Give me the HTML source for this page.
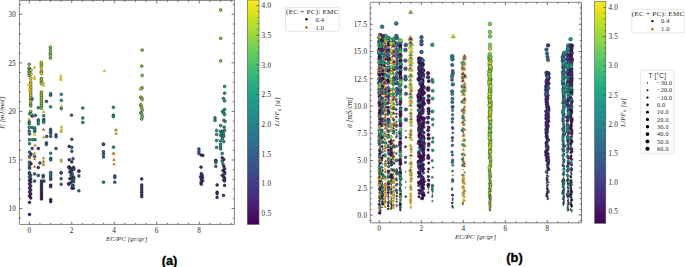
<!DOCTYPE html><html><head><meta charset="utf-8"><style>html,body{margin:0;padding:0;background:#fff;overflow:hidden}text{fill:#1e1e1e;letter-spacing:0.25px}svg{display:block}</style></head><body><svg width="685" height="267" viewBox="0 0 685 267"><defs><clipPath id="c1"><rect x="19.4" y="0.45" width="215.0" height="224.0"/></clipPath><clipPath id="c2"><rect x="370.2" y="2.3" width="211.2" height="220.5"/></clipPath></defs><g clip-path="url(#c1)"><circle cx="50.4" cy="47.2" r="1.42" fill="#75d054" stroke="#1a1a1a" stroke-width="0.5"/><circle cx="50.4" cy="49.9" r="1.42" fill="#75d054" stroke="#1a1a1a" stroke-width="0.5"/><circle cx="50.4" cy="52.8" r="1.42" fill="#75d054" stroke="#1a1a1a" stroke-width="0.5"/><circle cx="50.4" cy="55.1" r="1.42" fill="#75d054" stroke="#1a1a1a" stroke-width="0.5"/><circle cx="50.4" cy="58" r="1.42" fill="#75d054" stroke="#1a1a1a" stroke-width="0.5"/><circle cx="29.2" cy="64.3" r="1.42" fill="#75d054" stroke="#1a1a1a" stroke-width="0.5"/><circle cx="29.2" cy="68.2" r="1.42" fill="#3dbc74" stroke="#1a1a1a" stroke-width="0.5"/><circle cx="29.2" cy="69.7" r="1.42" fill="#75d054" stroke="#1a1a1a" stroke-width="0.5"/><circle cx="29.2" cy="71.3" r="1.42" fill="#75d054" stroke="#1a1a1a" stroke-width="0.5"/><circle cx="29.2" cy="73.3" r="1.42" fill="#75d054" stroke="#1a1a1a" stroke-width="0.5"/><circle cx="29.2" cy="75.4" r="1.42" fill="#75d054" stroke="#1a1a1a" stroke-width="0.5"/><circle cx="31" cy="70.1" r="1.42" fill="#efe51c" stroke="#1a1a1a" stroke-width="0.5"/><circle cx="31" cy="74.1" r="1.42" fill="#efe51c" stroke="#1a1a1a" stroke-width="0.5"/><circle cx="30.7" cy="78.4" r="1.42" fill="#efe51c" stroke="#1a1a1a" stroke-width="0.5"/><circle cx="30.7" cy="82" r="1.42" fill="#efe51c" stroke="#1a1a1a" stroke-width="0.5"/><circle cx="30.7" cy="84" r="1.42" fill="#efe51c" stroke="#1a1a1a" stroke-width="0.5"/><circle cx="30.7" cy="86" r="1.42" fill="#efe51c" stroke="#1a1a1a" stroke-width="0.5"/><circle cx="30.7" cy="88" r="1.42" fill="#efe51c" stroke="#1a1a1a" stroke-width="0.5"/><circle cx="30.7" cy="90" r="1.42" fill="#efe51c" stroke="#1a1a1a" stroke-width="0.5"/><circle cx="30.7" cy="92" r="1.42" fill="#efe51c" stroke="#1a1a1a" stroke-width="0.5"/><circle cx="30.7" cy="94" r="1.42" fill="#efe51c" stroke="#1a1a1a" stroke-width="0.5"/><circle cx="30.7" cy="96" r="1.42" fill="#efe51c" stroke="#1a1a1a" stroke-width="0.5"/><circle cx="30.7" cy="98" r="1.42" fill="#efe51c" stroke="#1a1a1a" stroke-width="0.5"/><circle cx="30.7" cy="100" r="1.42" fill="#efe51c" stroke="#1a1a1a" stroke-width="0.5"/><circle cx="30.7" cy="101.5" r="1.42" fill="#efe51c" stroke="#1a1a1a" stroke-width="0.5"/><circle cx="30.7" cy="104" r="1.42" fill="#75d054" stroke="#1a1a1a" stroke-width="0.5"/><circle cx="30.7" cy="106" r="1.42" fill="#75d054" stroke="#1a1a1a" stroke-width="0.5"/><path d="M34.5 65.91L35.92 68.29L33.08 68.29Z" fill="#75d054" stroke="#f5a623" stroke-width="0.6"/><path d="M34.5 75.41L35.92 77.79L33.08 77.79Z" fill="#75d054" stroke="#f5a623" stroke-width="0.6"/><path d="M34.5 77.41L35.92 79.79L33.08 79.79Z" fill="#75d054" stroke="#f5a623" stroke-width="0.6"/><circle cx="41.4" cy="62.3" r="1.42" fill="#efe51c" stroke="#1a1a1a" stroke-width="0.5"/><circle cx="41.4" cy="64.1" r="1.42" fill="#efe51c" stroke="#1a1a1a" stroke-width="0.5"/><circle cx="41.4" cy="65.7" r="1.42" fill="#efe51c" stroke="#1a1a1a" stroke-width="0.5"/><circle cx="41.4" cy="67.4" r="1.42" fill="#efe51c" stroke="#1a1a1a" stroke-width="0.5"/><circle cx="41.4" cy="70.8" r="1.42" fill="#efe51c" stroke="#1a1a1a" stroke-width="0.5"/><circle cx="41.4" cy="72.3" r="1.42" fill="#efe51c" stroke="#1a1a1a" stroke-width="0.5"/><circle cx="41.4" cy="73.5" r="1.42" fill="#efe51c" stroke="#1a1a1a" stroke-width="0.5"/><circle cx="41.4" cy="78.4" r="1.42" fill="#a8db34" stroke="#1a1a1a" stroke-width="0.5"/><circle cx="41.4" cy="80" r="1.42" fill="#a8db34" stroke="#1a1a1a" stroke-width="0.5"/><circle cx="41.4" cy="82" r="1.42" fill="#a8db34" stroke="#1a1a1a" stroke-width="0.5"/><circle cx="41.4" cy="83.5" r="1.42" fill="#a8db34" stroke="#1a1a1a" stroke-width="0.5"/><path d="M43.5 81.51L44.92 83.89L42.08 83.89Z" fill="#75d054" stroke="#f5a623" stroke-width="0.6"/><path d="M43.5 84.11L44.92 86.49L42.08 86.49Z" fill="#75d054" stroke="#f5a623" stroke-width="0.6"/><path d="M60.8 74.41L62.22 76.79L59.38 76.79Z" fill="#a8db34" stroke="#f5a623" stroke-width="0.6"/><path d="M60.8 76.41L62.22 78.79L59.38 78.79Z" fill="#75d054" stroke="#f5a623" stroke-width="0.6"/><path d="M60.8 78.01L62.22 80.39L59.38 80.39Z" fill="#75d054" stroke="#f5a623" stroke-width="0.6"/><path d="M28.6 83.11L30.02 85.49L27.18 85.49Z" fill="#efe51c" stroke="#f5a623" stroke-width="0.6"/><path d="M29 88.21L30.42 90.59L27.58 90.59Z" fill="#efe51c" stroke="#f5a623" stroke-width="0.6"/><circle cx="32.2" cy="98.9" r="1.42" fill="#1f9a8a" stroke="#1a1a1a" stroke-width="0.5"/><circle cx="41.4" cy="92" r="1.42" fill="#a8db34" stroke="#1a1a1a" stroke-width="0.5"/><circle cx="41.4" cy="94" r="1.42" fill="#a8db34" stroke="#1a1a1a" stroke-width="0.5"/><circle cx="41.4" cy="96" r="1.42" fill="#a8db34" stroke="#1a1a1a" stroke-width="0.5"/><circle cx="41.4" cy="98" r="1.42" fill="#a8db34" stroke="#1a1a1a" stroke-width="0.5"/><circle cx="41.4" cy="100" r="1.42" fill="#a8db34" stroke="#1a1a1a" stroke-width="0.5"/><circle cx="41.4" cy="102" r="1.42" fill="#a8db34" stroke="#1a1a1a" stroke-width="0.5"/><circle cx="41.4" cy="104" r="1.42" fill="#75d054" stroke="#1a1a1a" stroke-width="0.5"/><circle cx="41.4" cy="106" r="1.42" fill="#75d054" stroke="#1a1a1a" stroke-width="0.5"/><circle cx="41.4" cy="108.3" r="1.42" fill="#75d054" stroke="#1a1a1a" stroke-width="0.5"/><circle cx="50.6" cy="93.7" r="1.42" fill="#1f9a8a" stroke="#1a1a1a" stroke-width="0.5"/><circle cx="50.6" cy="95.3" r="1.42" fill="#297a8e" stroke="#1a1a1a" stroke-width="0.5"/><circle cx="61.3" cy="94.3" r="1.42" fill="#1f9a8a" stroke="#1a1a1a" stroke-width="0.5"/><circle cx="61.3" cy="100.4" r="1.42" fill="#1f9a8a" stroke="#1a1a1a" stroke-width="0.5"/><path d="M61.3 104.51L62.72 106.89L59.88 106.89Z" fill="#a8db34" stroke="#f5a623" stroke-width="0.6"/><circle cx="46.5" cy="101.4" r="1.42" fill="#33638d" stroke="#1a1a1a" stroke-width="0.5"/><circle cx="50.6" cy="106.8" r="1.42" fill="#1f9a8a" stroke="#1a1a1a" stroke-width="0.5"/><circle cx="38.3" cy="107.8" r="1.42" fill="#1f9a8a" stroke="#1a1a1a" stroke-width="0.5"/><circle cx="82.8" cy="108.1" r="1.42" fill="#1f9a8a" stroke="#1a1a1a" stroke-width="0.5"/><circle cx="61.3" cy="108.6" r="1.42" fill="#1f9a8a" stroke="#1a1a1a" stroke-width="0.5"/><circle cx="30.7" cy="111.6" r="1.42" fill="#75d054" stroke="#1a1a1a" stroke-width="0.5"/><circle cx="29.7" cy="113.7" r="1.42" fill="#1f9a8a" stroke="#1a1a1a" stroke-width="0.5"/><circle cx="31.2" cy="114.2" r="1.42" fill="#75d054" stroke="#1a1a1a" stroke-width="0.5"/><circle cx="32.2" cy="116.2" r="1.42" fill="#33638d" stroke="#1a1a1a" stroke-width="0.5"/><circle cx="35.3" cy="115.4" r="1.42" fill="#33638d" stroke="#1a1a1a" stroke-width="0.5"/><path d="M43.5 110.11L44.92 112.49L42.08 112.49Z" fill="#75d054" stroke="#f5a623" stroke-width="0.6"/><circle cx="43.7" cy="115.7" r="1.42" fill="#1f9a8a" stroke="#1a1a1a" stroke-width="0.5"/><circle cx="43.7" cy="119.3" r="1.42" fill="#1f9a8a" stroke="#1a1a1a" stroke-width="0.5"/><circle cx="43.7" cy="120.8" r="1.42" fill="#1f9a8a" stroke="#1a1a1a" stroke-width="0.5"/><circle cx="43.7" cy="122.3" r="1.42" fill="#1f9a8a" stroke="#1a1a1a" stroke-width="0.5"/><circle cx="71.5" cy="115.2" r="1.42" fill="#33638d" stroke="#1a1a1a" stroke-width="0.5"/><circle cx="82.8" cy="118" r="1.42" fill="#1f9a8a" stroke="#1a1a1a" stroke-width="0.5"/><circle cx="82.8" cy="122.5" r="1.42" fill="#1f9a8a" stroke="#1a1a1a" stroke-width="0.5"/><path d="M29.2 117.61L30.62 119.99L27.78 119.99Z" fill="#75d054" stroke="#f5a623" stroke-width="0.6"/><circle cx="29.2" cy="121.8" r="1.42" fill="#1f9a8a" stroke="#1a1a1a" stroke-width="0.5"/><circle cx="29.2" cy="123.9" r="1.42" fill="#1f9a8a" stroke="#1a1a1a" stroke-width="0.5"/><circle cx="29.2" cy="127.5" r="1.42" fill="#1f9a8a" stroke="#1a1a1a" stroke-width="0.5"/><circle cx="29.2" cy="131" r="1.42" fill="#1f9a8a" stroke="#1a1a1a" stroke-width="0.5"/><circle cx="38.3" cy="119.8" r="1.42" fill="#1f9a8a" stroke="#1a1a1a" stroke-width="0.5"/><circle cx="38.3" cy="121.3" r="1.42" fill="#1f9a8a" stroke="#1a1a1a" stroke-width="0.5"/><circle cx="38.3" cy="123.9" r="1.42" fill="#1f9a8a" stroke="#1a1a1a" stroke-width="0.5"/><circle cx="32.2" cy="127.5" r="1.42" fill="#1f9a8a" stroke="#1a1a1a" stroke-width="0.5"/><circle cx="34.8" cy="128" r="1.42" fill="#1f9a8a" stroke="#1a1a1a" stroke-width="0.5"/><circle cx="34.8" cy="130.5" r="1.42" fill="#1f9a8a" stroke="#1a1a1a" stroke-width="0.5"/><path d="M43.5 128.01L44.92 130.39L42.08 130.39Z" fill="#482576" stroke="#f5a623" stroke-width="0.6"/><circle cx="50.6" cy="129.3" r="1.42" fill="#33638d" stroke="#1a1a1a" stroke-width="0.5"/><circle cx="50.6" cy="131.5" r="1.42" fill="#33638d" stroke="#1a1a1a" stroke-width="0.5"/><path d="M61.3 125.51L62.72 127.89L59.88 127.89Z" fill="#75d054" stroke="#f5a623" stroke-width="0.6"/><path d="M61.3 128.01L62.72 130.39L59.88 130.39Z" fill="#a8db34" stroke="#f5a623" stroke-width="0.6"/><circle cx="29.5" cy="134" r="1.42" fill="#33638d" stroke="#1a1a1a" stroke-width="0.5"/><circle cx="34.6" cy="131.5" r="1.42" fill="#1f9a8a" stroke="#1a1a1a" stroke-width="0.5"/><path d="M34.6 133.01L36.02 135.39L33.18 135.39Z" fill="#a8db34" stroke="#f5a623" stroke-width="0.6"/><path d="M43.5 135.71L44.92 138.09L42.08 138.09Z" fill="#75d054" stroke="#f5a623" stroke-width="0.6"/><circle cx="46.7" cy="136.4" r="1.42" fill="#33638d" stroke="#1a1a1a" stroke-width="0.5"/><circle cx="50.7" cy="133.4" r="1.42" fill="#33638d" stroke="#1a1a1a" stroke-width="0.5"/><circle cx="50.7" cy="136.4" r="1.42" fill="#33638d" stroke="#1a1a1a" stroke-width="0.5"/><circle cx="56" cy="134.8" r="1.42" fill="#33638d" stroke="#1a1a1a" stroke-width="0.5"/><circle cx="56" cy="136.8" r="1.42" fill="#33638d" stroke="#1a1a1a" stroke-width="0.5"/><path d="M61.2 130.01L62.62 132.39L59.78 132.39Z" fill="#1f9a8a" stroke="#f5a623" stroke-width="0.6"/><circle cx="29.5" cy="139.7" r="1.42" fill="#1f9a8a" stroke="#1a1a1a" stroke-width="0.5"/><circle cx="32.7" cy="139.7" r="1.42" fill="#1f9a8a" stroke="#1a1a1a" stroke-width="0.5"/><circle cx="35.1" cy="139.7" r="1.42" fill="#1f9a8a" stroke="#1a1a1a" stroke-width="0.5"/><circle cx="29.5" cy="143.7" r="1.42" fill="#1f9a8a" stroke="#1a1a1a" stroke-width="0.5"/><circle cx="46.4" cy="142.9" r="1.42" fill="#33638d" stroke="#1a1a1a" stroke-width="0.5"/><circle cx="46.4" cy="144.5" r="1.42" fill="#33638d" stroke="#1a1a1a" stroke-width="0.5"/><circle cx="71.8" cy="139.3" r="1.42" fill="#33638d" stroke="#1a1a1a" stroke-width="0.5"/><path d="M35.1 143.81L36.52 146.19L33.68 146.19Z" fill="#33638d" stroke="#f5a623" stroke-width="0.6"/><circle cx="32.2" cy="148.5" r="1.42" fill="#33638d" stroke="#1a1a1a" stroke-width="0.5"/><circle cx="38.3" cy="148.5" r="1.42" fill="#482576" stroke="#1a1a1a" stroke-width="0.5"/><circle cx="56" cy="148.5" r="1.42" fill="#33638d" stroke="#1a1a1a" stroke-width="0.5"/><circle cx="69.2" cy="146.4" r="1.42" fill="#482576" stroke="#1a1a1a" stroke-width="0.5"/><circle cx="71.8" cy="147.4" r="1.42" fill="#33638d" stroke="#1a1a1a" stroke-width="0.5"/><circle cx="71.8" cy="151.3" r="1.42" fill="#33638d" stroke="#1a1a1a" stroke-width="0.5"/><circle cx="103.5" cy="144.5" r="1.42" fill="#33638d" stroke="#1a1a1a" stroke-width="0.5"/><circle cx="113.5" cy="147.2" r="1.42" fill="#1f9a8a" stroke="#1a1a1a" stroke-width="0.5"/><path d="M116.1 128.51L117.52 130.89L114.68 130.89Z" fill="#33638d" stroke="#f5a623" stroke-width="0.6"/><path d="M116.1 132.01L117.52 134.39L114.68 134.39Z" fill="#33638d" stroke="#f5a623" stroke-width="0.6"/><circle cx="29.5" cy="152.2" r="1.42" fill="#33638d" stroke="#1a1a1a" stroke-width="0.5"/><circle cx="31.1" cy="154.2" r="1.42" fill="#482576" stroke="#1a1a1a" stroke-width="0.5"/><path d="M34.6 151.81L36.02 154.19L33.18 154.19Z" fill="#1f9a8a" stroke="#f5a623" stroke-width="0.6"/><circle cx="29.5" cy="156.6" r="1.42" fill="#33638d" stroke="#1a1a1a" stroke-width="0.5"/><path d="M29.5 156.71L30.92 159.09L28.08 159.09Z" fill="#482576" stroke="#f5a623" stroke-width="0.6"/><circle cx="34.6" cy="156.6" r="1.42" fill="#33638d" stroke="#1a1a1a" stroke-width="0.5"/><path d="M34.6 157.51L36.02 159.89L33.18 159.89Z" fill="#33638d" stroke="#f5a623" stroke-width="0.6"/><circle cx="50.7" cy="153.3" r="1.42" fill="#1f9a8a" stroke="#1a1a1a" stroke-width="0.5"/><circle cx="50.7" cy="158.2" r="1.42" fill="#1f9a8a" stroke="#1a1a1a" stroke-width="0.5"/><circle cx="50.7" cy="159.8" r="1.42" fill="#33638d" stroke="#1a1a1a" stroke-width="0.5"/><path d="M43.5 156.71L44.92 159.09L42.08 159.09Z" fill="#33638d" stroke="#f5a623" stroke-width="0.6"/><path d="M43.5 159.91L44.92 162.29L42.08 162.29Z" fill="#482576" stroke="#f5a623" stroke-width="0.6"/><path d="M43.5 162.31L44.92 164.69L42.08 164.69Z" fill="#33638d" stroke="#f5a623" stroke-width="0.6"/><path d="M61.2 158.31L62.62 160.69L59.78 160.69Z" fill="#33638d" stroke="#f5a623" stroke-width="0.6"/><path d="M61.2 159.91L62.62 162.29L59.78 162.29Z" fill="#1f9a8a" stroke="#f5a623" stroke-width="0.6"/><circle cx="69.2" cy="159.8" r="1.42" fill="#482576" stroke="#1a1a1a" stroke-width="0.5"/><circle cx="73" cy="158.7" r="1.42" fill="#33638d" stroke="#1a1a1a" stroke-width="0.5"/><circle cx="71.8" cy="161.9" r="1.42" fill="#482576" stroke="#1a1a1a" stroke-width="0.5"/><circle cx="103.5" cy="151.7" r="1.42" fill="#33638d" stroke="#1a1a1a" stroke-width="0.5"/><circle cx="103.5" cy="154.2" r="1.42" fill="#33638d" stroke="#1a1a1a" stroke-width="0.5"/><circle cx="103.5" cy="157" r="1.42" fill="#33638d" stroke="#1a1a1a" stroke-width="0.5"/><path d="M114 152.31L115.42 154.69L112.58 154.69Z" fill="#33638d" stroke="#f5a623" stroke-width="0.6"/><path d="M114 158.31L115.42 160.69L112.58 160.69Z" fill="#482576" stroke="#f5a623" stroke-width="0.6"/><path d="M114 162.61L115.42 164.99L112.58 164.99Z" fill="#33638d" stroke="#f5a623" stroke-width="0.6"/><circle cx="29.5" cy="162.2" r="1.42" fill="#33638d" stroke="#1a1a1a" stroke-width="0.5"/><circle cx="31.1" cy="163.8" r="1.42" fill="#482576" stroke="#1a1a1a" stroke-width="0.5"/><circle cx="29.5" cy="165.1" r="1.42" fill="#33638d" stroke="#1a1a1a" stroke-width="0.5"/><circle cx="29.5" cy="167.8" r="1.42" fill="#482576" stroke="#1a1a1a" stroke-width="0.5"/><path d="M34.6 165.21L36.02 167.59L33.18 167.59Z" fill="#482576" stroke="#f5a623" stroke-width="0.6"/><circle cx="39.9" cy="163" r="1.42" fill="#33638d" stroke="#1a1a1a" stroke-width="0.5"/><circle cx="38.3" cy="167.5" r="1.42" fill="#482576" stroke="#1a1a1a" stroke-width="0.5"/><circle cx="69.2" cy="167" r="1.42" fill="#482576" stroke="#1a1a1a" stroke-width="0.5"/><circle cx="70.2" cy="168.6" r="1.42" fill="#482576" stroke="#1a1a1a" stroke-width="0.5"/><circle cx="73.8" cy="169.1" r="1.42" fill="#482576" stroke="#1a1a1a" stroke-width="0.5"/><circle cx="78.9" cy="171.1" r="1.42" fill="#482576" stroke="#1a1a1a" stroke-width="0.5"/><circle cx="50.7" cy="172.7" r="1.42" fill="#33638d" stroke="#1a1a1a" stroke-width="0.5"/><circle cx="61.2" cy="172.7" r="1.42" fill="#482576" stroke="#1a1a1a" stroke-width="0.5"/><circle cx="29.5" cy="172.7" r="1.42" fill="#482576" stroke="#1a1a1a" stroke-width="0.5"/><circle cx="29.5" cy="168.2" r="1.42" fill="#33638d" stroke="#1a1a1a" stroke-width="0.5"/><path d="M43.2 163.51L44.62 165.89L41.78 165.89Z" fill="#1f9a8a" stroke="#f5a623" stroke-width="0.6"/><circle cx="29.5" cy="174" r="1.42" fill="#33638d" stroke="#1a1a1a" stroke-width="0.5"/><circle cx="30.7" cy="175.5" r="1.42" fill="#33638d" stroke="#1a1a1a" stroke-width="0.5"/><circle cx="29.5" cy="177" r="1.42" fill="#33638d" stroke="#1a1a1a" stroke-width="0.5"/><circle cx="30.7" cy="179" r="1.42" fill="#482576" stroke="#1a1a1a" stroke-width="0.5"/><circle cx="29.5" cy="180.5" r="1.42" fill="#482576" stroke="#1a1a1a" stroke-width="0.5"/><circle cx="30.7" cy="182" r="1.42" fill="#482576" stroke="#1a1a1a" stroke-width="0.5"/><circle cx="29.5" cy="184" r="1.42" fill="#482576" stroke="#1a1a1a" stroke-width="0.5"/><circle cx="30.7" cy="186" r="1.42" fill="#482576" stroke="#1a1a1a" stroke-width="0.5"/><circle cx="29.5" cy="188" r="1.42" fill="#482576" stroke="#1a1a1a" stroke-width="0.5"/><circle cx="30.7" cy="190" r="1.42" fill="#482576" stroke="#1a1a1a" stroke-width="0.5"/><circle cx="29.5" cy="192" r="1.42" fill="#482576" stroke="#1a1a1a" stroke-width="0.5"/><circle cx="30.7" cy="194" r="1.42" fill="#460b5e" stroke="#1a1a1a" stroke-width="0.5"/><circle cx="29.5" cy="196" r="1.42" fill="#460b5e" stroke="#1a1a1a" stroke-width="0.5"/><circle cx="30.7" cy="198" r="1.42" fill="#460b5e" stroke="#1a1a1a" stroke-width="0.5"/><circle cx="34.6" cy="173.9" r="1.42" fill="#33638d" stroke="#1a1a1a" stroke-width="0.5"/><circle cx="34.6" cy="181.1" r="1.42" fill="#33638d" stroke="#1a1a1a" stroke-width="0.5"/><circle cx="38.3" cy="175.5" r="1.42" fill="#33638d" stroke="#1a1a1a" stroke-width="0.5"/><circle cx="43.2" cy="175.5" r="1.42" fill="#33638d" stroke="#1a1a1a" stroke-width="0.5"/><circle cx="43.2" cy="177" r="1.42" fill="#33638d" stroke="#1a1a1a" stroke-width="0.5"/><circle cx="44" cy="181.1" r="1.42" fill="#33638d" stroke="#1a1a1a" stroke-width="0.5"/><circle cx="41.5" cy="181" r="1.42" fill="#482576" stroke="#1a1a1a" stroke-width="0.5"/><circle cx="41.5" cy="183" r="1.42" fill="#482576" stroke="#1a1a1a" stroke-width="0.5"/><circle cx="41.5" cy="185" r="1.42" fill="#482576" stroke="#1a1a1a" stroke-width="0.5"/><circle cx="41.5" cy="187" r="1.42" fill="#482576" stroke="#1a1a1a" stroke-width="0.5"/><circle cx="41.5" cy="189" r="1.42" fill="#482576" stroke="#1a1a1a" stroke-width="0.5"/><circle cx="41.5" cy="191" r="1.42" fill="#482576" stroke="#1a1a1a" stroke-width="0.5"/><circle cx="41.5" cy="193" r="1.42" fill="#460b5e" stroke="#1a1a1a" stroke-width="0.5"/><circle cx="41.5" cy="195" r="1.42" fill="#460b5e" stroke="#1a1a1a" stroke-width="0.5"/><circle cx="41.5" cy="197" r="1.42" fill="#460b5e" stroke="#1a1a1a" stroke-width="0.5"/><circle cx="41.5" cy="199" r="1.42" fill="#460b5e" stroke="#1a1a1a" stroke-width="0.5"/><circle cx="50.7" cy="173" r="1.42" fill="#1f9a8a" stroke="#1a1a1a" stroke-width="0.5"/><circle cx="50.7" cy="175.5" r="1.42" fill="#33638d" stroke="#1a1a1a" stroke-width="0.5"/><circle cx="50.7" cy="177.9" r="1.42" fill="#33638d" stroke="#1a1a1a" stroke-width="0.5"/><circle cx="50.7" cy="179.5" r="1.42" fill="#33638d" stroke="#1a1a1a" stroke-width="0.5"/><circle cx="50.7" cy="185.1" r="1.42" fill="#482576" stroke="#1a1a1a" stroke-width="0.5"/><circle cx="50.7" cy="186.7" r="1.42" fill="#482576" stroke="#1a1a1a" stroke-width="0.5"/><circle cx="50.7" cy="199.6" r="1.42" fill="#460b5e" stroke="#1a1a1a" stroke-width="0.5"/><circle cx="50.7" cy="201.7" r="1.42" fill="#460b5e" stroke="#1a1a1a" stroke-width="0.5"/><circle cx="61.2" cy="173" r="1.42" fill="#33638d" stroke="#1a1a1a" stroke-width="0.5"/><circle cx="61.2" cy="178.7" r="1.42" fill="#33638d" stroke="#1a1a1a" stroke-width="0.5"/><circle cx="61.2" cy="184.3" r="1.42" fill="#33638d" stroke="#1a1a1a" stroke-width="0.5"/><circle cx="69.78" cy="178.7" r="1.42" fill="#482576" stroke="#1a1a1a" stroke-width="0.5"/><circle cx="73.71" cy="177.19" r="1.42" fill="#297a8e" stroke="#1a1a1a" stroke-width="0.5"/><circle cx="68.78" cy="167.28" r="1.42" fill="#482576" stroke="#1a1a1a" stroke-width="0.5"/><circle cx="69.9" cy="172.04" r="1.42" fill="#482576" stroke="#1a1a1a" stroke-width="0.5"/><circle cx="71.54" cy="178.82" r="1.42" fill="#482576" stroke="#1a1a1a" stroke-width="0.5"/><circle cx="72.11" cy="170.24" r="1.42" fill="#33638d" stroke="#1a1a1a" stroke-width="0.5"/><circle cx="73.43" cy="178.25" r="1.42" fill="#33638d" stroke="#1a1a1a" stroke-width="0.5"/><circle cx="72.29" cy="168.38" r="1.42" fill="#297a8e" stroke="#1a1a1a" stroke-width="0.5"/><circle cx="68.65" cy="183.77" r="1.42" fill="#482576" stroke="#1a1a1a" stroke-width="0.5"/><circle cx="71.14" cy="182.45" r="1.42" fill="#482576" stroke="#1a1a1a" stroke-width="0.5"/><circle cx="72.54" cy="186.8" r="1.42" fill="#482576" stroke="#1a1a1a" stroke-width="0.5"/><circle cx="72.62" cy="179.4" r="1.42" fill="#33638d" stroke="#1a1a1a" stroke-width="0.5"/><circle cx="73.5" cy="169.1" r="1.42" fill="#33638d" stroke="#1a1a1a" stroke-width="0.5"/><circle cx="71.27" cy="172.55" r="1.42" fill="#482576" stroke="#1a1a1a" stroke-width="0.5"/><circle cx="72.92" cy="185.39" r="1.42" fill="#482576" stroke="#1a1a1a" stroke-width="0.5"/><circle cx="71.34" cy="175.3" r="1.42" fill="#482576" stroke="#1a1a1a" stroke-width="0.5"/><circle cx="71.5" cy="175.76" r="1.42" fill="#33638d" stroke="#1a1a1a" stroke-width="0.5"/><circle cx="73.64" cy="181.66" r="1.42" fill="#33638d" stroke="#1a1a1a" stroke-width="0.5"/><circle cx="73.37" cy="188.31" r="1.42" fill="#33638d" stroke="#1a1a1a" stroke-width="0.5"/><circle cx="72.45" cy="174.02" r="1.42" fill="#297a8e" stroke="#1a1a1a" stroke-width="0.5"/><circle cx="73.65" cy="179.24" r="1.42" fill="#33638d" stroke="#1a1a1a" stroke-width="0.5"/><circle cx="72.07" cy="188.24" r="1.42" fill="#482576" stroke="#1a1a1a" stroke-width="0.5"/><circle cx="70.05" cy="168.36" r="1.42" fill="#482576" stroke="#1a1a1a" stroke-width="0.5"/><circle cx="68.91" cy="184.21" r="1.42" fill="#482576" stroke="#1a1a1a" stroke-width="0.5"/><circle cx="73.6" cy="167.43" r="1.42" fill="#482576" stroke="#1a1a1a" stroke-width="0.5"/><circle cx="72.86" cy="185.76" r="1.42" fill="#33638d" stroke="#1a1a1a" stroke-width="0.5"/><circle cx="78.9" cy="171.1" r="1.42" fill="#482576" stroke="#1a1a1a" stroke-width="0.5"/><circle cx="78.9" cy="176" r="1.42" fill="#33638d" stroke="#1a1a1a" stroke-width="0.5"/><circle cx="78.9" cy="190.8" r="1.42" fill="#33638d" stroke="#1a1a1a" stroke-width="0.5"/><circle cx="103.5" cy="182.2" r="1.42" fill="#297a8e" stroke="#1a1a1a" stroke-width="0.5"/><circle cx="114.8" cy="176" r="1.42" fill="#33638d" stroke="#1a1a1a" stroke-width="0.5"/><circle cx="114.8" cy="177.6" r="1.42" fill="#33638d" stroke="#1a1a1a" stroke-width="0.5"/><circle cx="114.8" cy="182.2" r="1.42" fill="#33638d" stroke="#1a1a1a" stroke-width="0.5"/><circle cx="29.5" cy="202.4" r="1.42" fill="#460b5e" stroke="#1a1a1a" stroke-width="0.5"/><circle cx="29.5" cy="214.5" r="1.42" fill="#460b5e" stroke="#1a1a1a" stroke-width="0.5"/><path d="M104.4 69.41L105.82 71.79L102.98 71.79Z" fill="#75d054" stroke="#f5a623" stroke-width="0.6"/><circle cx="113.4" cy="107.3" r="1.42" fill="#1f9a8a" stroke="#1a1a1a" stroke-width="0.5"/><circle cx="113.4" cy="115.2" r="1.42" fill="#1f9a8a" stroke="#1a1a1a" stroke-width="0.5"/><circle cx="113.4" cy="116.7" r="1.42" fill="#1f9a8a" stroke="#1a1a1a" stroke-width="0.5"/><circle cx="220.7" cy="10" r="1.42" fill="#75d054" stroke="#1a1a1a" stroke-width="0.5"/><circle cx="220.7" cy="38.3" r="1.42" fill="#75d054" stroke="#1a1a1a" stroke-width="0.5"/><circle cx="220.6" cy="60.9" r="1.42" fill="#75d054" stroke="#1a1a1a" stroke-width="0.5"/><circle cx="142.2" cy="50.1" r="1.42" fill="#75d054" stroke="#1a1a1a" stroke-width="0.5"/><circle cx="141.7" cy="66.1" r="1.42" fill="#75d054" stroke="#1a1a1a" stroke-width="0.5"/><circle cx="142.2" cy="75.4" r="1.42" fill="#75d054" stroke="#1a1a1a" stroke-width="0.5"/><circle cx="142.2" cy="87.7" r="1.42" fill="#a8db34" stroke="#1a1a1a" stroke-width="0.5"/><circle cx="140.9" cy="88.9" r="1.42" fill="#a8db34" stroke="#1a1a1a" stroke-width="0.5"/><circle cx="140.7" cy="97.2" r="1.42" fill="#a8db34" stroke="#1a1a1a" stroke-width="0.5"/><circle cx="141.7" cy="98.1" r="1.42" fill="#a8db34" stroke="#1a1a1a" stroke-width="0.5"/><circle cx="142.2" cy="99.6" r="1.42" fill="#a8db34" stroke="#1a1a1a" stroke-width="0.5"/><circle cx="140.7" cy="104.7" r="1.42" fill="#a8db34" stroke="#1a1a1a" stroke-width="0.5"/><circle cx="141.2" cy="106.2" r="1.42" fill="#a8db34" stroke="#1a1a1a" stroke-width="0.5"/><circle cx="141.7" cy="107.8" r="1.42" fill="#a8db34" stroke="#1a1a1a" stroke-width="0.5"/><circle cx="142.2" cy="110.3" r="1.42" fill="#75d054" stroke="#1a1a1a" stroke-width="0.5"/><circle cx="140.7" cy="112.9" r="1.42" fill="#75d054" stroke="#1a1a1a" stroke-width="0.5"/><circle cx="141.7" cy="113.9" r="1.42" fill="#75d054" stroke="#1a1a1a" stroke-width="0.5"/><circle cx="142.2" cy="116.5" r="1.42" fill="#75d054" stroke="#1a1a1a" stroke-width="0.5"/><circle cx="141.7" cy="119" r="1.42" fill="#75d054" stroke="#1a1a1a" stroke-width="0.5"/><circle cx="224.6" cy="86.4" r="1.42" fill="#1f9a8a" stroke="#1a1a1a" stroke-width="0.5"/><circle cx="224.6" cy="93.2" r="1.42" fill="#1f9a8a" stroke="#1a1a1a" stroke-width="0.5"/><circle cx="223.5" cy="98.5" r="1.42" fill="#1f9a8a" stroke="#1a1a1a" stroke-width="0.5"/><circle cx="224.6" cy="100.9" r="1.42" fill="#1f9a8a" stroke="#1a1a1a" stroke-width="0.5"/><circle cx="224.6" cy="109.5" r="1.42" fill="#1f9a8a" stroke="#1a1a1a" stroke-width="0.5"/><circle cx="222.5" cy="111.4" r="1.42" fill="#1f9a8a" stroke="#1a1a1a" stroke-width="0.5"/><circle cx="223.8" cy="113" r="1.42" fill="#1f9a8a" stroke="#1a1a1a" stroke-width="0.5"/><circle cx="224.6" cy="114.6" r="1.42" fill="#1f9a8a" stroke="#1a1a1a" stroke-width="0.5"/><circle cx="223.8" cy="120.3" r="1.42" fill="#1f9a8a" stroke="#1a1a1a" stroke-width="0.5"/><circle cx="225.1" cy="121.5" r="1.42" fill="#1f9a8a" stroke="#1a1a1a" stroke-width="0.5"/><circle cx="215" cy="117.8" r="1.42" fill="#1f9a8a" stroke="#1a1a1a" stroke-width="0.5"/><circle cx="215" cy="120.3" r="1.42" fill="#1f9a8a" stroke="#1a1a1a" stroke-width="0.5"/><circle cx="220.6" cy="125.6" r="1.42" fill="#1f9a8a" stroke="#1a1a1a" stroke-width="0.5"/><circle cx="224.2" cy="127.2" r="1.42" fill="#1f9a8a" stroke="#1a1a1a" stroke-width="0.5"/><circle cx="216.6" cy="130.5" r="1.42" fill="#1f9a8a" stroke="#1a1a1a" stroke-width="0.5"/><circle cx="220.6" cy="131.3" r="1.42" fill="#1f9a8a" stroke="#1a1a1a" stroke-width="0.5"/><circle cx="222.5" cy="131.3" r="1.42" fill="#1f9a8a" stroke="#1a1a1a" stroke-width="0.5"/><circle cx="224.6" cy="130.5" r="1.42" fill="#1f9a8a" stroke="#1a1a1a" stroke-width="0.5"/><circle cx="221.4" cy="132.9" r="1.42" fill="#1f9a8a" stroke="#1a1a1a" stroke-width="0.5"/><circle cx="223.5" cy="133.7" r="1.42" fill="#1f9a8a" stroke="#1a1a1a" stroke-width="0.5"/><circle cx="220.6" cy="135.3" r="1.42" fill="#1f9a8a" stroke="#1a1a1a" stroke-width="0.5"/><circle cx="222.5" cy="136.1" r="1.42" fill="#1f9a8a" stroke="#1a1a1a" stroke-width="0.5"/><circle cx="223.8" cy="136.1" r="1.42" fill="#1f9a8a" stroke="#1a1a1a" stroke-width="0.5"/><circle cx="216.6" cy="134.5" r="1.42" fill="#1f9a8a" stroke="#1a1a1a" stroke-width="0.5"/><circle cx="222.5" cy="138.5" r="1.42" fill="#1f9a8a" stroke="#1a1a1a" stroke-width="0.5"/><circle cx="216.6" cy="140.5" r="1.42" fill="#1f9a8a" stroke="#1a1a1a" stroke-width="0.5"/><circle cx="220.6" cy="140.9" r="1.42" fill="#1f9a8a" stroke="#1a1a1a" stroke-width="0.5"/><circle cx="223.8" cy="141.7" r="1.42" fill="#1f9a8a" stroke="#1a1a1a" stroke-width="0.5"/><circle cx="220.6" cy="144.2" r="1.42" fill="#1f9a8a" stroke="#1a1a1a" stroke-width="0.5"/><circle cx="220.6" cy="146.6" r="1.42" fill="#1f9a8a" stroke="#1a1a1a" stroke-width="0.5"/><circle cx="216.6" cy="147.4" r="1.42" fill="#1f9a8a" stroke="#1a1a1a" stroke-width="0.5"/><circle cx="220.6" cy="149" r="1.42" fill="#1f9a8a" stroke="#1a1a1a" stroke-width="0.5"/><circle cx="222.2" cy="153.5" r="1.42" fill="#1f9a8a" stroke="#1a1a1a" stroke-width="0.5"/><circle cx="222.2" cy="161.1" r="1.42" fill="#1f9a8a" stroke="#1a1a1a" stroke-width="0.5"/><circle cx="223" cy="164" r="1.42" fill="#1f9a8a" stroke="#1a1a1a" stroke-width="0.5"/><circle cx="198.9" cy="149" r="1.42" fill="#33638d" stroke="#1a1a1a" stroke-width="0.5"/><circle cx="198.9" cy="151.4" r="1.42" fill="#33638d" stroke="#1a1a1a" stroke-width="0.5"/><circle cx="198.9" cy="153.5" r="1.42" fill="#33638d" stroke="#1a1a1a" stroke-width="0.5"/><circle cx="201.3" cy="155.1" r="1.42" fill="#482576" stroke="#1a1a1a" stroke-width="0.5"/><circle cx="202.9" cy="155.4" r="1.42" fill="#482576" stroke="#1a1a1a" stroke-width="0.5"/><circle cx="215.8" cy="160.3" r="1.42" fill="#460b5e" stroke="#1a1a1a" stroke-width="0.5"/><circle cx="222.2" cy="157.8" r="1.42" fill="#482576" stroke="#1a1a1a" stroke-width="0.5"/><circle cx="223.8" cy="159.5" r="1.42" fill="#482576" stroke="#1a1a1a" stroke-width="0.5"/><circle cx="141.7" cy="179" r="1.42" fill="#482576" stroke="#1a1a1a" stroke-width="0.5"/><circle cx="141.7" cy="185" r="1.42" fill="#482576" stroke="#1a1a1a" stroke-width="0.5"/><circle cx="141.7" cy="187.4" r="1.42" fill="#482576" stroke="#1a1a1a" stroke-width="0.5"/><circle cx="141.7" cy="189.8" r="1.42" fill="#482576" stroke="#1a1a1a" stroke-width="0.5"/><circle cx="141.7" cy="192.2" r="1.42" fill="#482576" stroke="#1a1a1a" stroke-width="0.5"/><circle cx="141.7" cy="194.6" r="1.42" fill="#482576" stroke="#1a1a1a" stroke-width="0.5"/><circle cx="141.7" cy="196.7" r="1.42" fill="#482576" stroke="#1a1a1a" stroke-width="0.5"/><circle cx="201" cy="167.2" r="1.42" fill="#482576" stroke="#1a1a1a" stroke-width="0.5"/><circle cx="201.3" cy="173.7" r="1.42" fill="#482576" stroke="#1a1a1a" stroke-width="0.5"/><circle cx="202.1" cy="175.3" r="1.42" fill="#482576" stroke="#1a1a1a" stroke-width="0.5"/><circle cx="200.5" cy="176.9" r="1.42" fill="#482576" stroke="#1a1a1a" stroke-width="0.5"/><circle cx="202.6" cy="177.7" r="1.42" fill="#482576" stroke="#1a1a1a" stroke-width="0.5"/><circle cx="201.3" cy="179.3" r="1.42" fill="#482576" stroke="#1a1a1a" stroke-width="0.5"/><circle cx="202.6" cy="180.9" r="1.42" fill="#482576" stroke="#1a1a1a" stroke-width="0.5"/><circle cx="201" cy="182.5" r="1.42" fill="#482576" stroke="#1a1a1a" stroke-width="0.5"/><circle cx="201.3" cy="184.2" r="1.42" fill="#482576" stroke="#1a1a1a" stroke-width="0.5"/><circle cx="215.8" cy="160.8" r="1.42" fill="#33638d" stroke="#1a1a1a" stroke-width="0.5"/><circle cx="215.8" cy="162.4" r="1.42" fill="#33638d" stroke="#1a1a1a" stroke-width="0.5"/><circle cx="215.8" cy="166.4" r="1.42" fill="#33638d" stroke="#1a1a1a" stroke-width="0.5"/><circle cx="217.1" cy="185" r="1.42" fill="#482576" stroke="#1a1a1a" stroke-width="0.5"/><circle cx="217.1" cy="192.2" r="1.42" fill="#482576" stroke="#1a1a1a" stroke-width="0.5"/><circle cx="217.1" cy="193.8" r="1.42" fill="#482576" stroke="#1a1a1a" stroke-width="0.5"/><circle cx="217.1" cy="197.4" r="1.42" fill="#482576" stroke="#1a1a1a" stroke-width="0.5"/><circle cx="223.8" cy="166.4" r="1.42" fill="#482576" stroke="#1a1a1a" stroke-width="0.5"/><circle cx="224.6" cy="168.9" r="1.42" fill="#482576" stroke="#1a1a1a" stroke-width="0.5"/><circle cx="223" cy="170.5" r="1.42" fill="#482576" stroke="#1a1a1a" stroke-width="0.5"/><circle cx="224.6" cy="172.1" r="1.42" fill="#482576" stroke="#1a1a1a" stroke-width="0.5"/><circle cx="222.2" cy="175.3" r="1.42" fill="#482576" stroke="#1a1a1a" stroke-width="0.5"/><circle cx="224.6" cy="173.7" r="1.42" fill="#482576" stroke="#1a1a1a" stroke-width="0.5"/><circle cx="223.8" cy="176.9" r="1.42" fill="#482576" stroke="#1a1a1a" stroke-width="0.5"/><circle cx="224.6" cy="178.5" r="1.42" fill="#482576" stroke="#1a1a1a" stroke-width="0.5"/><circle cx="223.8" cy="180.1" r="1.42" fill="#482576" stroke="#1a1a1a" stroke-width="0.5"/><circle cx="224.6" cy="180.9" r="1.42" fill="#482576" stroke="#1a1a1a" stroke-width="0.5"/><circle cx="224.6" cy="185.4" r="1.42" fill="#482576" stroke="#1a1a1a" stroke-width="0.5"/><circle cx="223.5" cy="195.4" r="1.42" fill="#482576" stroke="#1a1a1a" stroke-width="0.5"/><circle cx="103.3" cy="144" r="1.42" fill="#33638d" stroke="#1a1a1a" stroke-width="0.5"/><path d="M115.7 128.51L117.12 130.89L114.28 130.89Z" fill="#33638d" stroke="#f5a623" stroke-width="0.6"/><path d="M113.3 151.81L114.72 154.19L111.88 154.19Z" fill="#33638d" stroke="#f5a623" stroke-width="0.6"/></g><g clip-path="url(#c2)"><circle cx="567.66" cy="203.37" r="0.55" fill="#75d054" stroke="#1a1a1a" stroke-width="0.35"/><circle cx="571.26" cy="191.72" r="0.84" fill="#482576" stroke="#1a1a1a" stroke-width="0.35"/><circle cx="547.26" cy="127.4" r="1.66" fill="#482576" stroke="#1a1a1a" stroke-width="0.35"/><circle cx="427.93" cy="185.08" r="1.24" fill="#460b5e" stroke="#1a1a1a" stroke-width="0.35"/><path d="M379.77 171.79L381.08 173.99L378.46 173.99Z" fill="#482576" stroke="#f5a623" stroke-width="0.6"/><path d="M393.21 177.07L394.74 179.65L391.68 179.65Z" fill="#1f9a8a" stroke="#f5a623" stroke-width="0.6"/><circle cx="396.33" cy="95.67" r="1.06" fill="#33638d" stroke="#1a1a1a" stroke-width="0.35"/><circle cx="400.22" cy="118.24" r="0.84" fill="#75d054" stroke="#1a1a1a" stroke-width="0.35"/><circle cx="428.3" cy="185.45" r="1.06" fill="#482576" stroke="#1a1a1a" stroke-width="0.35"/><circle cx="562.83" cy="57.2" r="2" fill="#33638d" stroke="#1a1a1a" stroke-width="0.35"/><circle cx="490" cy="107.42" r="1.66" fill="#a8db34" stroke="#1a1a1a" stroke-width="0.35"/><circle cx="382.36" cy="191.22" r="0.84" fill="#1f9a8a" stroke="#1a1a1a" stroke-width="0.35"/><circle cx="380.32" cy="180.02" r="0.84" fill="#460b5e" stroke="#1a1a1a" stroke-width="0.35"/><circle cx="452.89" cy="73.5" r="1.78" fill="#297a8e" stroke="#1a1a1a" stroke-width="0.35"/><circle cx="379.53" cy="62.61" r="2" fill="#1f9a8a" stroke="#1a1a1a" stroke-width="0.35"/><path d="M379.28 133.04L381.18 136.23L377.39 136.23Z" fill="#482576" stroke="#f5a623" stroke-width="0.6"/><circle cx="400.42" cy="125.68" r="1.66" fill="#482576" stroke="#1a1a1a" stroke-width="0.35"/><path d="M385.18 200.55L385.85 201.69L384.5 201.69Z" fill="#1f9a8a" stroke="#f5a623" stroke-width="0.6"/><circle cx="382.3" cy="202.54" r="0.84" fill="#33638d" stroke="#1a1a1a" stroke-width="0.35"/><circle cx="563.69" cy="196.92" r="0.84" fill="#1f9a8a" stroke="#1a1a1a" stroke-width="0.35"/><circle cx="571.33" cy="162.94" r="1.06" fill="#460b5e" stroke="#1a1a1a" stroke-width="0.35"/><circle cx="405.46" cy="76.58" r="1.78" fill="#33638d" stroke="#1a1a1a" stroke-width="0.35"/><path d="M410.92 172.97L412.22 175.17L409.61 175.17Z" fill="#33638d" stroke="#f5a623" stroke-width="0.6"/><circle cx="489.51" cy="153.97" r="1.53" fill="#a8db34" stroke="#1a1a1a" stroke-width="0.35"/><circle cx="547.61" cy="95.51" r="1.78" fill="#482576" stroke="#1a1a1a" stroke-width="0.35"/><circle cx="490.34" cy="120.81" r="1.66" fill="#a8db34" stroke="#1a1a1a" stroke-width="0.35"/><circle cx="489.51" cy="58.97" r="2" fill="#cde11d" stroke="#1a1a1a" stroke-width="0.35"/><circle cx="567.66" cy="144.84" r="1.24" fill="#1f9a8a" stroke="#1a1a1a" stroke-width="0.35"/><path d="M463.83 173.97L465.13 176.17L462.52 176.17Z" fill="#1f9a8a" stroke="#f5a623" stroke-width="0.6"/><circle cx="388.03" cy="182.98" r="1.24" fill="#1f9a8a" stroke="#1a1a1a" stroke-width="0.35"/><circle cx="421.04" cy="176.16" r="1.39" fill="#482576" stroke="#1a1a1a" stroke-width="0.35"/><circle cx="421.55" cy="131.38" r="1.53" fill="#460b5e" stroke="#1a1a1a" stroke-width="0.35"/><path d="M410.51 103L412.56 106.46L408.45 106.46Z" fill="#1f9a8a" stroke="#f5a623" stroke-width="0.6"/><circle cx="400.43" cy="147.98" r="1.39" fill="#482576" stroke="#1a1a1a" stroke-width="0.35"/><circle cx="418.85" cy="100.99" r="2" fill="#482576" stroke="#1a1a1a" stroke-width="0.35"/><circle cx="568.3" cy="190.77" r="0.84" fill="#1f9a8a" stroke="#1a1a1a" stroke-width="0.35"/><circle cx="421.46" cy="187.5" r="1.39" fill="#33638d" stroke="#1a1a1a" stroke-width="0.35"/><circle cx="405.55" cy="86.78" r="1.53" fill="#33638d" stroke="#1a1a1a" stroke-width="0.35"/><circle cx="489.64" cy="203.36" r="0.55" fill="#a8db34" stroke="#1a1a1a" stroke-width="0.35"/><circle cx="391.25" cy="164.91" r="1.06" fill="#460b5e" stroke="#1a1a1a" stroke-width="0.35"/><circle cx="400.02" cy="93.63" r="1.78" fill="#1f9a8a" stroke="#1a1a1a" stroke-width="0.35"/><circle cx="422.43" cy="159.65" r="1.89" fill="#482576" stroke="#1a1a1a" stroke-width="0.35"/><circle cx="563.02" cy="192.99" r="1.39" fill="#297a8e" stroke="#1a1a1a" stroke-width="0.35"/><circle cx="423.89" cy="155.22" r="1.39" fill="#460b5e" stroke="#1a1a1a" stroke-width="0.35"/><path d="M385.49 185.07L386.8 187.27L384.18 187.27Z" fill="#1f9a8a" stroke="#f5a623" stroke-width="0.6"/><circle cx="571.3" cy="63.79" r="1.89" fill="#460b5e" stroke="#1a1a1a" stroke-width="0.35"/><circle cx="379.38" cy="185.45" r="1.06" fill="#a8db34" stroke="#1a1a1a" stroke-width="0.35"/><circle cx="400" cy="133.14" r="1.53" fill="#482576" stroke="#1a1a1a" stroke-width="0.35"/><path d="M410.79 94.05L413.26 98.21L408.32 98.21Z" fill="#1f9a8a" stroke="#f5a623" stroke-width="0.6"/><circle cx="396.29" cy="83.42" r="1.66" fill="#33638d" stroke="#1a1a1a" stroke-width="0.35"/><circle cx="547.18" cy="173.15" r="0.84" fill="#33638d" stroke="#1a1a1a" stroke-width="0.35"/><circle cx="546.45" cy="125.62" r="1.78" fill="#33638d" stroke="#1a1a1a" stroke-width="0.35"/><circle cx="564.16" cy="201.36" r="0.55" fill="#1f9a8a" stroke="#1a1a1a" stroke-width="0.35"/><circle cx="396.92" cy="38.06" r="2" fill="#297a8e" stroke="#1a1a1a" stroke-width="0.35"/><path d="M410.59 172.34L411.9 174.55L409.28 174.55Z" fill="#1f9a8a" stroke="#f5a623" stroke-width="0.6"/><circle cx="563.51" cy="178.38" r="0.84" fill="#33638d" stroke="#1a1a1a" stroke-width="0.35"/><circle cx="382.19" cy="107.99" r="1.53" fill="#1f9a8a" stroke="#1a1a1a" stroke-width="0.35"/><path d="M385.12 167.69L386.16 169.45L384.08 169.45Z" fill="#1f9a8a" stroke="#f5a623" stroke-width="0.6"/><path d="M393.63 161.24L394.93 163.45L392.32 163.45Z" fill="#482576" stroke="#f5a623" stroke-width="0.6"/><circle cx="382.41" cy="171.36" r="0.84" fill="#1f9a8a" stroke="#1a1a1a" stroke-width="0.35"/><circle cx="382.27" cy="90.24" r="1.78" fill="#1f9a8a" stroke="#1a1a1a" stroke-width="0.35"/><circle cx="380.13" cy="143.04" r="1.66" fill="#75d054" stroke="#1a1a1a" stroke-width="0.35"/><path d="M410.88 199.44L411.92 201.2L409.83 201.2Z" fill="#1f9a8a" stroke="#f5a623" stroke-width="0.6"/><circle cx="420.01" cy="117.84" r="2" fill="#33638d" stroke="#1a1a1a" stroke-width="0.35"/><path d="M379.86 175.37L381.39 177.94L378.34 177.94Z" fill="#482576" stroke="#f5a623" stroke-width="0.6"/><circle cx="423.93" cy="181.61" r="1.78" fill="#482576" stroke="#1a1a1a" stroke-width="0.35"/><path d="M393.53 197.12L394.57 198.87L392.49 198.87Z" fill="#482576" stroke="#f5a623" stroke-width="0.6"/><path d="M411 160.69L412.72 163.59L409.28 163.59Z" fill="#482576" stroke="#f5a623" stroke-width="0.6"/><circle cx="490.51" cy="109.49" r="1.78" fill="#75d054" stroke="#1a1a1a" stroke-width="0.35"/><circle cx="379.34" cy="69.12" r="1.66" fill="#75d054" stroke="#1a1a1a" stroke-width="0.35"/><circle cx="490.24" cy="132.25" r="1.89" fill="#a8db34" stroke="#1a1a1a" stroke-width="0.35"/><path d="M411.08 165.21L412.39 167.42L409.77 167.42Z" fill="#1f9a8a" stroke="#f5a623" stroke-width="0.6"/><circle cx="391.05" cy="162.23" r="1.06" fill="#cde11d" stroke="#1a1a1a" stroke-width="0.35"/><circle cx="546.8" cy="75.39" r="1.78" fill="#33638d" stroke="#1a1a1a" stroke-width="0.35"/><circle cx="564.06" cy="134.27" r="1.53" fill="#33638d" stroke="#1a1a1a" stroke-width="0.35"/><circle cx="547.05" cy="180.58" r="1.06" fill="#482576" stroke="#1a1a1a" stroke-width="0.35"/><circle cx="567.74" cy="91.82" r="1.78" fill="#1f9a8a" stroke="#1a1a1a" stroke-width="0.35"/><circle cx="382.41" cy="193.5" r="1.06" fill="#482576" stroke="#1a1a1a" stroke-width="0.35"/><circle cx="568.28" cy="119.73" r="1.39" fill="#297a8e" stroke="#1a1a1a" stroke-width="0.35"/><circle cx="490.08" cy="124.48" r="1.53" fill="#a8db34" stroke="#1a1a1a" stroke-width="0.35"/><circle cx="490.4" cy="195.27" r="0.84" fill="#a8db34" stroke="#1a1a1a" stroke-width="0.35"/><circle cx="490.02" cy="149.9" r="1.53" fill="#a8db34" stroke="#1a1a1a" stroke-width="0.35"/><circle cx="462.35" cy="154.28" r="1.24" fill="#1f9a8a" stroke="#1a1a1a" stroke-width="0.35"/><circle cx="422.34" cy="94.4" r="1.89" fill="#482576" stroke="#1a1a1a" stroke-width="0.35"/><circle cx="422.19" cy="106.69" r="1.66" fill="#33638d" stroke="#1a1a1a" stroke-width="0.35"/><circle cx="432.55" cy="196.02" r="0.55" fill="#1f9a8a" stroke="#1a1a1a" stroke-width="0.35"/><circle cx="452.08" cy="76.11" r="1.89" fill="#297a8e" stroke="#1a1a1a" stroke-width="0.35"/><circle cx="489.76" cy="112.07" r="1.78" fill="#a8db34" stroke="#1a1a1a" stroke-width="0.35"/><circle cx="452.24" cy="64.93" r="1.78" fill="#33638d" stroke="#1a1a1a" stroke-width="0.35"/><circle cx="490.3" cy="68.77" r="2" fill="#a8db34" stroke="#1a1a1a" stroke-width="0.35"/><circle cx="380.29" cy="171.71" r="1.06" fill="#460b5e" stroke="#1a1a1a" stroke-width="0.35"/><circle cx="400.3" cy="204.49" r="0.55" fill="#75d054" stroke="#1a1a1a" stroke-width="0.35"/><circle cx="379.18" cy="200.73" r="0.55" fill="#1f9a8a" stroke="#1a1a1a" stroke-width="0.35"/><circle cx="396.43" cy="116.94" r="1.06" fill="#33638d" stroke="#1a1a1a" stroke-width="0.35"/><path d="M385.17 71.88L387.51 75.82L382.83 75.82Z" fill="#33638d" stroke="#f5a623" stroke-width="0.6"/><circle cx="432.85" cy="82.09" r="1.53" fill="#1f9a8a" stroke="#1a1a1a" stroke-width="0.35"/><circle cx="571.47" cy="173.95" r="0.84" fill="#482576" stroke="#1a1a1a" stroke-width="0.35"/><circle cx="421.65" cy="176.9" r="1.53" fill="#33638d" stroke="#1a1a1a" stroke-width="0.35"/><circle cx="379.14" cy="74.04" r="1.89" fill="#1f9a8a" stroke="#1a1a1a" stroke-width="0.35"/><circle cx="548.3" cy="108.28" r="1.66" fill="#482576" stroke="#1a1a1a" stroke-width="0.35"/><circle cx="400.47" cy="101.18" r="1.39" fill="#460b5e" stroke="#1a1a1a" stroke-width="0.35"/><circle cx="428.37" cy="100.37" r="1.89" fill="#460b5e" stroke="#1a1a1a" stroke-width="0.35"/><path d="M410.95 203.47L411.62 204.61L410.27 204.61Z" fill="#75d054" stroke="#f5a623" stroke-width="0.6"/><circle cx="568.57" cy="169.66" r="1.39" fill="#1f9a8a" stroke="#1a1a1a" stroke-width="0.35"/><circle cx="382.55" cy="195.69" r="1.06" fill="#482576" stroke="#1a1a1a" stroke-width="0.35"/><circle cx="562.92" cy="180.9" r="1.39" fill="#297a8e" stroke="#1a1a1a" stroke-width="0.35"/><circle cx="570.53" cy="116.59" r="1.53" fill="#460b5e" stroke="#1a1a1a" stroke-width="0.35"/><circle cx="489.51" cy="98.25" r="1.89" fill="#a8db34" stroke="#1a1a1a" stroke-width="0.35"/><path d="M393.19 116.71L394.91 119.61L391.47 119.61Z" fill="#482576" stroke="#f5a623" stroke-width="0.6"/><circle cx="400.66" cy="135.73" r="1.39" fill="#1f9a8a" stroke="#1a1a1a" stroke-width="0.35"/><circle cx="423.6" cy="147" r="2" fill="#33638d" stroke="#1a1a1a" stroke-width="0.35"/><circle cx="546.39" cy="128.71" r="1.53" fill="#33638d" stroke="#1a1a1a" stroke-width="0.35"/><circle cx="428.2" cy="192.56" r="0.84" fill="#460b5e" stroke="#1a1a1a" stroke-width="0.35"/><path d="M464.7 182.7L465.74 184.45L463.66 184.45Z" fill="#1f9a8a" stroke="#f5a623" stroke-width="0.6"/><circle cx="422.27" cy="80.21" r="2" fill="#460b5e" stroke="#1a1a1a" stroke-width="0.35"/><circle cx="423.53" cy="152.89" r="1.39" fill="#460b5e" stroke="#1a1a1a" stroke-width="0.35"/><circle cx="421.11" cy="107.41" r="2" fill="#482576" stroke="#1a1a1a" stroke-width="0.35"/><path d="M411.13 187.7L412.66 190.27L409.6 190.27Z" fill="#1f9a8a" stroke="#f5a623" stroke-width="0.6"/><circle cx="382.73" cy="123.69" r="1.53" fill="#1f9a8a" stroke="#1a1a1a" stroke-width="0.35"/><circle cx="423.02" cy="164.67" r="1.53" fill="#482576" stroke="#1a1a1a" stroke-width="0.35"/><circle cx="570.58" cy="200.75" r="0.55" fill="#1f9a8a" stroke="#1a1a1a" stroke-width="0.35"/><path d="M463.15 156.62L464.46 158.82L461.84 158.82Z" fill="#482576" stroke="#f5a623" stroke-width="0.6"/><circle cx="489.64" cy="70.71" r="1.89" fill="#a8db34" stroke="#1a1a1a" stroke-width="0.35"/><circle cx="563.7" cy="97.14" r="1.39" fill="#1f9a8a" stroke="#1a1a1a" stroke-width="0.35"/><circle cx="489.82" cy="157.12" r="1.53" fill="#a8db34" stroke="#1a1a1a" stroke-width="0.35"/><path d="M385.58 193.32L386.62 195.08L384.53 195.08Z" fill="#482576" stroke="#f5a623" stroke-width="0.6"/><path d="M379.76 193.63L380.43 194.76L379.08 194.76Z" fill="#1f9a8a" stroke="#f5a623" stroke-width="0.6"/><circle cx="567.72" cy="54.12" r="1.78" fill="#482576" stroke="#1a1a1a" stroke-width="0.35"/><path d="M464.49 54.06L466.83 58L462.15 58Z" fill="#482576" stroke="#f5a623" stroke-width="0.6"/><path d="M410.74 55.57L413.21 59.73L408.27 59.73Z" fill="#33638d" stroke="#f5a623" stroke-width="0.6"/><circle cx="391.64" cy="186.14" r="0.55" fill="#460b5e" stroke="#1a1a1a" stroke-width="0.35"/><path d="M394.08 131.56L395.39 133.76L392.78 133.76Z" fill="#482576" stroke="#f5a623" stroke-width="0.6"/><circle cx="400.55" cy="196.41" r="1.06" fill="#482576" stroke="#1a1a1a" stroke-width="0.35"/><circle cx="400.44" cy="51.61" r="1.78" fill="#75d054" stroke="#1a1a1a" stroke-width="0.35"/><circle cx="421.87" cy="85.2" r="1.89" fill="#482576" stroke="#1a1a1a" stroke-width="0.35"/><circle cx="379.71" cy="69.63" r="1.89" fill="#33638d" stroke="#1a1a1a" stroke-width="0.35"/><path d="M410.68 52.06L413.02 56L408.34 56Z" fill="#1f9a8a" stroke="#f5a623" stroke-width="0.6"/><path d="M380.18 190.58L381.71 193.16L378.65 193.16Z" fill="#482576" stroke="#f5a623" stroke-width="0.6"/><circle cx="388.19" cy="177.45" r="0.84" fill="#482576" stroke="#1a1a1a" stroke-width="0.35"/><circle cx="563.55" cy="78.85" r="1.78" fill="#297a8e" stroke="#1a1a1a" stroke-width="0.35"/><circle cx="568.04" cy="148.87" r="1.66" fill="#482576" stroke="#1a1a1a" stroke-width="0.35"/><circle cx="388.45" cy="134.82" r="1.06" fill="#460b5e" stroke="#1a1a1a" stroke-width="0.35"/><circle cx="563.45" cy="194.55" r="0.84" fill="#297a8e" stroke="#1a1a1a" stroke-width="0.35"/><circle cx="570.96" cy="171.97" r="0.84" fill="#482576" stroke="#1a1a1a" stroke-width="0.35"/><circle cx="388.39" cy="82.91" r="1.66" fill="#33638d" stroke="#1a1a1a" stroke-width="0.35"/><circle cx="388.34" cy="146.91" r="1.24" fill="#33638d" stroke="#1a1a1a" stroke-width="0.35"/><circle cx="547.01" cy="177.99" r="1.06" fill="#33638d" stroke="#1a1a1a" stroke-width="0.35"/><circle cx="382.37" cy="163.98" r="0.55" fill="#1f9a8a" stroke="#1a1a1a" stroke-width="0.35"/><circle cx="490.48" cy="200.57" r="0.84" fill="#a8db34" stroke="#1a1a1a" stroke-width="0.35"/><circle cx="400.39" cy="121.3" r="1.53" fill="#1f9a8a" stroke="#1a1a1a" stroke-width="0.35"/><circle cx="420.06" cy="116.02" r="1.53" fill="#482576" stroke="#1a1a1a" stroke-width="0.35"/><circle cx="490.3" cy="190.81" r="1.06" fill="#a8db34" stroke="#1a1a1a" stroke-width="0.35"/><circle cx="400.49" cy="70.72" r="1.78" fill="#1f9a8a" stroke="#1a1a1a" stroke-width="0.35"/><circle cx="489.53" cy="117.3" r="1.78" fill="#75d054" stroke="#1a1a1a" stroke-width="0.35"/><circle cx="391.19" cy="189.38" r="1.06" fill="#482576" stroke="#1a1a1a" stroke-width="0.35"/><circle cx="563.27" cy="173.97" r="1.24" fill="#1f9a8a" stroke="#1a1a1a" stroke-width="0.35"/><circle cx="547.07" cy="128.92" r="1.78" fill="#482576" stroke="#1a1a1a" stroke-width="0.35"/><circle cx="379.45" cy="157.86" r="1.06" fill="#482576" stroke="#1a1a1a" stroke-width="0.35"/><circle cx="379.39" cy="167.69" r="1.39" fill="#1f9a8a" stroke="#1a1a1a" stroke-width="0.35"/><circle cx="489.75" cy="65.22" r="1.89" fill="#a8db34" stroke="#1a1a1a" stroke-width="0.35"/><circle cx="546.29" cy="86.61" r="1.89" fill="#33638d" stroke="#1a1a1a" stroke-width="0.35"/><circle cx="382.52" cy="170.16" r="0.84" fill="#460b5e" stroke="#1a1a1a" stroke-width="0.35"/><circle cx="568.52" cy="71.79" r="1.89" fill="#297a8e" stroke="#1a1a1a" stroke-width="0.35"/><circle cx="396.96" cy="196.05" r="0.84" fill="#33638d" stroke="#1a1a1a" stroke-width="0.35"/><circle cx="420.3" cy="110.55" r="2" fill="#482576" stroke="#1a1a1a" stroke-width="0.35"/><circle cx="568.43" cy="182.92" r="1.06" fill="#75d054" stroke="#1a1a1a" stroke-width="0.35"/><circle cx="380.05" cy="207.54" r="0.55" fill="#1f9a8a" stroke="#1a1a1a" stroke-width="0.35"/><circle cx="400.41" cy="189.94" r="1.06" fill="#1f9a8a" stroke="#1a1a1a" stroke-width="0.35"/><circle cx="546.59" cy="171.86" r="1.53" fill="#33638d" stroke="#1a1a1a" stroke-width="0.35"/><path d="M410.42 168.26L412.14 171.16L408.7 171.16Z" fill="#33638d" stroke="#f5a623" stroke-width="0.6"/><circle cx="382.71" cy="103.81" r="1.53" fill="#460b5e" stroke="#1a1a1a" stroke-width="0.35"/><circle cx="547.79" cy="149.26" r="1.39" fill="#482576" stroke="#1a1a1a" stroke-width="0.35"/><circle cx="547.34" cy="80.41" r="2" fill="#33638d" stroke="#1a1a1a" stroke-width="0.35"/><circle cx="388.19" cy="110.56" r="1.66" fill="#482576" stroke="#1a1a1a" stroke-width="0.35"/><circle cx="400.16" cy="131.65" r="1.66" fill="#1f9a8a" stroke="#1a1a1a" stroke-width="0.35"/><circle cx="388.77" cy="43.19" r="2" fill="#482576" stroke="#1a1a1a" stroke-width="0.35"/><circle cx="382.94" cy="187.54" r="1.06" fill="#1f9a8a" stroke="#1a1a1a" stroke-width="0.35"/><circle cx="388.38" cy="202.76" r="1.06" fill="#482576" stroke="#1a1a1a" stroke-width="0.35"/><circle cx="489.68" cy="188.43" r="1.06" fill="#a8db34" stroke="#1a1a1a" stroke-width="0.35"/><circle cx="563.18" cy="158.67" r="0.84" fill="#1f9a8a" stroke="#1a1a1a" stroke-width="0.35"/><circle cx="400.46" cy="114.15" r="1.66" fill="#460b5e" stroke="#1a1a1a" stroke-width="0.35"/><circle cx="391.16" cy="147.6" r="1.53" fill="#460b5e" stroke="#1a1a1a" stroke-width="0.35"/><circle cx="419.42" cy="67.32" r="2" fill="#33638d" stroke="#1a1a1a" stroke-width="0.35"/><circle cx="563.99" cy="161.48" r="1.24" fill="#297a8e" stroke="#1a1a1a" stroke-width="0.35"/><circle cx="393.37" cy="207.55" r="0.55" fill="#33638d" stroke="#1a1a1a" stroke-width="0.35"/><circle cx="400.16" cy="174.07" r="1.24" fill="#75d054" stroke="#1a1a1a" stroke-width="0.35"/><circle cx="428.77" cy="81.18" r="1.66" fill="#460b5e" stroke="#1a1a1a" stroke-width="0.35"/><circle cx="396.43" cy="63.7" r="1.78" fill="#33638d" stroke="#1a1a1a" stroke-width="0.35"/><circle cx="382.42" cy="183.95" r="0.55" fill="#33638d" stroke="#1a1a1a" stroke-width="0.35"/><circle cx="563.85" cy="77.04" r="2" fill="#1f9a8a" stroke="#1a1a1a" stroke-width="0.35"/><circle cx="405.41" cy="50.08" r="2" fill="#33638d" stroke="#1a1a1a" stroke-width="0.35"/><circle cx="563.26" cy="205.27" r="0.55" fill="#1f9a8a" stroke="#1a1a1a" stroke-width="0.35"/><circle cx="420.01" cy="111.79" r="2" fill="#33638d" stroke="#1a1a1a" stroke-width="0.35"/><circle cx="382.74" cy="199.39" r="1.06" fill="#1f9a8a" stroke="#1a1a1a" stroke-width="0.35"/><path d="M462.84 120.2L464.74 123.39L460.95 123.39Z" fill="#482576" stroke="#f5a623" stroke-width="0.6"/><circle cx="547.03" cy="97.08" r="1.89" fill="#482576" stroke="#1a1a1a" stroke-width="0.35"/><circle cx="547.38" cy="199.39" r="0.55" fill="#33638d" stroke="#1a1a1a" stroke-width="0.35"/><circle cx="420.27" cy="184.09" r="1.66" fill="#33638d" stroke="#1a1a1a" stroke-width="0.35"/><circle cx="489.93" cy="57.81" r="2" fill="#a8db34" stroke="#1a1a1a" stroke-width="0.35"/><circle cx="462.45" cy="86.4" r="1.66" fill="#1f9a8a" stroke="#1a1a1a" stroke-width="0.35"/><path d="M385.67 141L387.39 143.9L383.95 143.9Z" fill="#482576" stroke="#f5a623" stroke-width="0.6"/><path d="M384.72 198.94L385.4 200.08L384.05 200.08Z" fill="#1f9a8a" stroke="#f5a623" stroke-width="0.6"/><circle cx="400.63" cy="191.36" r="0.84" fill="#1f9a8a" stroke="#1a1a1a" stroke-width="0.35"/><circle cx="393.73" cy="131.04" r="1.24" fill="#33638d" stroke="#1a1a1a" stroke-width="0.35"/><circle cx="419.33" cy="58.54" r="2" fill="#482576" stroke="#1a1a1a" stroke-width="0.35"/><circle cx="547.17" cy="106.06" r="1.66" fill="#482576" stroke="#1a1a1a" stroke-width="0.35"/><circle cx="567.55" cy="128.3" r="1.53" fill="#1f9a8a" stroke="#1a1a1a" stroke-width="0.35"/><path d="M410.87 205.61L411.91 207.37L409.83 207.37Z" fill="#1f9a8a" stroke="#f5a623" stroke-width="0.6"/><circle cx="571.35" cy="200.77" r="0.55" fill="#460b5e" stroke="#1a1a1a" stroke-width="0.35"/><path d="M410.43 44.56L412.9 48.72L407.96 48.72Z" fill="#75d054" stroke="#f5a623" stroke-width="0.6"/><circle cx="452.47" cy="127.55" r="1.24" fill="#33638d" stroke="#1a1a1a" stroke-width="0.35"/><circle cx="420.8" cy="104.89" r="1.66" fill="#33638d" stroke="#1a1a1a" stroke-width="0.35"/><circle cx="422.02" cy="131.08" r="2" fill="#33638d" stroke="#1a1a1a" stroke-width="0.35"/><circle cx="563.09" cy="156.39" r="1.06" fill="#1f9a8a" stroke="#1a1a1a" stroke-width="0.35"/><circle cx="385.17" cy="164.15" r="1.24" fill="#297a8e" stroke="#1a1a1a" stroke-width="0.35"/><circle cx="379.23" cy="91.99" r="1.53" fill="#1f9a8a" stroke="#1a1a1a" stroke-width="0.35"/><path d="M379.42 187.1L380.73 189.31L378.12 189.31Z" fill="#482576" stroke="#f5a623" stroke-width="0.6"/><circle cx="428.19" cy="187.79" r="0.55" fill="#482576" stroke="#1a1a1a" stroke-width="0.35"/><circle cx="379.67" cy="133.77" r="1.39" fill="#482576" stroke="#1a1a1a" stroke-width="0.35"/><circle cx="418.57" cy="119.8" r="1.78" fill="#460b5e" stroke="#1a1a1a" stroke-width="0.35"/><circle cx="490.49" cy="185.37" r="1.24" fill="#cde11d" stroke="#1a1a1a" stroke-width="0.35"/><circle cx="490.46" cy="79.32" r="2" fill="#a8db34" stroke="#1a1a1a" stroke-width="0.35"/><circle cx="396.28" cy="178.64" r="1.06" fill="#33638d" stroke="#1a1a1a" stroke-width="0.35"/><circle cx="432.31" cy="177.28" r="1.06" fill="#1f9a8a" stroke="#1a1a1a" stroke-width="0.35"/><circle cx="570.53" cy="158.24" r="1.24" fill="#460b5e" stroke="#1a1a1a" stroke-width="0.35"/><circle cx="567.62" cy="180.2" r="1.24" fill="#75d054" stroke="#1a1a1a" stroke-width="0.35"/><path d="M379.77 112.79L381.82 116.25L377.71 116.25Z" fill="#482576" stroke="#f5a623" stroke-width="0.6"/><circle cx="568.31" cy="162.38" r="1.06" fill="#1f9a8a" stroke="#1a1a1a" stroke-width="0.35"/><circle cx="571.1" cy="117.93" r="1.53" fill="#482576" stroke="#1a1a1a" stroke-width="0.35"/><circle cx="452.38" cy="140.83" r="1.06" fill="#33638d" stroke="#1a1a1a" stroke-width="0.35"/><circle cx="382.91" cy="176.28" r="1.06" fill="#1f9a8a" stroke="#1a1a1a" stroke-width="0.35"/><circle cx="391.6" cy="206.45" r="0.55" fill="#460b5e" stroke="#1a1a1a" stroke-width="0.35"/><circle cx="400.61" cy="173.38" r="1.24" fill="#460b5e" stroke="#1a1a1a" stroke-width="0.35"/><circle cx="379.75" cy="197.14" r="1.24" fill="#1f9a8a" stroke="#1a1a1a" stroke-width="0.35"/><circle cx="421.63" cy="101.73" r="1.89" fill="#460b5e" stroke="#1a1a1a" stroke-width="0.35"/><circle cx="570.6" cy="196.1" r="1.24" fill="#482576" stroke="#1a1a1a" stroke-width="0.35"/><circle cx="421.24" cy="89.91" r="1.89" fill="#33638d" stroke="#1a1a1a" stroke-width="0.35"/><circle cx="380.43" cy="210.28" r="0.84" fill="#460b5e" stroke="#1a1a1a" stroke-width="0.35"/><circle cx="418.7" cy="121.61" r="1.39" fill="#482576" stroke="#1a1a1a" stroke-width="0.35"/><circle cx="382.6" cy="175.58" r="0.55" fill="#460b5e" stroke="#1a1a1a" stroke-width="0.35"/><circle cx="418.64" cy="143.29" r="1.66" fill="#33638d" stroke="#1a1a1a" stroke-width="0.35"/><circle cx="452.97" cy="180.74" r="0.55" fill="#297a8e" stroke="#1a1a1a" stroke-width="0.35"/><circle cx="568.38" cy="143.02" r="1.39" fill="#1f9a8a" stroke="#1a1a1a" stroke-width="0.35"/><circle cx="400.57" cy="210.34" r="0.84" fill="#1f9a8a" stroke="#1a1a1a" stroke-width="0.35"/><circle cx="419.74" cy="124.8" r="2" fill="#482576" stroke="#1a1a1a" stroke-width="0.35"/><circle cx="568.57" cy="163.35" r="1.53" fill="#482576" stroke="#1a1a1a" stroke-width="0.35"/><circle cx="568.1" cy="77.39" r="2" fill="#1f9a8a" stroke="#1a1a1a" stroke-width="0.35"/><circle cx="568.18" cy="94.87" r="1.24" fill="#297a8e" stroke="#1a1a1a" stroke-width="0.35"/><circle cx="563.09" cy="82.82" r="1.66" fill="#297a8e" stroke="#1a1a1a" stroke-width="0.35"/><circle cx="393.7" cy="120.09" r="1.24" fill="#1f9a8a" stroke="#1a1a1a" stroke-width="0.35"/><circle cx="419.87" cy="135.75" r="1.78" fill="#482576" stroke="#1a1a1a" stroke-width="0.35"/><circle cx="421.19" cy="183.2" r="1.66" fill="#460b5e" stroke="#1a1a1a" stroke-width="0.35"/><circle cx="567.76" cy="78.6" r="1.53" fill="#1f9a8a" stroke="#1a1a1a" stroke-width="0.35"/><circle cx="562.91" cy="84.12" r="1.78" fill="#33638d" stroke="#1a1a1a" stroke-width="0.35"/><path d="M393.47 79.26L395.67 82.96L391.26 82.96Z" fill="#1f9a8a" stroke="#f5a623" stroke-width="0.6"/><circle cx="396.71" cy="171.13" r="1.24" fill="#33638d" stroke="#1a1a1a" stroke-width="0.35"/><path d="M385.07 100.92L387.28 104.62L382.87 104.62Z" fill="#482576" stroke="#f5a623" stroke-width="0.6"/><circle cx="452.94" cy="207.56" r="0.84" fill="#297a8e" stroke="#1a1a1a" stroke-width="0.35"/><circle cx="396.28" cy="195.95" r="0.55" fill="#33638d" stroke="#1a1a1a" stroke-width="0.35"/><circle cx="428.55" cy="145.88" r="1.24" fill="#482576" stroke="#1a1a1a" stroke-width="0.35"/><circle cx="420.88" cy="148.47" r="1.39" fill="#482576" stroke="#1a1a1a" stroke-width="0.35"/><circle cx="571.76" cy="101.51" r="1.78" fill="#482576" stroke="#1a1a1a" stroke-width="0.35"/><circle cx="380.23" cy="35.1" r="2" fill="#482576" stroke="#1a1a1a" stroke-width="0.35"/><circle cx="388.6" cy="166.61" r="1.39" fill="#33638d" stroke="#1a1a1a" stroke-width="0.35"/><path d="M379.47 75.64L381.81 79.58L377.13 79.58Z" fill="#1f9a8a" stroke="#f5a623" stroke-width="0.6"/><circle cx="379.1" cy="140.64" r="1.39" fill="#1f9a8a" stroke="#1a1a1a" stroke-width="0.35"/><circle cx="400.05" cy="181.59" r="0.55" fill="#1f9a8a" stroke="#1a1a1a" stroke-width="0.35"/><circle cx="379.12" cy="184.56" r="1.24" fill="#75d054" stroke="#1a1a1a" stroke-width="0.35"/><circle cx="388.51" cy="69.61" r="2" fill="#460b5e" stroke="#1a1a1a" stroke-width="0.35"/><circle cx="567.7" cy="63.45" r="1.89" fill="#1f9a8a" stroke="#1a1a1a" stroke-width="0.35"/><circle cx="490.25" cy="197.14" r="0.55" fill="#a8db34" stroke="#1a1a1a" stroke-width="0.35"/><path d="M463.62 61.37L465.96 65.31L461.28 65.31Z" fill="#33638d" stroke="#f5a623" stroke-width="0.6"/><circle cx="400.44" cy="42.16" r="2" fill="#1f9a8a" stroke="#1a1a1a" stroke-width="0.35"/><circle cx="563.86" cy="172.03" r="1.06" fill="#1f9a8a" stroke="#1a1a1a" stroke-width="0.35"/><circle cx="568.07" cy="111.06" r="1.24" fill="#1f9a8a" stroke="#1a1a1a" stroke-width="0.35"/><circle cx="562.96" cy="118.2" r="1.24" fill="#1f9a8a" stroke="#1a1a1a" stroke-width="0.35"/><circle cx="418.86" cy="120.53" r="1.89" fill="#460b5e" stroke="#1a1a1a" stroke-width="0.35"/><circle cx="422.74" cy="156.71" r="1.78" fill="#460b5e" stroke="#1a1a1a" stroke-width="0.35"/><circle cx="571.32" cy="81" r="2" fill="#482576" stroke="#1a1a1a" stroke-width="0.35"/><circle cx="385.3" cy="36.09" r="2" fill="#1f9a8a" stroke="#1a1a1a" stroke-width="0.35"/><path d="M411.17 170.95L411.85 172.09L410.5 172.09Z" fill="#482576" stroke="#f5a623" stroke-width="0.6"/><path d="M463.54 176.7L465.07 179.28L462.01 179.28Z" fill="#33638d" stroke="#f5a623" stroke-width="0.6"/><path d="M411.16 150.24L412.46 152.45L409.85 152.45Z" fill="#33638d" stroke="#f5a623" stroke-width="0.6"/><circle cx="382.84" cy="135.83" r="1.66" fill="#1f9a8a" stroke="#1a1a1a" stroke-width="0.35"/><circle cx="563.3" cy="135.76" r="1.39" fill="#297a8e" stroke="#1a1a1a" stroke-width="0.35"/><circle cx="400.2" cy="84.19" r="2" fill="#75d054" stroke="#1a1a1a" stroke-width="0.35"/><path d="M463.17 200.28L464.21 202.03L462.13 202.03Z" fill="#482576" stroke="#f5a623" stroke-width="0.6"/><circle cx="548.13" cy="198.5" r="0.84" fill="#33638d" stroke="#1a1a1a" stroke-width="0.35"/><circle cx="388.07" cy="102.83" r="1.66" fill="#482576" stroke="#1a1a1a" stroke-width="0.35"/><path d="M385.39 67.17L387.59 70.88L383.19 70.88Z" fill="#482576" stroke="#f5a623" stroke-width="0.6"/><circle cx="571.21" cy="194.3" r="0.55" fill="#482576" stroke="#1a1a1a" stroke-width="0.35"/><circle cx="418.7" cy="185.5" r="1.24" fill="#482576" stroke="#1a1a1a" stroke-width="0.35"/><path d="M385.66 68.8L387.55 71.99L383.76 71.99Z" fill="#1f9a8a" stroke="#f5a623" stroke-width="0.6"/><circle cx="452.55" cy="118.73" r="1.53" fill="#297a8e" stroke="#1a1a1a" stroke-width="0.35"/><circle cx="382.67" cy="93.21" r="1.78" fill="#460b5e" stroke="#1a1a1a" stroke-width="0.35"/><circle cx="380.02" cy="109.16" r="1.53" fill="#482576" stroke="#1a1a1a" stroke-width="0.35"/><circle cx="564.08" cy="153.97" r="1.06" fill="#1f9a8a" stroke="#1a1a1a" stroke-width="0.35"/><path d="M393.24 86.32L395.44 90.03L391.04 90.03Z" fill="#482576" stroke="#f5a623" stroke-width="0.6"/><circle cx="382.78" cy="142.4" r="1.06" fill="#460b5e" stroke="#1a1a1a" stroke-width="0.35"/><circle cx="546.57" cy="195.7" r="1.06" fill="#482576" stroke="#1a1a1a" stroke-width="0.35"/><circle cx="391.48" cy="191.33" r="0.55" fill="#cde11d" stroke="#1a1a1a" stroke-width="0.35"/><circle cx="490.2" cy="110.08" r="2" fill="#a8db34" stroke="#1a1a1a" stroke-width="0.35"/><circle cx="379.76" cy="127.81" r="1.06" fill="#75d054" stroke="#1a1a1a" stroke-width="0.35"/><circle cx="570.97" cy="203.83" r="0.55" fill="#482576" stroke="#1a1a1a" stroke-width="0.35"/><circle cx="382.04" cy="125.68" r="1.24" fill="#460b5e" stroke="#1a1a1a" stroke-width="0.35"/><circle cx="427.83" cy="122.45" r="1.66" fill="#482576" stroke="#1a1a1a" stroke-width="0.35"/><path d="M385.67 163.82L387.2 166.4L384.14 166.4Z" fill="#1f9a8a" stroke="#f5a623" stroke-width="0.6"/><path d="M393.54 75.36L395.74 79.07L391.34 79.07Z" fill="#482576" stroke="#f5a623" stroke-width="0.6"/><circle cx="382.91" cy="204.15" r="1.06" fill="#33638d" stroke="#1a1a1a" stroke-width="0.35"/><circle cx="396.41" cy="137.01" r="1.06" fill="#33638d" stroke="#1a1a1a" stroke-width="0.35"/><path d="M385.15 188.08L386.46 190.28L383.84 190.28Z" fill="#482576" stroke="#f5a623" stroke-width="0.6"/><circle cx="452.07" cy="91.34" r="1.78" fill="#297a8e" stroke="#1a1a1a" stroke-width="0.35"/><circle cx="547.91" cy="147.03" r="1.53" fill="#482576" stroke="#1a1a1a" stroke-width="0.35"/><circle cx="571.04" cy="194.76" r="1.06" fill="#1f9a8a" stroke="#1a1a1a" stroke-width="0.35"/><path d="M393.34 193.02L394.65 195.22L392.03 195.22Z" fill="#482576" stroke="#f5a623" stroke-width="0.6"/><circle cx="388.55" cy="208.58" r="0.55" fill="#460b5e" stroke="#1a1a1a" stroke-width="0.35"/><circle cx="571.66" cy="170.05" r="1.06" fill="#482576" stroke="#1a1a1a" stroke-width="0.35"/><path d="M394.09 169.36L395.4 171.56L392.78 171.56Z" fill="#482576" stroke="#f5a623" stroke-width="0.6"/><path d="M379.95 130.45L381.48 133.02L378.42 133.02Z" fill="#1f9a8a" stroke="#f5a623" stroke-width="0.6"/><circle cx="571.56" cy="111.93" r="1.53" fill="#460b5e" stroke="#1a1a1a" stroke-width="0.35"/><circle cx="562.99" cy="112.08" r="1.66" fill="#1f9a8a" stroke="#1a1a1a" stroke-width="0.35"/><circle cx="405.87" cy="181.89" r="0.55" fill="#33638d" stroke="#1a1a1a" stroke-width="0.35"/><circle cx="388.39" cy="76.77" r="1.89" fill="#1f9a8a" stroke="#1a1a1a" stroke-width="0.35"/><circle cx="393.89" cy="79" r="1.89" fill="#33638d" stroke="#1a1a1a" stroke-width="0.35"/><circle cx="388.02" cy="170.71" r="0.84" fill="#482576" stroke="#1a1a1a" stroke-width="0.35"/><circle cx="570.81" cy="191.51" r="0.84" fill="#482576" stroke="#1a1a1a" stroke-width="0.35"/><circle cx="546.35" cy="132.74" r="1.78" fill="#33638d" stroke="#1a1a1a" stroke-width="0.35"/><circle cx="421.35" cy="66.2" r="1.78" fill="#482576" stroke="#1a1a1a" stroke-width="0.35"/><circle cx="391.14" cy="52.3" r="1.66" fill="#cde11d" stroke="#1a1a1a" stroke-width="0.35"/><path d="M410.64 186.65L411.68 188.4L409.6 188.4Z" fill="#1f9a8a" stroke="#f5a623" stroke-width="0.6"/><circle cx="571.46" cy="191.97" r="1.39" fill="#460b5e" stroke="#1a1a1a" stroke-width="0.35"/><circle cx="381.92" cy="68.64" r="1.89" fill="#1f9a8a" stroke="#1a1a1a" stroke-width="0.35"/><circle cx="452.33" cy="154.95" r="1.24" fill="#297a8e" stroke="#1a1a1a" stroke-width="0.35"/><circle cx="400.56" cy="203.9" r="1.06" fill="#75d054" stroke="#1a1a1a" stroke-width="0.35"/><circle cx="382.87" cy="85.67" r="1.66" fill="#482576" stroke="#1a1a1a" stroke-width="0.35"/><path d="M462.93 203.93L463.61 205.07L462.26 205.07Z" fill="#482576" stroke="#f5a623" stroke-width="0.6"/><circle cx="423.54" cy="98.35" r="1.78" fill="#33638d" stroke="#1a1a1a" stroke-width="0.35"/><circle cx="380.22" cy="180.29" r="0.84" fill="#cde11d" stroke="#1a1a1a" stroke-width="0.35"/><circle cx="379.74" cy="169.14" r="1.06" fill="#460b5e" stroke="#1a1a1a" stroke-width="0.35"/><path d="M463.95 107.86L466.01 111.32L461.9 111.32Z" fill="#33638d" stroke="#f5a623" stroke-width="0.6"/><circle cx="379.52" cy="116.4" r="1.39" fill="#482576" stroke="#1a1a1a" stroke-width="0.35"/><path d="M385.32 183.93L386.63 186.14L384.01 186.14Z" fill="#482576" stroke="#f5a623" stroke-width="0.6"/><path d="M394.04 121.39L395.57 123.97L392.51 123.97Z" fill="#482576" stroke="#f5a623" stroke-width="0.6"/><circle cx="547.41" cy="98.6" r="1.66" fill="#482576" stroke="#1a1a1a" stroke-width="0.35"/><path d="M393.37 190.66L394.41 192.42L392.33 192.42Z" fill="#482576" stroke="#f5a623" stroke-width="0.6"/><circle cx="462.72" cy="110.59" r="1.66" fill="#1f9a8a" stroke="#1a1a1a" stroke-width="0.35"/><circle cx="547.43" cy="179.53" r="0.84" fill="#33638d" stroke="#1a1a1a" stroke-width="0.35"/><path d="M393.69 38L396.16 42.16L391.22 42.16Z" fill="#482576" stroke="#f5a623" stroke-width="0.6"/><circle cx="421.32" cy="127.52" r="1.78" fill="#482576" stroke="#1a1a1a" stroke-width="0.35"/><circle cx="388.75" cy="92.56" r="1.78" fill="#33638d" stroke="#1a1a1a" stroke-width="0.35"/><circle cx="490.05" cy="84.87" r="1.89" fill="#75d054" stroke="#1a1a1a" stroke-width="0.35"/><path d="M411.11 180.82L411.79 181.96L410.43 181.96Z" fill="#75d054" stroke="#f5a623" stroke-width="0.6"/><path d="M410.99 171.66L412.3 173.86L409.68 173.86Z" fill="#1f9a8a" stroke="#f5a623" stroke-width="0.6"/><circle cx="380.31" cy="199.84" r="0.55" fill="#a8db34" stroke="#1a1a1a" stroke-width="0.35"/><circle cx="462.36" cy="175.07" r="0.84" fill="#1f9a8a" stroke="#1a1a1a" stroke-width="0.35"/><circle cx="547.51" cy="190.74" r="0.55" fill="#33638d" stroke="#1a1a1a" stroke-width="0.35"/><circle cx="400.55" cy="162.89" r="1.24" fill="#1f9a8a" stroke="#1a1a1a" stroke-width="0.35"/><circle cx="568.57" cy="194.72" r="0.84" fill="#1f9a8a" stroke="#1a1a1a" stroke-width="0.35"/><path d="M384.91 189.83L385.59 190.97L384.24 190.97Z" fill="#1f9a8a" stroke="#f5a623" stroke-width="0.6"/><circle cx="563.24" cy="184.36" r="1.06" fill="#33638d" stroke="#1a1a1a" stroke-width="0.35"/><circle cx="381.99" cy="47.62" r="2" fill="#1f9a8a" stroke="#1a1a1a" stroke-width="0.35"/><circle cx="562.97" cy="136.94" r="1.39" fill="#1f9a8a" stroke="#1a1a1a" stroke-width="0.35"/><circle cx="568.7" cy="115.59" r="1.66" fill="#1f9a8a" stroke="#1a1a1a" stroke-width="0.35"/><circle cx="418.84" cy="161.73" r="2" fill="#460b5e" stroke="#1a1a1a" stroke-width="0.35"/><circle cx="489.77" cy="158.22" r="1.39" fill="#a8db34" stroke="#1a1a1a" stroke-width="0.35"/><path d="M462.89 71.21L465.09 74.92L460.68 74.92Z" fill="#482576" stroke="#f5a623" stroke-width="0.6"/><circle cx="571.88" cy="131.92" r="1.39" fill="#482576" stroke="#1a1a1a" stroke-width="0.35"/><path d="M410.45 192.54L411.49 194.3L409.41 194.3Z" fill="#482576" stroke="#f5a623" stroke-width="0.6"/><path d="M410.58 66.06L413.05 70.22L408.11 70.22Z" fill="#482576" stroke="#f5a623" stroke-width="0.6"/><circle cx="400.07" cy="209.85" r="0.55" fill="#460b5e" stroke="#1a1a1a" stroke-width="0.35"/><path d="M464.03 180.98L465.56 183.56L462.5 183.56Z" fill="#33638d" stroke="#f5a623" stroke-width="0.6"/><path d="M393.61 67.23L395.81 70.94L391.41 70.94Z" fill="#482576" stroke="#f5a623" stroke-width="0.6"/><circle cx="380.23" cy="162.51" r="1.66" fill="#460b5e" stroke="#1a1a1a" stroke-width="0.35"/><circle cx="490.11" cy="119.49" r="2" fill="#cde11d" stroke="#1a1a1a" stroke-width="0.35"/><circle cx="490.45" cy="60.79" r="2" fill="#cde11d" stroke="#1a1a1a" stroke-width="0.35"/><circle cx="396.89" cy="61.48" r="1.66" fill="#33638d" stroke="#1a1a1a" stroke-width="0.35"/><circle cx="380.24" cy="186.78" r="0.55" fill="#482576" stroke="#1a1a1a" stroke-width="0.35"/><circle cx="399.99" cy="62.33" r="2" fill="#75d054" stroke="#1a1a1a" stroke-width="0.35"/><circle cx="490.18" cy="204.01" r="0.55" fill="#75d054" stroke="#1a1a1a" stroke-width="0.35"/><circle cx="432.19" cy="160.69" r="1.24" fill="#1f9a8a" stroke="#1a1a1a" stroke-width="0.35"/><path d="M379.82 205.69L380.86 207.45L378.78 207.45Z" fill="#482576" stroke="#f5a623" stroke-width="0.6"/><circle cx="568.13" cy="56.15" r="1.89" fill="#482576" stroke="#1a1a1a" stroke-width="0.35"/><circle cx="382.74" cy="44.19" r="2" fill="#1f9a8a" stroke="#1a1a1a" stroke-width="0.35"/><circle cx="418.97" cy="153.36" r="1.39" fill="#33638d" stroke="#1a1a1a" stroke-width="0.35"/><circle cx="382.21" cy="196.52" r="0.84" fill="#482576" stroke="#1a1a1a" stroke-width="0.35"/><circle cx="567.79" cy="210.32" r="0.84" fill="#1f9a8a" stroke="#1a1a1a" stroke-width="0.35"/><circle cx="490.49" cy="91.81" r="1.89" fill="#a8db34" stroke="#1a1a1a" stroke-width="0.35"/><circle cx="388.44" cy="201.88" r="0.84" fill="#1f9a8a" stroke="#1a1a1a" stroke-width="0.35"/><circle cx="382.3" cy="174.21" r="1.06" fill="#482576" stroke="#1a1a1a" stroke-width="0.35"/><circle cx="571.44" cy="197.53" r="0.55" fill="#482576" stroke="#1a1a1a" stroke-width="0.35"/><circle cx="391.41" cy="181.26" r="1.24" fill="#482576" stroke="#1a1a1a" stroke-width="0.35"/><circle cx="548.34" cy="121.22" r="1.66" fill="#482576" stroke="#1a1a1a" stroke-width="0.35"/><circle cx="563.89" cy="159.96" r="1.24" fill="#297a8e" stroke="#1a1a1a" stroke-width="0.35"/><circle cx="379.53" cy="53.89" r="2" fill="#482576" stroke="#1a1a1a" stroke-width="0.35"/><circle cx="567.52" cy="104.3" r="1.78" fill="#1f9a8a" stroke="#1a1a1a" stroke-width="0.35"/><circle cx="388.39" cy="172.49" r="0.55" fill="#33638d" stroke="#1a1a1a" stroke-width="0.35"/><circle cx="490.31" cy="156.31" r="1.39" fill="#75d054" stroke="#1a1a1a" stroke-width="0.35"/><path d="M463.17 198.78L463.85 199.92L462.5 199.92Z" fill="#1f9a8a" stroke="#f5a623" stroke-width="0.6"/><path d="M463.34 159.59L465.06 162.49L461.62 162.49Z" fill="#33638d" stroke="#f5a623" stroke-width="0.6"/><path d="M410.97 153.51L412.7 156.41L409.25 156.41Z" fill="#482576" stroke="#f5a623" stroke-width="0.6"/><circle cx="382.09" cy="60.96" r="1.78" fill="#1f9a8a" stroke="#1a1a1a" stroke-width="0.35"/><path d="M411.22 137.67L412.94 140.57L409.5 140.57Z" fill="#75d054" stroke="#f5a623" stroke-width="0.6"/><circle cx="570.73" cy="176.19" r="1.06" fill="#482576" stroke="#1a1a1a" stroke-width="0.35"/><circle cx="489.4" cy="127.73" r="1.53" fill="#a8db34" stroke="#1a1a1a" stroke-width="0.35"/><circle cx="379.29" cy="130.16" r="1.39" fill="#1f9a8a" stroke="#1a1a1a" stroke-width="0.35"/><circle cx="380.08" cy="56.77" r="1.89" fill="#33638d" stroke="#1a1a1a" stroke-width="0.35"/><circle cx="423.7" cy="103.97" r="1.89" fill="#482576" stroke="#1a1a1a" stroke-width="0.35"/><circle cx="388.39" cy="196.35" r="0.84" fill="#482576" stroke="#1a1a1a" stroke-width="0.35"/><circle cx="421.9" cy="198.5" r="1.53" fill="#33638d" stroke="#1a1a1a" stroke-width="0.35"/><circle cx="568.36" cy="210.21" r="0.55" fill="#1f9a8a" stroke="#1a1a1a" stroke-width="0.35"/><circle cx="568.74" cy="99.94" r="1.66" fill="#482576" stroke="#1a1a1a" stroke-width="0.35"/><circle cx="462.95" cy="131.85" r="0.84" fill="#1f9a8a" stroke="#1a1a1a" stroke-width="0.35"/><circle cx="490.09" cy="180.96" r="1.24" fill="#3dbc74" stroke="#1a1a1a" stroke-width="0.35"/><circle cx="490.48" cy="139.92" r="1.66" fill="#a8db34" stroke="#1a1a1a" stroke-width="0.35"/><path d="M464.39 143.16L466.29 146.35L462.5 146.35Z" fill="#1f9a8a" stroke="#f5a623" stroke-width="0.6"/><path d="M384.89 63.76L387.09 67.47L382.69 67.47Z" fill="#482576" stroke="#f5a623" stroke-width="0.6"/><path d="M379.48 100.77L381.54 104.23L377.43 104.23Z" fill="#482576" stroke="#f5a623" stroke-width="0.6"/><path d="M379.16 55.59L381.63 59.75L376.69 59.75Z" fill="#1f9a8a" stroke="#f5a623" stroke-width="0.6"/><circle cx="563.83" cy="95.46" r="1.78" fill="#33638d" stroke="#1a1a1a" stroke-width="0.35"/><circle cx="420.11" cy="65.94" r="1.78" fill="#33638d" stroke="#1a1a1a" stroke-width="0.35"/><circle cx="563.19" cy="110.34" r="1.78" fill="#1f9a8a" stroke="#1a1a1a" stroke-width="0.35"/><circle cx="385.26" cy="135.34" r="1.24" fill="#1f9a8a" stroke="#1a1a1a" stroke-width="0.35"/><circle cx="419.63" cy="132.31" r="1.66" fill="#33638d" stroke="#1a1a1a" stroke-width="0.35"/><circle cx="571.05" cy="78.92" r="1.78" fill="#482576" stroke="#1a1a1a" stroke-width="0.35"/><path d="M379.4 179.07L380.93 181.64L377.87 181.64Z" fill="#482576" stroke="#f5a623" stroke-width="0.6"/><circle cx="452.39" cy="137.83" r="1.53" fill="#33638d" stroke="#1a1a1a" stroke-width="0.35"/><path d="M462.95 175.86L464 177.61L461.91 177.61Z" fill="#1f9a8a" stroke="#f5a623" stroke-width="0.6"/><circle cx="400.12" cy="67.94" r="2" fill="#1f9a8a" stroke="#1a1a1a" stroke-width="0.35"/><circle cx="547.41" cy="197.71" r="0.55" fill="#33638d" stroke="#1a1a1a" stroke-width="0.35"/><circle cx="399.94" cy="189.94" r="1.06" fill="#482576" stroke="#1a1a1a" stroke-width="0.35"/><circle cx="489.91" cy="89.98" r="1.89" fill="#cde11d" stroke="#1a1a1a" stroke-width="0.35"/><circle cx="388.59" cy="39.91" r="2" fill="#33638d" stroke="#1a1a1a" stroke-width="0.35"/><circle cx="570.57" cy="193.92" r="1.06" fill="#482576" stroke="#1a1a1a" stroke-width="0.35"/><circle cx="391" cy="208.62" r="1.24" fill="#cde11d" stroke="#1a1a1a" stroke-width="0.35"/><circle cx="547.38" cy="89.08" r="1.78" fill="#482576" stroke="#1a1a1a" stroke-width="0.35"/><circle cx="419.19" cy="123.49" r="1.66" fill="#482576" stroke="#1a1a1a" stroke-width="0.35"/><path d="M385.12 197.84L385.8 198.97L384.45 198.97Z" fill="#1f9a8a" stroke="#f5a623" stroke-width="0.6"/><circle cx="423.02" cy="139.64" r="1.89" fill="#460b5e" stroke="#1a1a1a" stroke-width="0.35"/><circle cx="391.07" cy="203.66" r="1.06" fill="#a8db34" stroke="#1a1a1a" stroke-width="0.35"/><circle cx="400.48" cy="184.91" r="1.24" fill="#460b5e" stroke="#1a1a1a" stroke-width="0.35"/><circle cx="419.1" cy="79.65" r="2" fill="#482576" stroke="#1a1a1a" stroke-width="0.35"/><path d="M384.85 59.89L387.32 64.05L382.38 64.05Z" fill="#1f9a8a" stroke="#f5a623" stroke-width="0.6"/><circle cx="563.88" cy="106.97" r="1.53" fill="#33638d" stroke="#1a1a1a" stroke-width="0.35"/><circle cx="489.92" cy="93" r="1.89" fill="#cde11d" stroke="#1a1a1a" stroke-width="0.35"/><circle cx="379.45" cy="145.41" r="1.06" fill="#33638d" stroke="#1a1a1a" stroke-width="0.35"/><path d="M464.42 118.31L466.14 121.21L462.7 121.21Z" fill="#1f9a8a" stroke="#f5a623" stroke-width="0.6"/><circle cx="396.74" cy="206.18" r="0.55" fill="#297a8e" stroke="#1a1a1a" stroke-width="0.35"/><circle cx="399.93" cy="85.13" r="2" fill="#1f9a8a" stroke="#1a1a1a" stroke-width="0.35"/><circle cx="452.8" cy="179.85" r="1.06" fill="#33638d" stroke="#1a1a1a" stroke-width="0.35"/><path d="M410.41 198.24L411.72 200.44L409.1 200.44Z" fill="#33638d" stroke="#f5a623" stroke-width="0.6"/><circle cx="568.03" cy="85.62" r="1.89" fill="#1f9a8a" stroke="#1a1a1a" stroke-width="0.35"/><circle cx="570.99" cy="146.2" r="0.84" fill="#1f9a8a" stroke="#1a1a1a" stroke-width="0.35"/><circle cx="490.54" cy="160.57" r="1.39" fill="#a8db34" stroke="#1a1a1a" stroke-width="0.35"/><circle cx="428.52" cy="189.24" r="0.55" fill="#482576" stroke="#1a1a1a" stroke-width="0.35"/><circle cx="452.09" cy="178.86" r="0.55" fill="#33638d" stroke="#1a1a1a" stroke-width="0.35"/><circle cx="423.3" cy="164.79" r="1.24" fill="#460b5e" stroke="#1a1a1a" stroke-width="0.35"/><circle cx="379.43" cy="113.77" r="1.53" fill="#460b5e" stroke="#1a1a1a" stroke-width="0.35"/><circle cx="420.47" cy="91.34" r="2" fill="#482576" stroke="#1a1a1a" stroke-width="0.35"/><path d="M379.76 145L380.44 146.14L379.08 146.14Z" fill="#482576" stroke="#f5a623" stroke-width="0.6"/><circle cx="462.81" cy="67.7" r="1.78" fill="#1f9a8a" stroke="#1a1a1a" stroke-width="0.35"/><circle cx="388.39" cy="188.37" r="1.06" fill="#460b5e" stroke="#1a1a1a" stroke-width="0.35"/><circle cx="432.73" cy="150.41" r="1.39" fill="#1f9a8a" stroke="#1a1a1a" stroke-width="0.35"/><circle cx="490.25" cy="136.64" r="1.39" fill="#a8db34" stroke="#1a1a1a" stroke-width="0.35"/><circle cx="379.37" cy="210.62" r="0.55" fill="#cde11d" stroke="#1a1a1a" stroke-width="0.35"/><circle cx="490.51" cy="176.99" r="1.24" fill="#75d054" stroke="#1a1a1a" stroke-width="0.35"/><path d="M463.1 200.86L464.14 202.62L462.06 202.62Z" fill="#33638d" stroke="#f5a623" stroke-width="0.6"/><circle cx="396.91" cy="183.95" r="0.84" fill="#33638d" stroke="#1a1a1a" stroke-width="0.35"/><circle cx="546.62" cy="122.71" r="1.78" fill="#33638d" stroke="#1a1a1a" stroke-width="0.35"/><path d="M411.09 176.56L412.39 178.76L409.78 178.76Z" fill="#33638d" stroke="#f5a623" stroke-width="0.6"/><circle cx="452.11" cy="189.45" r="1.06" fill="#33638d" stroke="#1a1a1a" stroke-width="0.35"/><circle cx="391.7" cy="169.63" r="1.24" fill="#482576" stroke="#1a1a1a" stroke-width="0.35"/><circle cx="428.18" cy="155.51" r="1.39" fill="#460b5e" stroke="#1a1a1a" stroke-width="0.35"/><circle cx="400.68" cy="64.15" r="2" fill="#1f9a8a" stroke="#1a1a1a" stroke-width="0.35"/><circle cx="419" cy="166.87" r="1.53" fill="#482576" stroke="#1a1a1a" stroke-width="0.35"/><circle cx="546.94" cy="91.59" r="1.78" fill="#482576" stroke="#1a1a1a" stroke-width="0.35"/><circle cx="421.93" cy="169.93" r="1.53" fill="#460b5e" stroke="#1a1a1a" stroke-width="0.35"/><path d="M411.25 176.93L412.97 179.83L409.52 179.83Z" fill="#33638d" stroke="#f5a623" stroke-width="0.6"/><circle cx="567.23" cy="174.71" r="0.84" fill="#482576" stroke="#1a1a1a" stroke-width="0.35"/><path d="M410.58 185.56L411.89 187.76L409.27 187.76Z" fill="#33638d" stroke="#f5a623" stroke-width="0.6"/><circle cx="405.52" cy="79.36" r="2" fill="#33638d" stroke="#1a1a1a" stroke-width="0.35"/><circle cx="418.85" cy="105.41" r="2" fill="#482576" stroke="#1a1a1a" stroke-width="0.35"/><circle cx="423.77" cy="169.1" r="1.24" fill="#482576" stroke="#1a1a1a" stroke-width="0.35"/><circle cx="380.18" cy="38.34" r="2" fill="#1f9a8a" stroke="#1a1a1a" stroke-width="0.35"/><path d="M393.13 173.11L394.44 175.31L391.82 175.31Z" fill="#482576" stroke="#f5a623" stroke-width="0.6"/><circle cx="399.9" cy="145.32" r="1.53" fill="#482576" stroke="#1a1a1a" stroke-width="0.35"/><circle cx="462.46" cy="159.36" r="1.24" fill="#1f9a8a" stroke="#1a1a1a" stroke-width="0.35"/><circle cx="568.26" cy="182.65" r="1.06" fill="#297a8e" stroke="#1a1a1a" stroke-width="0.35"/><circle cx="563.42" cy="130.67" r="1.39" fill="#1f9a8a" stroke="#1a1a1a" stroke-width="0.35"/><path d="M410.31 168.26L412.03 171.16L408.59 171.16Z" fill="#482576" stroke="#f5a623" stroke-width="0.6"/><circle cx="489.58" cy="179.16" r="1.06" fill="#a8db34" stroke="#1a1a1a" stroke-width="0.35"/><circle cx="391.12" cy="150.48" r="1.24" fill="#cde11d" stroke="#1a1a1a" stroke-width="0.35"/><circle cx="381.99" cy="157.91" r="1.24" fill="#460b5e" stroke="#1a1a1a" stroke-width="0.35"/><circle cx="568.06" cy="179.43" r="1.06" fill="#482576" stroke="#1a1a1a" stroke-width="0.35"/><circle cx="547.53" cy="156.31" r="1.66" fill="#482576" stroke="#1a1a1a" stroke-width="0.35"/><circle cx="400.59" cy="108.07" r="1.53" fill="#482576" stroke="#1a1a1a" stroke-width="0.35"/><circle cx="396.89" cy="93.6" r="1.24" fill="#33638d" stroke="#1a1a1a" stroke-width="0.35"/><circle cx="419.08" cy="128.03" r="1.66" fill="#482576" stroke="#1a1a1a" stroke-width="0.35"/><circle cx="547.1" cy="141.48" r="1.39" fill="#482576" stroke="#1a1a1a" stroke-width="0.35"/><path d="M410.59 200.75L411.63 202.5L409.54 202.5Z" fill="#1f9a8a" stroke="#f5a623" stroke-width="0.6"/><path d="M393.86 196.4L395.16 198.61L392.55 198.61Z" fill="#1f9a8a" stroke="#f5a623" stroke-width="0.6"/><circle cx="420.04" cy="106.16" r="1.89" fill="#460b5e" stroke="#1a1a1a" stroke-width="0.35"/><circle cx="391.06" cy="102.32" r="1.53" fill="#efe51c" stroke="#1a1a1a" stroke-width="0.35"/><circle cx="422" cy="186.66" r="1.24" fill="#460b5e" stroke="#1a1a1a" stroke-width="0.35"/><path d="M464.13 188.32L465.44 190.53L462.82 190.53Z" fill="#1f9a8a" stroke="#f5a623" stroke-width="0.6"/><circle cx="452.76" cy="195.78" r="0.55" fill="#297a8e" stroke="#1a1a1a" stroke-width="0.35"/><path d="M379.85 108.26L381.38 110.83L378.32 110.83Z" fill="#482576" stroke="#f5a623" stroke-width="0.6"/><circle cx="452.25" cy="102.15" r="1.66" fill="#297a8e" stroke="#1a1a1a" stroke-width="0.35"/><circle cx="489.93" cy="170.37" r="0.84" fill="#a8db34" stroke="#1a1a1a" stroke-width="0.35"/><circle cx="563.14" cy="60.24" r="2" fill="#1f9a8a" stroke="#1a1a1a" stroke-width="0.35"/><circle cx="432.64" cy="98.59" r="1.66" fill="#1f9a8a" stroke="#1a1a1a" stroke-width="0.35"/><circle cx="423.22" cy="151.85" r="1.66" fill="#482576" stroke="#1a1a1a" stroke-width="0.35"/><circle cx="563.52" cy="142.62" r="1.24" fill="#1f9a8a" stroke="#1a1a1a" stroke-width="0.35"/><circle cx="382.18" cy="201.45" r="0.84" fill="#1f9a8a" stroke="#1a1a1a" stroke-width="0.35"/><circle cx="567.4" cy="197.73" r="0.55" fill="#1f9a8a" stroke="#1a1a1a" stroke-width="0.35"/><circle cx="571.63" cy="211.43" r="0.55" fill="#460b5e" stroke="#1a1a1a" stroke-width="0.35"/><path d="M380.54 178.1L381.85 180.3L379.23 180.3Z" fill="#1f9a8a" stroke="#f5a623" stroke-width="0.6"/><circle cx="420.99" cy="100.19" r="1.66" fill="#460b5e" stroke="#1a1a1a" stroke-width="0.35"/><path d="M380.2 169.47L381.51 171.68L378.9 171.68Z" fill="#482576" stroke="#f5a623" stroke-width="0.6"/><circle cx="384.94" cy="110.26" r="1.39" fill="#1f9a8a" stroke="#1a1a1a" stroke-width="0.35"/><circle cx="382.33" cy="39.85" r="2" fill="#33638d" stroke="#1a1a1a" stroke-width="0.35"/><path d="M379.77 181.37L381.08 183.57L378.47 183.57Z" fill="#482576" stroke="#f5a623" stroke-width="0.6"/><circle cx="380.05" cy="63.95" r="1.78" fill="#460b5e" stroke="#1a1a1a" stroke-width="0.35"/><circle cx="452.47" cy="206.01" r="0.84" fill="#297a8e" stroke="#1a1a1a" stroke-width="0.35"/><path d="M463.62 107.97L465.35 110.87L461.9 110.87Z" fill="#482576" stroke="#f5a623" stroke-width="0.6"/><path d="M393.33 199.55L394.37 201.31L392.29 201.31Z" fill="#482576" stroke="#f5a623" stroke-width="0.6"/><circle cx="428.68" cy="113.48" r="1.53" fill="#482576" stroke="#1a1a1a" stroke-width="0.35"/><path d="M463.77 152.42L465.07 154.63L462.46 154.63Z" fill="#33638d" stroke="#f5a623" stroke-width="0.6"/><circle cx="421.34" cy="117.32" r="1.53" fill="#482576" stroke="#1a1a1a" stroke-width="0.35"/><circle cx="548.5" cy="182.28" r="0.84" fill="#33638d" stroke="#1a1a1a" stroke-width="0.35"/><circle cx="379.46" cy="201.51" r="0.84" fill="#cde11d" stroke="#1a1a1a" stroke-width="0.35"/><circle cx="490.05" cy="175.76" r="1.53" fill="#a8db34" stroke="#1a1a1a" stroke-width="0.35"/><circle cx="571.26" cy="48.28" r="2" fill="#1f9a8a" stroke="#1a1a1a" stroke-width="0.35"/><circle cx="568.27" cy="88.86" r="1.78" fill="#1f9a8a" stroke="#1a1a1a" stroke-width="0.35"/><circle cx="382.69" cy="204.19" r="1.06" fill="#460b5e" stroke="#1a1a1a" stroke-width="0.35"/><circle cx="570.74" cy="185.46" r="1.06" fill="#1f9a8a" stroke="#1a1a1a" stroke-width="0.35"/><path d="M385.2 115.71L386.92 118.61L383.48 118.61Z" fill="#482576" stroke="#f5a623" stroke-width="0.6"/><circle cx="567.41" cy="177" r="0.55" fill="#482576" stroke="#1a1a1a" stroke-width="0.35"/><circle cx="546.06" cy="111.32" r="1.66" fill="#482576" stroke="#1a1a1a" stroke-width="0.35"/><circle cx="391.51" cy="180.71" r="0.55" fill="#460b5e" stroke="#1a1a1a" stroke-width="0.35"/><circle cx="382.25" cy="196.04" r="0.84" fill="#482576" stroke="#1a1a1a" stroke-width="0.35"/><circle cx="568.61" cy="48.21" r="2" fill="#1f9a8a" stroke="#1a1a1a" stroke-width="0.35"/><circle cx="405.84" cy="44.88" r="2" fill="#33638d" stroke="#1a1a1a" stroke-width="0.35"/><circle cx="571" cy="204.29" r="0.84" fill="#482576" stroke="#1a1a1a" stroke-width="0.35"/><circle cx="563.45" cy="129.3" r="1.66" fill="#1f9a8a" stroke="#1a1a1a" stroke-width="0.35"/><path d="M463.17 180.5L464.48 182.7L461.86 182.7Z" fill="#1f9a8a" stroke="#f5a623" stroke-width="0.6"/><path d="M385.11 46.22L387.58 50.38L382.64 50.38Z" fill="#482576" stroke="#f5a623" stroke-width="0.6"/><circle cx="548.3" cy="157.17" r="1.24" fill="#482576" stroke="#1a1a1a" stroke-width="0.35"/><circle cx="489.77" cy="122.97" r="1.66" fill="#a8db34" stroke="#1a1a1a" stroke-width="0.35"/><circle cx="489.85" cy="82.03" r="2" fill="#75d054" stroke="#1a1a1a" stroke-width="0.35"/><circle cx="390.96" cy="143.37" r="1.53" fill="#cde11d" stroke="#1a1a1a" stroke-width="0.35"/><circle cx="380.07" cy="198.71" r="0.55" fill="#1f9a8a" stroke="#1a1a1a" stroke-width="0.35"/><circle cx="452.44" cy="98.69" r="1.66" fill="#297a8e" stroke="#1a1a1a" stroke-width="0.35"/><circle cx="421.24" cy="155.9" r="1.53" fill="#460b5e" stroke="#1a1a1a" stroke-width="0.35"/><circle cx="380.08" cy="181.28" r="1.24" fill="#482576" stroke="#1a1a1a" stroke-width="0.35"/><circle cx="379.34" cy="50.39" r="2" fill="#482576" stroke="#1a1a1a" stroke-width="0.35"/><circle cx="571.37" cy="168.03" r="0.84" fill="#460b5e" stroke="#1a1a1a" stroke-width="0.35"/><circle cx="568.6" cy="202.36" r="0.84" fill="#482576" stroke="#1a1a1a" stroke-width="0.35"/><circle cx="396.77" cy="205.09" r="0.84" fill="#297a8e" stroke="#1a1a1a" stroke-width="0.35"/><circle cx="379.36" cy="42" r="2" fill="#460b5e" stroke="#1a1a1a" stroke-width="0.35"/><circle cx="432.27" cy="189.74" r="1.06" fill="#1f9a8a" stroke="#1a1a1a" stroke-width="0.35"/><circle cx="462.76" cy="144.71" r="1.24" fill="#1f9a8a" stroke="#1a1a1a" stroke-width="0.35"/><circle cx="380.19" cy="187.97" r="0.55" fill="#1f9a8a" stroke="#1a1a1a" stroke-width="0.35"/><circle cx="571.22" cy="204.44" r="0.55" fill="#460b5e" stroke="#1a1a1a" stroke-width="0.35"/><circle cx="568.38" cy="70.82" r="2" fill="#1f9a8a" stroke="#1a1a1a" stroke-width="0.35"/><circle cx="391.25" cy="151.55" r="1.24" fill="#482576" stroke="#1a1a1a" stroke-width="0.35"/><circle cx="546.07" cy="98.99" r="1.53" fill="#33638d" stroke="#1a1a1a" stroke-width="0.35"/><circle cx="399.95" cy="183" r="1.06" fill="#1f9a8a" stroke="#1a1a1a" stroke-width="0.35"/><circle cx="489.43" cy="143.8" r="1.39" fill="#cde11d" stroke="#1a1a1a" stroke-width="0.35"/><circle cx="391.09" cy="200.78" r="1.24" fill="#cde11d" stroke="#1a1a1a" stroke-width="0.35"/><circle cx="396.73" cy="51.84" r="2" fill="#297a8e" stroke="#1a1a1a" stroke-width="0.35"/><circle cx="384.92" cy="58.96" r="1.78" fill="#297a8e" stroke="#1a1a1a" stroke-width="0.35"/><circle cx="396.34" cy="54.51" r="1.89" fill="#297a8e" stroke="#1a1a1a" stroke-width="0.35"/><circle cx="571.5" cy="121.13" r="1.39" fill="#482576" stroke="#1a1a1a" stroke-width="0.35"/><path d="M385.36 205.83L386.4 207.58L384.32 207.58Z" fill="#482576" stroke="#f5a623" stroke-width="0.6"/><path d="M463.63 91.86L465.83 95.57L461.43 95.57Z" fill="#1f9a8a" stroke="#f5a623" stroke-width="0.6"/><circle cx="400.25" cy="150.58" r="1.53" fill="#482576" stroke="#1a1a1a" stroke-width="0.35"/><circle cx="428.69" cy="111.18" r="1.78" fill="#482576" stroke="#1a1a1a" stroke-width="0.35"/><circle cx="419.63" cy="173.94" r="1.39" fill="#460b5e" stroke="#1a1a1a" stroke-width="0.35"/><circle cx="379.34" cy="177.52" r="1.24" fill="#1f9a8a" stroke="#1a1a1a" stroke-width="0.35"/><circle cx="546.29" cy="151.64" r="1.89" fill="#482576" stroke="#1a1a1a" stroke-width="0.35"/><circle cx="428.67" cy="138.46" r="1.78" fill="#460b5e" stroke="#1a1a1a" stroke-width="0.35"/><path d="M463.67 138.23L465.56 141.42L461.77 141.42Z" fill="#1f9a8a" stroke="#f5a623" stroke-width="0.6"/><circle cx="422.4" cy="111.22" r="1.89" fill="#482576" stroke="#1a1a1a" stroke-width="0.35"/><circle cx="400.03" cy="171.47" r="1.06" fill="#75d054" stroke="#1a1a1a" stroke-width="0.35"/><circle cx="400.69" cy="179.31" r="1.53" fill="#1f9a8a" stroke="#1a1a1a" stroke-width="0.35"/><path d="M463.97 66.59L466.17 70.3L461.77 70.3Z" fill="#482576" stroke="#f5a623" stroke-width="0.6"/><path d="M393.5 106.32L395.7 110.03L391.29 110.03Z" fill="#482576" stroke="#f5a623" stroke-width="0.6"/><circle cx="490.12" cy="127.9" r="1.66" fill="#75d054" stroke="#1a1a1a" stroke-width="0.35"/><circle cx="388.28" cy="126.32" r="1.39" fill="#1f9a8a" stroke="#1a1a1a" stroke-width="0.35"/><circle cx="490.57" cy="183.58" r="1.24" fill="#cde11d" stroke="#1a1a1a" stroke-width="0.35"/><circle cx="571.02" cy="139.14" r="1.24" fill="#482576" stroke="#1a1a1a" stroke-width="0.35"/><path d="M411.18 88.54L413.08 91.73L409.29 91.73Z" fill="#482576" stroke="#f5a623" stroke-width="0.6"/><circle cx="567.77" cy="83.28" r="1.89" fill="#297a8e" stroke="#1a1a1a" stroke-width="0.35"/><circle cx="388.63" cy="188.85" r="0.84" fill="#460b5e" stroke="#1a1a1a" stroke-width="0.35"/><circle cx="380.29" cy="173.91" r="1.24" fill="#33638d" stroke="#1a1a1a" stroke-width="0.35"/><circle cx="423.03" cy="185.63" r="1.39" fill="#460b5e" stroke="#1a1a1a" stroke-width="0.35"/><circle cx="489.99" cy="133.25" r="1.78" fill="#75d054" stroke="#1a1a1a" stroke-width="0.35"/><circle cx="391.41" cy="165.09" r="1.24" fill="#482576" stroke="#1a1a1a" stroke-width="0.35"/><circle cx="420.04" cy="77.98" r="2" fill="#482576" stroke="#1a1a1a" stroke-width="0.35"/><circle cx="388.13" cy="158.38" r="1.06" fill="#1f9a8a" stroke="#1a1a1a" stroke-width="0.35"/><path d="M393.5 179.49L394.8 181.7L392.19 181.7Z" fill="#1f9a8a" stroke="#f5a623" stroke-width="0.6"/><circle cx="547" cy="124.3" r="1.89" fill="#482576" stroke="#1a1a1a" stroke-width="0.35"/><circle cx="396.62" cy="169.56" r="1.06" fill="#297a8e" stroke="#1a1a1a" stroke-width="0.35"/><circle cx="379.76" cy="103.55" r="1.66" fill="#33638d" stroke="#1a1a1a" stroke-width="0.35"/><circle cx="428.74" cy="162.94" r="1.24" fill="#460b5e" stroke="#1a1a1a" stroke-width="0.35"/><circle cx="399.96" cy="173.22" r="1.24" fill="#1f9a8a" stroke="#1a1a1a" stroke-width="0.35"/><path d="M464.58 82.03L466.48 85.22L462.69 85.22Z" fill="#1f9a8a" stroke="#f5a623" stroke-width="0.6"/><circle cx="393.34" cy="52.06" r="2" fill="#33638d" stroke="#1a1a1a" stroke-width="0.35"/><circle cx="452.54" cy="198.84" r="0.55" fill="#33638d" stroke="#1a1a1a" stroke-width="0.35"/><path d="M411.14 188.04L411.81 189.17L410.46 189.17Z" fill="#1f9a8a" stroke="#f5a623" stroke-width="0.6"/><circle cx="571.01" cy="49.76" r="2" fill="#482576" stroke="#1a1a1a" stroke-width="0.35"/><circle cx="567.52" cy="208.2" r="0.84" fill="#297a8e" stroke="#1a1a1a" stroke-width="0.35"/><circle cx="400.53" cy="60.29" r="1.89" fill="#460b5e" stroke="#1a1a1a" stroke-width="0.35"/><circle cx="570.96" cy="156.35" r="1.24" fill="#460b5e" stroke="#1a1a1a" stroke-width="0.35"/><circle cx="388.31" cy="184.15" r="1.24" fill="#482576" stroke="#1a1a1a" stroke-width="0.35"/><path d="M385.64 154.09L386.32 155.23L384.96 155.23Z" fill="#482576" stroke="#f5a623" stroke-width="0.6"/><circle cx="567.59" cy="166.15" r="1.39" fill="#482576" stroke="#1a1a1a" stroke-width="0.35"/><circle cx="391.35" cy="159.12" r="1.24" fill="#482576" stroke="#1a1a1a" stroke-width="0.35"/><path d="M385.67 170.58L386.71 172.34L384.63 172.34Z" fill="#482576" stroke="#f5a623" stroke-width="0.6"/><path d="M379.23 79.95L381.57 83.89L376.89 83.89Z" fill="#482576" stroke="#f5a623" stroke-width="0.6"/><circle cx="421.82" cy="150" r="1.78" fill="#33638d" stroke="#1a1a1a" stroke-width="0.35"/><circle cx="419.77" cy="72.38" r="1.78" fill="#33638d" stroke="#1a1a1a" stroke-width="0.35"/><circle cx="382.39" cy="88" r="1.39" fill="#482576" stroke="#1a1a1a" stroke-width="0.35"/><path d="M410.33 73.47L412.67 77.41L407.99 77.41Z" fill="#1f9a8a" stroke="#f5a623" stroke-width="0.6"/><circle cx="420.17" cy="133.62" r="1.39" fill="#460b5e" stroke="#1a1a1a" stroke-width="0.35"/><path d="M384.99 201L386.04 202.75L383.95 202.75Z" fill="#1f9a8a" stroke="#f5a623" stroke-width="0.6"/><circle cx="391.47" cy="141.95" r="1.39" fill="#460b5e" stroke="#1a1a1a" stroke-width="0.35"/><circle cx="379.93" cy="119.1" r="1.66" fill="#460b5e" stroke="#1a1a1a" stroke-width="0.35"/><circle cx="571.55" cy="154.97" r="0.55" fill="#482576" stroke="#1a1a1a" stroke-width="0.35"/><circle cx="396.51" cy="196.78" r="0.55" fill="#33638d" stroke="#1a1a1a" stroke-width="0.35"/><circle cx="489.62" cy="96.77" r="2" fill="#a8db34" stroke="#1a1a1a" stroke-width="0.35"/><circle cx="567.72" cy="171.77" r="0.84" fill="#297a8e" stroke="#1a1a1a" stroke-width="0.35"/><circle cx="400.57" cy="179.87" r="0.55" fill="#75d054" stroke="#1a1a1a" stroke-width="0.35"/><circle cx="380.08" cy="147.24" r="0.55" fill="#1f9a8a" stroke="#1a1a1a" stroke-width="0.35"/><circle cx="462.41" cy="195" r="0.55" fill="#1f9a8a" stroke="#1a1a1a" stroke-width="0.35"/><circle cx="393.38" cy="99.33" r="1.53" fill="#1f9a8a" stroke="#1a1a1a" stroke-width="0.35"/><circle cx="489.45" cy="194.75" r="1.06" fill="#cde11d" stroke="#1a1a1a" stroke-width="0.35"/><circle cx="400.48" cy="207.77" r="0.84" fill="#1f9a8a" stroke="#1a1a1a" stroke-width="0.35"/><circle cx="428.12" cy="117.6" r="1.89" fill="#482576" stroke="#1a1a1a" stroke-width="0.35"/><circle cx="400.42" cy="207.37" r="1.06" fill="#1f9a8a" stroke="#1a1a1a" stroke-width="0.35"/><circle cx="568.48" cy="75.93" r="1.66" fill="#1f9a8a" stroke="#1a1a1a" stroke-width="0.35"/><circle cx="391.18" cy="141.67" r="1.39" fill="#cde11d" stroke="#1a1a1a" stroke-width="0.35"/><path d="M385.12 154.6L386.65 157.17L383.59 157.17Z" fill="#33638d" stroke="#f5a623" stroke-width="0.6"/><path d="M385.53 49.83L388 53.99L383.06 53.99Z" fill="#33638d" stroke="#f5a623" stroke-width="0.6"/><circle cx="490.45" cy="164.78" r="1.66" fill="#cde11d" stroke="#1a1a1a" stroke-width="0.35"/><circle cx="396.58" cy="66.25" r="1.53" fill="#33638d" stroke="#1a1a1a" stroke-width="0.35"/><circle cx="379.25" cy="200.47" r="0.55" fill="#460b5e" stroke="#1a1a1a" stroke-width="0.35"/><circle cx="385.21" cy="189.52" r="0.84" fill="#1f9a8a" stroke="#1a1a1a" stroke-width="0.35"/><circle cx="388.03" cy="137.03" r="1.78" fill="#1f9a8a" stroke="#1a1a1a" stroke-width="0.35"/><path d="M410.49 161.83L412.21 164.73L408.77 164.73Z" fill="#1f9a8a" stroke="#f5a623" stroke-width="0.6"/><circle cx="382.8" cy="202.07" r="0.84" fill="#482576" stroke="#1a1a1a" stroke-width="0.35"/><path d="M385.25 37.76L387.72 41.92L382.78 41.92Z" fill="#1f9a8a" stroke="#f5a623" stroke-width="0.6"/><circle cx="571.53" cy="75.32" r="1.78" fill="#482576" stroke="#1a1a1a" stroke-width="0.35"/><circle cx="546.69" cy="86.46" r="1.89" fill="#482576" stroke="#1a1a1a" stroke-width="0.35"/><circle cx="570.55" cy="209.13" r="0.55" fill="#460b5e" stroke="#1a1a1a" stroke-width="0.35"/><circle cx="489.67" cy="80.38" r="2" fill="#75d054" stroke="#1a1a1a" stroke-width="0.35"/><circle cx="379.16" cy="189.31" r="0.55" fill="#a8db34" stroke="#1a1a1a" stroke-width="0.35"/><circle cx="391.02" cy="173.98" r="1.24" fill="#a8db34" stroke="#1a1a1a" stroke-width="0.35"/><circle cx="571.1" cy="202.83" r="0.84" fill="#460b5e" stroke="#1a1a1a" stroke-width="0.35"/><circle cx="396.62" cy="190.44" r="0.84" fill="#297a8e" stroke="#1a1a1a" stroke-width="0.35"/><circle cx="388.41" cy="205.26" r="0.55" fill="#460b5e" stroke="#1a1a1a" stroke-width="0.35"/><circle cx="563.11" cy="199.32" r="0.55" fill="#1f9a8a" stroke="#1a1a1a" stroke-width="0.35"/><circle cx="385.35" cy="142.97" r="1.39" fill="#1f9a8a" stroke="#1a1a1a" stroke-width="0.35"/><path d="M385.13 53.58L387.6 57.74L382.66 57.74Z" fill="#482576" stroke="#f5a623" stroke-width="0.6"/><circle cx="382.09" cy="203.96" r="0.55" fill="#33638d" stroke="#1a1a1a" stroke-width="0.35"/><circle cx="563.99" cy="107.94" r="1.53" fill="#1f9a8a" stroke="#1a1a1a" stroke-width="0.35"/><circle cx="567.9" cy="140.53" r="1.66" fill="#482576" stroke="#1a1a1a" stroke-width="0.35"/><circle cx="419.01" cy="162.54" r="1.66" fill="#460b5e" stroke="#1a1a1a" stroke-width="0.35"/><circle cx="388.53" cy="99.73" r="1.39" fill="#33638d" stroke="#1a1a1a" stroke-width="0.35"/><circle cx="420.27" cy="107.78" r="1.24" fill="#460b5e" stroke="#1a1a1a" stroke-width="0.35"/><circle cx="420.53" cy="102.7" r="2" fill="#33638d" stroke="#1a1a1a" stroke-width="0.35"/><circle cx="400.44" cy="194.95" r="1.06" fill="#1f9a8a" stroke="#1a1a1a" stroke-width="0.35"/><circle cx="568.02" cy="167.39" r="1.24" fill="#1f9a8a" stroke="#1a1a1a" stroke-width="0.35"/><circle cx="571.89" cy="119.69" r="1.66" fill="#460b5e" stroke="#1a1a1a" stroke-width="0.35"/><circle cx="490.04" cy="185.65" r="1.39" fill="#75d054" stroke="#1a1a1a" stroke-width="0.35"/><path d="M379.21 167.71L380.25 169.47L378.17 169.47Z" fill="#482576" stroke="#f5a623" stroke-width="0.6"/><circle cx="384.94" cy="56.2" r="1.78" fill="#1f9a8a" stroke="#1a1a1a" stroke-width="0.35"/><circle cx="391.25" cy="39.81" r="2" fill="#a8db34" stroke="#1a1a1a" stroke-width="0.35"/><circle cx="423.14" cy="188.72" r="1.24" fill="#482576" stroke="#1a1a1a" stroke-width="0.35"/><circle cx="396.31" cy="153.46" r="1.06" fill="#33638d" stroke="#1a1a1a" stroke-width="0.35"/><circle cx="567.94" cy="180.05" r="1.24" fill="#1f9a8a" stroke="#1a1a1a" stroke-width="0.35"/><path d="M463.34 148.4L464.65 150.6L462.03 150.6Z" fill="#33638d" stroke="#f5a623" stroke-width="0.6"/><circle cx="423.7" cy="188.23" r="1.06" fill="#482576" stroke="#1a1a1a" stroke-width="0.35"/><circle cx="548.35" cy="77.56" r="2" fill="#482576" stroke="#1a1a1a" stroke-width="0.35"/><circle cx="568.72" cy="69.42" r="1.78" fill="#482576" stroke="#1a1a1a" stroke-width="0.35"/><circle cx="571.17" cy="83.55" r="1.89" fill="#482576" stroke="#1a1a1a" stroke-width="0.35"/><circle cx="423" cy="180.51" r="1.53" fill="#460b5e" stroke="#1a1a1a" stroke-width="0.35"/><path d="M393.45 42.75L395.92 46.91L390.98 46.91Z" fill="#482576" stroke="#f5a623" stroke-width="0.6"/><circle cx="548.36" cy="117.72" r="1.66" fill="#33638d" stroke="#1a1a1a" stroke-width="0.35"/><circle cx="571.41" cy="103.84" r="1.39" fill="#482576" stroke="#1a1a1a" stroke-width="0.35"/><circle cx="421.01" cy="138.77" r="1.24" fill="#482576" stroke="#1a1a1a" stroke-width="0.35"/><circle cx="489.52" cy="203.98" r="0.84" fill="#a8db34" stroke="#1a1a1a" stroke-width="0.35"/><path d="M393.98 150.63L395.7 153.53L392.25 153.53Z" fill="#1f9a8a" stroke="#f5a623" stroke-width="0.6"/><circle cx="452.04" cy="79.74" r="1.66" fill="#33638d" stroke="#1a1a1a" stroke-width="0.35"/><circle cx="391.22" cy="208.57" r="0.55" fill="#460b5e" stroke="#1a1a1a" stroke-width="0.35"/><circle cx="391.44" cy="155.3" r="1.39" fill="#460b5e" stroke="#1a1a1a" stroke-width="0.35"/><circle cx="379.83" cy="153.62" r="1.39" fill="#460b5e" stroke="#1a1a1a" stroke-width="0.35"/><path d="M385.11 198.58L386.15 200.33L384.07 200.33Z" fill="#482576" stroke="#f5a623" stroke-width="0.6"/><circle cx="571.21" cy="192.59" r="1.06" fill="#482576" stroke="#1a1a1a" stroke-width="0.35"/><circle cx="421.82" cy="83.08" r="2" fill="#460b5e" stroke="#1a1a1a" stroke-width="0.35"/><circle cx="563.35" cy="199.74" r="0.55" fill="#33638d" stroke="#1a1a1a" stroke-width="0.35"/><path d="M384.89 183.02L385.93 184.77L383.85 184.77Z" fill="#482576" stroke="#f5a623" stroke-width="0.6"/><path d="M393.92 61.78L396.12 65.48L391.72 65.48Z" fill="#1f9a8a" stroke="#f5a623" stroke-width="0.6"/><circle cx="420.36" cy="71.07" r="2" fill="#482576" stroke="#1a1a1a" stroke-width="0.35"/><circle cx="419.53" cy="59.85" r="2" fill="#460b5e" stroke="#1a1a1a" stroke-width="0.35"/><circle cx="379.66" cy="173.54" r="1.39" fill="#a8db34" stroke="#1a1a1a" stroke-width="0.35"/><circle cx="452.55" cy="159.98" r="1.24" fill="#297a8e" stroke="#1a1a1a" stroke-width="0.35"/><circle cx="571.44" cy="106.4" r="1.66" fill="#482576" stroke="#1a1a1a" stroke-width="0.35"/><circle cx="419.5" cy="90.7" r="1.78" fill="#482576" stroke="#1a1a1a" stroke-width="0.35"/><circle cx="563" cy="184.02" r="0.55" fill="#1f9a8a" stroke="#1a1a1a" stroke-width="0.35"/><circle cx="422.89" cy="136.42" r="1.89" fill="#460b5e" stroke="#1a1a1a" stroke-width="0.35"/><circle cx="379.54" cy="198.28" r="0.55" fill="#a8db34" stroke="#1a1a1a" stroke-width="0.35"/><circle cx="382.06" cy="185.4" r="1.06" fill="#1f9a8a" stroke="#1a1a1a" stroke-width="0.35"/><circle cx="547.07" cy="175.47" r="0.84" fill="#33638d" stroke="#1a1a1a" stroke-width="0.35"/><circle cx="432.61" cy="191.7" r="0.84" fill="#1f9a8a" stroke="#1a1a1a" stroke-width="0.35"/><circle cx="489.82" cy="209.02" r="0.55" fill="#a8db34" stroke="#1a1a1a" stroke-width="0.35"/><path d="M384.87 202.04L385.55 203.18L384.2 203.18Z" fill="#1f9a8a" stroke="#f5a623" stroke-width="0.6"/><circle cx="568.01" cy="105.69" r="1.89" fill="#482576" stroke="#1a1a1a" stroke-width="0.35"/><circle cx="567.82" cy="210.34" r="0.55" fill="#75d054" stroke="#1a1a1a" stroke-width="0.35"/><circle cx="379.45" cy="170.19" r="1.24" fill="#a8db34" stroke="#1a1a1a" stroke-width="0.35"/><circle cx="388.87" cy="177.13" r="1.24" fill="#1f9a8a" stroke="#1a1a1a" stroke-width="0.35"/><circle cx="388.56" cy="181.79" r="0.84" fill="#460b5e" stroke="#1a1a1a" stroke-width="0.35"/><circle cx="428.62" cy="168.93" r="1.24" fill="#460b5e" stroke="#1a1a1a" stroke-width="0.35"/><circle cx="382.83" cy="178.4" r="1.06" fill="#1f9a8a" stroke="#1a1a1a" stroke-width="0.35"/><circle cx="379.7" cy="161.77" r="1.06" fill="#1f9a8a" stroke="#1a1a1a" stroke-width="0.35"/><circle cx="405.48" cy="110.43" r="0.55" fill="#33638d" stroke="#1a1a1a" stroke-width="0.35"/><path d="M385.38 94.42L387.28 97.61L383.49 97.61Z" fill="#482576" stroke="#f5a623" stroke-width="0.6"/><circle cx="380.14" cy="39.93" r="1.89" fill="#1f9a8a" stroke="#1a1a1a" stroke-width="0.35"/><circle cx="400.2" cy="182.16" r="1.06" fill="#75d054" stroke="#1a1a1a" stroke-width="0.35"/><circle cx="396.49" cy="113.78" r="1.06" fill="#33638d" stroke="#1a1a1a" stroke-width="0.35"/><circle cx="379.2" cy="82.79" r="1.89" fill="#33638d" stroke="#1a1a1a" stroke-width="0.35"/><circle cx="562.88" cy="191.66" r="1.06" fill="#1f9a8a" stroke="#1a1a1a" stroke-width="0.35"/><circle cx="420.26" cy="144.85" r="1.66" fill="#460b5e" stroke="#1a1a1a" stroke-width="0.35"/><circle cx="382.9" cy="78.19" r="1.78" fill="#1f9a8a" stroke="#1a1a1a" stroke-width="0.35"/><circle cx="567.84" cy="192.02" r="0.84" fill="#1f9a8a" stroke="#1a1a1a" stroke-width="0.35"/><circle cx="564.13" cy="100.29" r="1.78" fill="#1f9a8a" stroke="#1a1a1a" stroke-width="0.35"/><circle cx="400.35" cy="199.86" r="0.55" fill="#482576" stroke="#1a1a1a" stroke-width="0.35"/><path d="M463.52 191L464.83 193.21L462.21 193.21Z" fill="#33638d" stroke="#f5a623" stroke-width="0.6"/><circle cx="388.29" cy="75.33" r="1.66" fill="#1f9a8a" stroke="#1a1a1a" stroke-width="0.35"/><circle cx="462.4" cy="63.12" r="1.78" fill="#1f9a8a" stroke="#1a1a1a" stroke-width="0.35"/><circle cx="571.48" cy="165" r="1.24" fill="#482576" stroke="#1a1a1a" stroke-width="0.35"/><circle cx="400.65" cy="171.53" r="1.06" fill="#1f9a8a" stroke="#1a1a1a" stroke-width="0.35"/><path d="M464.32 161.62L466.04 164.52L462.6 164.52Z" fill="#482576" stroke="#f5a623" stroke-width="0.6"/><circle cx="489.89" cy="197.24" r="1.06" fill="#a8db34" stroke="#1a1a1a" stroke-width="0.35"/><circle cx="567.62" cy="67.59" r="1.89" fill="#1f9a8a" stroke="#1a1a1a" stroke-width="0.35"/><circle cx="432.3" cy="186.87" r="0.84" fill="#1f9a8a" stroke="#1a1a1a" stroke-width="0.35"/><circle cx="380.24" cy="189.57" r="1.06" fill="#460b5e" stroke="#1a1a1a" stroke-width="0.35"/><circle cx="547.82" cy="184.91" r="0.84" fill="#482576" stroke="#1a1a1a" stroke-width="0.35"/><circle cx="421.83" cy="170.57" r="1.66" fill="#482576" stroke="#1a1a1a" stroke-width="0.35"/><circle cx="422.28" cy="198.14" r="1.53" fill="#460b5e" stroke="#1a1a1a" stroke-width="0.35"/><circle cx="422.41" cy="194.5" r="1.39" fill="#482576" stroke="#1a1a1a" stroke-width="0.35"/><path d="M385.45 112.82L387.17 115.72L383.73 115.72Z" fill="#482576" stroke="#f5a623" stroke-width="0.6"/><circle cx="396.54" cy="185.23" r="0.55" fill="#33638d" stroke="#1a1a1a" stroke-width="0.35"/><path d="M464.24 98.34L466.14 101.53L462.35 101.53Z" fill="#33638d" stroke="#f5a623" stroke-width="0.6"/><circle cx="571.86" cy="59.6" r="1.89" fill="#482576" stroke="#1a1a1a" stroke-width="0.35"/><circle cx="391.26" cy="157.84" r="1.24" fill="#460b5e" stroke="#1a1a1a" stroke-width="0.35"/><circle cx="400.19" cy="208.24" r="0.55" fill="#482576" stroke="#1a1a1a" stroke-width="0.35"/><circle cx="548.24" cy="190.44" r="1.06" fill="#33638d" stroke="#1a1a1a" stroke-width="0.35"/><circle cx="568.15" cy="196.16" r="0.84" fill="#75d054" stroke="#1a1a1a" stroke-width="0.35"/><circle cx="571.54" cy="69.09" r="1.78" fill="#482576" stroke="#1a1a1a" stroke-width="0.35"/><circle cx="379.45" cy="205.33" r="0.55" fill="#482576" stroke="#1a1a1a" stroke-width="0.35"/><circle cx="452.24" cy="121.91" r="1.24" fill="#33638d" stroke="#1a1a1a" stroke-width="0.35"/><circle cx="432.29" cy="189.05" r="1.06" fill="#1f9a8a" stroke="#1a1a1a" stroke-width="0.35"/><path d="M385.67 56.51L388.01 60.45L383.33 60.45Z" fill="#482576" stroke="#f5a623" stroke-width="0.6"/><circle cx="452.44" cy="162.11" r="1.53" fill="#297a8e" stroke="#1a1a1a" stroke-width="0.35"/><circle cx="421.24" cy="59.2" r="2" fill="#482576" stroke="#1a1a1a" stroke-width="0.35"/><circle cx="379.49" cy="156.39" r="1.06" fill="#33638d" stroke="#1a1a1a" stroke-width="0.35"/><path d="M393.98 195.62L394.66 196.76L393.31 196.76Z" fill="#1f9a8a" stroke="#f5a623" stroke-width="0.6"/><path d="M410.38 200.6L411.69 202.81L409.07 202.81Z" fill="#1f9a8a" stroke="#f5a623" stroke-width="0.6"/><circle cx="391.23" cy="126.93" r="1.24" fill="#a8db34" stroke="#1a1a1a" stroke-width="0.35"/><circle cx="428.18" cy="89.86" r="1.89" fill="#482576" stroke="#1a1a1a" stroke-width="0.35"/><circle cx="423.39" cy="126.98" r="1.78" fill="#460b5e" stroke="#1a1a1a" stroke-width="0.35"/><circle cx="489.62" cy="188.26" r="1.06" fill="#cde11d" stroke="#1a1a1a" stroke-width="0.35"/><circle cx="418.62" cy="116.98" r="2" fill="#482576" stroke="#1a1a1a" stroke-width="0.35"/><circle cx="547.41" cy="107.68" r="1.89" fill="#33638d" stroke="#1a1a1a" stroke-width="0.35"/><circle cx="432.88" cy="167.46" r="0.84" fill="#1f9a8a" stroke="#1a1a1a" stroke-width="0.35"/><circle cx="562.88" cy="102.84" r="1.53" fill="#1f9a8a" stroke="#1a1a1a" stroke-width="0.35"/><circle cx="570.61" cy="196.65" r="1.24" fill="#1f9a8a" stroke="#1a1a1a" stroke-width="0.35"/><circle cx="568.68" cy="199.06" r="0.55" fill="#1f9a8a" stroke="#1a1a1a" stroke-width="0.35"/><circle cx="490.27" cy="90.19" r="1.89" fill="#a8db34" stroke="#1a1a1a" stroke-width="0.35"/><circle cx="570.7" cy="128.88" r="1.66" fill="#460b5e" stroke="#1a1a1a" stroke-width="0.35"/><circle cx="388.82" cy="141.63" r="0.84" fill="#482576" stroke="#1a1a1a" stroke-width="0.35"/><circle cx="422.78" cy="64.87" r="2" fill="#33638d" stroke="#1a1a1a" stroke-width="0.35"/><circle cx="489.44" cy="56.16" r="2" fill="#75d054" stroke="#1a1a1a" stroke-width="0.35"/><circle cx="423.21" cy="70.01" r="1.66" fill="#460b5e" stroke="#1a1a1a" stroke-width="0.35"/><circle cx="563.25" cy="66.95" r="2" fill="#33638d" stroke="#1a1a1a" stroke-width="0.35"/><circle cx="571.6" cy="94.34" r="1.53" fill="#1f9a8a" stroke="#1a1a1a" stroke-width="0.35"/><circle cx="462.25" cy="101.69" r="1.53" fill="#1f9a8a" stroke="#1a1a1a" stroke-width="0.35"/><path d="M379.79 49.12L381.84 52.58L377.73 52.58Z" fill="#482576" stroke="#f5a623" stroke-width="0.6"/><path d="M385.66 104.44L387.86 108.15L383.46 108.15Z" fill="#482576" stroke="#f5a623" stroke-width="0.6"/><circle cx="382.46" cy="187.63" r="1.06" fill="#33638d" stroke="#1a1a1a" stroke-width="0.35"/><circle cx="379.32" cy="208.56" r="0.84" fill="#75d054" stroke="#1a1a1a" stroke-width="0.35"/><circle cx="489.42" cy="177.24" r="1.06" fill="#a8db34" stroke="#1a1a1a" stroke-width="0.35"/><circle cx="547.7" cy="176.39" r="1.06" fill="#33638d" stroke="#1a1a1a" stroke-width="0.35"/><path d="M379.55 90.56L381.75 94.27L377.35 94.27Z" fill="#482576" stroke="#f5a623" stroke-width="0.6"/><path d="M384.95 131.06L386.84 134.25L383.05 134.25Z" fill="#33638d" stroke="#f5a623" stroke-width="0.6"/><path d="M384.72 107.57L386.92 111.28L382.51 111.28Z" fill="#33638d" stroke="#f5a623" stroke-width="0.6"/><path d="M464.02 195.45L465.33 197.65L462.71 197.65Z" fill="#33638d" stroke="#f5a623" stroke-width="0.6"/><path d="M410.49 197.56L411.17 198.7L409.81 198.7Z" fill="#1f9a8a" stroke="#f5a623" stroke-width="0.6"/><path d="M410.32 77.82L412.37 81.28L408.26 81.28Z" fill="#1f9a8a" stroke="#f5a623" stroke-width="0.6"/><path d="M379.74 173.5L381.27 176.07L378.21 176.07Z" fill="#482576" stroke="#f5a623" stroke-width="0.6"/><circle cx="396.21" cy="146.18" r="1.39" fill="#297a8e" stroke="#1a1a1a" stroke-width="0.35"/><circle cx="546.62" cy="95.92" r="1.89" fill="#482576" stroke="#1a1a1a" stroke-width="0.35"/><circle cx="546.51" cy="185.28" r="0.55" fill="#482576" stroke="#1a1a1a" stroke-width="0.35"/><circle cx="394.01" cy="190.46" r="0.55" fill="#1f9a8a" stroke="#1a1a1a" stroke-width="0.35"/><circle cx="419.56" cy="168.14" r="1.66" fill="#482576" stroke="#1a1a1a" stroke-width="0.35"/><circle cx="567.76" cy="207.25" r="0.55" fill="#1f9a8a" stroke="#1a1a1a" stroke-width="0.35"/><circle cx="490.13" cy="95.93" r="1.78" fill="#cde11d" stroke="#1a1a1a" stroke-width="0.35"/><circle cx="379.69" cy="96.4" r="1.89" fill="#482576" stroke="#1a1a1a" stroke-width="0.35"/><circle cx="563.63" cy="199.84" r="0.84" fill="#33638d" stroke="#1a1a1a" stroke-width="0.35"/><circle cx="490.59" cy="162.01" r="1.39" fill="#75d054" stroke="#1a1a1a" stroke-width="0.35"/><circle cx="405.94" cy="109.42" r="1.78" fill="#33638d" stroke="#1a1a1a" stroke-width="0.35"/><circle cx="379.32" cy="131.9" r="1.39" fill="#75d054" stroke="#1a1a1a" stroke-width="0.35"/><circle cx="546.07" cy="153.5" r="1.39" fill="#482576" stroke="#1a1a1a" stroke-width="0.35"/><circle cx="380.45" cy="180.14" r="1.06" fill="#cde11d" stroke="#1a1a1a" stroke-width="0.35"/><circle cx="396.37" cy="185.16" r="1.06" fill="#33638d" stroke="#1a1a1a" stroke-width="0.35"/><circle cx="452.58" cy="171.08" r="1.06" fill="#297a8e" stroke="#1a1a1a" stroke-width="0.35"/><path d="M463.75 177.66L465.06 179.87L462.45 179.87Z" fill="#1f9a8a" stroke="#f5a623" stroke-width="0.6"/><circle cx="388.13" cy="203.8" r="0.55" fill="#460b5e" stroke="#1a1a1a" stroke-width="0.35"/><circle cx="570.65" cy="188.63" r="1.06" fill="#460b5e" stroke="#1a1a1a" stroke-width="0.35"/><circle cx="490.39" cy="202.53" r="0.84" fill="#a8db34" stroke="#1a1a1a" stroke-width="0.35"/><path d="M379.13 138.47L380.86 141.37L377.41 141.37Z" fill="#482576" stroke="#f5a623" stroke-width="0.6"/><circle cx="567.9" cy="73.87" r="2" fill="#482576" stroke="#1a1a1a" stroke-width="0.35"/><circle cx="562.83" cy="80.85" r="1.89" fill="#1f9a8a" stroke="#1a1a1a" stroke-width="0.35"/><circle cx="393.65" cy="132.83" r="1.53" fill="#1f9a8a" stroke="#1a1a1a" stroke-width="0.35"/><path d="M411.16 144.93L412.47 147.13L409.85 147.13Z" fill="#1f9a8a" stroke="#f5a623" stroke-width="0.6"/><circle cx="547.95" cy="192.74" r="1.06" fill="#33638d" stroke="#1a1a1a" stroke-width="0.35"/><path d="M379.34 113.96L381.06 116.86L377.61 116.86Z" fill="#482576" stroke="#f5a623" stroke-width="0.6"/><circle cx="490.17" cy="190.01" r="0.84" fill="#3dbc74" stroke="#1a1a1a" stroke-width="0.35"/><path d="M379.83 190.95L381.36 193.53L378.3 193.53Z" fill="#482576" stroke="#f5a623" stroke-width="0.6"/><circle cx="382.44" cy="181.94" r="0.55" fill="#460b5e" stroke="#1a1a1a" stroke-width="0.35"/><circle cx="568.76" cy="57.97" r="1.78" fill="#297a8e" stroke="#1a1a1a" stroke-width="0.35"/><path d="M385.27 187.2L386.58 189.4L383.96 189.4Z" fill="#482576" stroke="#f5a623" stroke-width="0.6"/><path d="M393.55 206.8L394.59 208.56L392.51 208.56Z" fill="#1f9a8a" stroke="#f5a623" stroke-width="0.6"/><circle cx="420.31" cy="119.15" r="1.89" fill="#460b5e" stroke="#1a1a1a" stroke-width="0.35"/><circle cx="400.63" cy="79.21" r="2" fill="#75d054" stroke="#1a1a1a" stroke-width="0.35"/><circle cx="428.16" cy="171.85" r="1.06" fill="#482576" stroke="#1a1a1a" stroke-width="0.35"/><path d="M393.62 142.93L395.34 145.83L391.89 145.83Z" fill="#482576" stroke="#f5a623" stroke-width="0.6"/><circle cx="405.98" cy="93.79" r="1.78" fill="#33638d" stroke="#1a1a1a" stroke-width="0.35"/><circle cx="420.48" cy="113.68" r="1.78" fill="#460b5e" stroke="#1a1a1a" stroke-width="0.35"/><circle cx="571.14" cy="71.13" r="1.78" fill="#482576" stroke="#1a1a1a" stroke-width="0.35"/><circle cx="568.68" cy="209.21" r="0.55" fill="#482576" stroke="#1a1a1a" stroke-width="0.35"/><circle cx="379.72" cy="121.92" r="1.24" fill="#33638d" stroke="#1a1a1a" stroke-width="0.35"/><circle cx="382.02" cy="130.1" r="1.24" fill="#33638d" stroke="#1a1a1a" stroke-width="0.35"/><path d="M464.5 164.72L465.81 166.93L463.19 166.93Z" fill="#482576" stroke="#f5a623" stroke-width="0.6"/><circle cx="489.93" cy="210.63" r="0.55" fill="#cde11d" stroke="#1a1a1a" stroke-width="0.35"/><path d="M385.46 81.37L387.51 84.83L383.41 84.83Z" fill="#33638d" stroke="#f5a623" stroke-width="0.6"/><path d="M462.84 185.68L464.15 187.89L461.53 187.89Z" fill="#33638d" stroke="#f5a623" stroke-width="0.6"/><circle cx="547.05" cy="195.28" r="0.84" fill="#482576" stroke="#1a1a1a" stroke-width="0.35"/><circle cx="391.38" cy="161.4" r="1.06" fill="#460b5e" stroke="#1a1a1a" stroke-width="0.35"/><circle cx="391.02" cy="72.12" r="1.78" fill="#efe51c" stroke="#1a1a1a" stroke-width="0.35"/><circle cx="428.43" cy="191.95" r="0.55" fill="#482576" stroke="#1a1a1a" stroke-width="0.35"/><circle cx="419.78" cy="190.4" r="1.39" fill="#482576" stroke="#1a1a1a" stroke-width="0.35"/><path d="M393.45 203.38L394.98 205.96L391.92 205.96Z" fill="#482576" stroke="#f5a623" stroke-width="0.6"/><circle cx="428.22" cy="88.03" r="1.89" fill="#460b5e" stroke="#1a1a1a" stroke-width="0.35"/><path d="M393.41 153.96L395.3 157.15L391.51 157.15Z" fill="#482576" stroke="#f5a623" stroke-width="0.6"/><circle cx="382.51" cy="118.95" r="1.53" fill="#482576" stroke="#1a1a1a" stroke-width="0.35"/><circle cx="422.92" cy="87.5" r="2" fill="#460b5e" stroke="#1a1a1a" stroke-width="0.35"/><circle cx="393.42" cy="68.07" r="1.78" fill="#1f9a8a" stroke="#1a1a1a" stroke-width="0.35"/><circle cx="563.17" cy="198.11" r="0.84" fill="#33638d" stroke="#1a1a1a" stroke-width="0.35"/><circle cx="568.36" cy="46.44" r="1.89" fill="#1f9a8a" stroke="#1a1a1a" stroke-width="0.35"/><circle cx="405.52" cy="146.8" r="1.24" fill="#33638d" stroke="#1a1a1a" stroke-width="0.35"/><circle cx="400.3" cy="92.92" r="1.66" fill="#1f9a8a" stroke="#1a1a1a" stroke-width="0.35"/><circle cx="420.7" cy="129.81" r="1.78" fill="#460b5e" stroke="#1a1a1a" stroke-width="0.35"/><circle cx="400.34" cy="176.68" r="1.24" fill="#1f9a8a" stroke="#1a1a1a" stroke-width="0.35"/><circle cx="563.72" cy="179.5" r="0.55" fill="#1f9a8a" stroke="#1a1a1a" stroke-width="0.35"/><circle cx="388.43" cy="44.72" r="1.89" fill="#460b5e" stroke="#1a1a1a" stroke-width="0.35"/><circle cx="405.4" cy="162.44" r="1.24" fill="#33638d" stroke="#1a1a1a" stroke-width="0.35"/><circle cx="388.2" cy="55.36" r="2" fill="#33638d" stroke="#1a1a1a" stroke-width="0.35"/><circle cx="547.1" cy="191.75" r="0.84" fill="#482576" stroke="#1a1a1a" stroke-width="0.35"/><path d="M385.14 200.19L386.18 201.94L384.1 201.94Z" fill="#482576" stroke="#f5a623" stroke-width="0.6"/><circle cx="567.63" cy="124.95" r="1.39" fill="#1f9a8a" stroke="#1a1a1a" stroke-width="0.35"/><path d="M385.54 77.49L387.74 81.2L383.34 81.2Z" fill="#33638d" stroke="#f5a623" stroke-width="0.6"/><circle cx="564.18" cy="103.37" r="1.78" fill="#33638d" stroke="#1a1a1a" stroke-width="0.35"/><circle cx="489.5" cy="74.7" r="2" fill="#a8db34" stroke="#1a1a1a" stroke-width="0.35"/><path d="M394.06 193.47L395.1 195.23L393.02 195.23Z" fill="#482576" stroke="#f5a623" stroke-width="0.6"/><circle cx="419.97" cy="114.11" r="1.78" fill="#482576" stroke="#1a1a1a" stroke-width="0.35"/><circle cx="567.68" cy="155.43" r="0.84" fill="#1f9a8a" stroke="#1a1a1a" stroke-width="0.35"/><circle cx="490.45" cy="105.81" r="2" fill="#a8db34" stroke="#1a1a1a" stroke-width="0.35"/><path d="M410.83 98.56L413.03 102.27L408.63 102.27Z" fill="#33638d" stroke="#f5a623" stroke-width="0.6"/><circle cx="564.04" cy="188.05" r="0.84" fill="#297a8e" stroke="#1a1a1a" stroke-width="0.35"/><circle cx="563.01" cy="61.08" r="2" fill="#33638d" stroke="#1a1a1a" stroke-width="0.35"/><circle cx="388.21" cy="145.22" r="1.24" fill="#1f9a8a" stroke="#1a1a1a" stroke-width="0.35"/><circle cx="396.24" cy="99.48" r="1.24" fill="#33638d" stroke="#1a1a1a" stroke-width="0.35"/><circle cx="387.93" cy="206.11" r="0.55" fill="#1f9a8a" stroke="#1a1a1a" stroke-width="0.35"/><circle cx="563.97" cy="92.41" r="1.89" fill="#1f9a8a" stroke="#1a1a1a" stroke-width="0.35"/><circle cx="388.44" cy="187.17" r="1.24" fill="#482576" stroke="#1a1a1a" stroke-width="0.35"/><path d="M464.62 170.95L465.93 173.15L463.32 173.15Z" fill="#1f9a8a" stroke="#f5a623" stroke-width="0.6"/><circle cx="391.02" cy="95.18" r="1.66" fill="#a8db34" stroke="#1a1a1a" stroke-width="0.35"/><circle cx="563.48" cy="186.05" r="0.55" fill="#1f9a8a" stroke="#1a1a1a" stroke-width="0.35"/><circle cx="546.22" cy="142.88" r="1.53" fill="#482576" stroke="#1a1a1a" stroke-width="0.35"/><circle cx="388.12" cy="49.3" r="2" fill="#1f9a8a" stroke="#1a1a1a" stroke-width="0.35"/><path d="M384.78 175.41L386.09 177.61L383.47 177.61Z" fill="#33638d" stroke="#f5a623" stroke-width="0.6"/><path d="M393.23 190.68L394.28 192.43L392.19 192.43Z" fill="#482576" stroke="#f5a623" stroke-width="0.6"/><circle cx="562.99" cy="140.48" r="1.53" fill="#1f9a8a" stroke="#1a1a1a" stroke-width="0.35"/><circle cx="423.12" cy="148.87" r="1.53" fill="#33638d" stroke="#1a1a1a" stroke-width="0.35"/><circle cx="546.55" cy="136.47" r="1.66" fill="#482576" stroke="#1a1a1a" stroke-width="0.35"/><circle cx="400.26" cy="57.24" r="1.89" fill="#1f9a8a" stroke="#1a1a1a" stroke-width="0.35"/><circle cx="563.4" cy="180.32" r="1.39" fill="#1f9a8a" stroke="#1a1a1a" stroke-width="0.35"/><circle cx="490.03" cy="139.37" r="1.53" fill="#a8db34" stroke="#1a1a1a" stroke-width="0.35"/><circle cx="388.53" cy="150.28" r="1.24" fill="#460b5e" stroke="#1a1a1a" stroke-width="0.35"/><circle cx="570.76" cy="195.13" r="1.06" fill="#482576" stroke="#1a1a1a" stroke-width="0.35"/><circle cx="562.82" cy="144.27" r="1.06" fill="#1f9a8a" stroke="#1a1a1a" stroke-width="0.35"/><circle cx="546.34" cy="129.93" r="1.78" fill="#482576" stroke="#1a1a1a" stroke-width="0.35"/><circle cx="564.09" cy="195.93" r="0.84" fill="#297a8e" stroke="#1a1a1a" stroke-width="0.35"/><circle cx="391.06" cy="169.53" r="0.84" fill="#a8db34" stroke="#1a1a1a" stroke-width="0.35"/><circle cx="490.1" cy="102.49" r="1.89" fill="#75d054" stroke="#1a1a1a" stroke-width="0.35"/><circle cx="571.06" cy="64.6" r="2" fill="#1f9a8a" stroke="#1a1a1a" stroke-width="0.35"/><circle cx="547.38" cy="112.7" r="1.66" fill="#33638d" stroke="#1a1a1a" stroke-width="0.35"/><circle cx="419.44" cy="136.65" r="1.53" fill="#460b5e" stroke="#1a1a1a" stroke-width="0.35"/><circle cx="432.51" cy="185.57" r="1.39" fill="#1f9a8a" stroke="#1a1a1a" stroke-width="0.35"/><circle cx="419.77" cy="62.66" r="2" fill="#460b5e" stroke="#1a1a1a" stroke-width="0.35"/><path d="M379.57 148.08L381.1 150.65L378.04 150.65Z" fill="#1f9a8a" stroke="#f5a623" stroke-width="0.6"/><path d="M463 74.94L465.2 78.65L460.8 78.65Z" fill="#482576" stroke="#f5a623" stroke-width="0.6"/><circle cx="564.16" cy="87.46" r="1.89" fill="#1f9a8a" stroke="#1a1a1a" stroke-width="0.35"/><circle cx="571.65" cy="159.49" r="1.24" fill="#482576" stroke="#1a1a1a" stroke-width="0.35"/><circle cx="571.19" cy="148.26" r="1.24" fill="#1f9a8a" stroke="#1a1a1a" stroke-width="0.35"/><circle cx="490.55" cy="104.33" r="2" fill="#cde11d" stroke="#1a1a1a" stroke-width="0.35"/><circle cx="379.18" cy="192.1" r="0.55" fill="#75d054" stroke="#1a1a1a" stroke-width="0.35"/><circle cx="571.46" cy="122.54" r="1.39" fill="#460b5e" stroke="#1a1a1a" stroke-width="0.35"/><path d="M410.73 183.66L411.41 184.8L410.05 184.8Z" fill="#1f9a8a" stroke="#f5a623" stroke-width="0.6"/><circle cx="379.88" cy="85.48" r="1.78" fill="#482576" stroke="#1a1a1a" stroke-width="0.35"/><path d="M463.32 179.16L464.36 180.91L462.28 180.91Z" fill="#1f9a8a" stroke="#f5a623" stroke-width="0.6"/><circle cx="422.93" cy="195.76" r="1.06" fill="#460b5e" stroke="#1a1a1a" stroke-width="0.35"/><circle cx="462.39" cy="91.45" r="1.66" fill="#1f9a8a" stroke="#1a1a1a" stroke-width="0.35"/><circle cx="546.49" cy="72.86" r="2" fill="#33638d" stroke="#1a1a1a" stroke-width="0.35"/><circle cx="391.63" cy="206" r="0.55" fill="#482576" stroke="#1a1a1a" stroke-width="0.35"/><circle cx="421.05" cy="141.11" r="1.66" fill="#482576" stroke="#1a1a1a" stroke-width="0.35"/><circle cx="418.97" cy="165.43" r="1.66" fill="#482576" stroke="#1a1a1a" stroke-width="0.35"/><circle cx="563.62" cy="203.44" r="1.06" fill="#1f9a8a" stroke="#1a1a1a" stroke-width="0.35"/><circle cx="396.94" cy="57.85" r="1.66" fill="#33638d" stroke="#1a1a1a" stroke-width="0.35"/><circle cx="546.76" cy="144.97" r="1.66" fill="#33638d" stroke="#1a1a1a" stroke-width="0.35"/><circle cx="396.25" cy="43.42" r="2" fill="#297a8e" stroke="#1a1a1a" stroke-width="0.35"/><circle cx="400.11" cy="45.47" r="2" fill="#460b5e" stroke="#1a1a1a" stroke-width="0.35"/><path d="M385.63 194.69L386.3 195.83L384.95 195.83Z" fill="#1f9a8a" stroke="#f5a623" stroke-width="0.6"/><circle cx="489.47" cy="82.59" r="2" fill="#a8db34" stroke="#1a1a1a" stroke-width="0.35"/><path d="M393.76 144.2L395.81 147.66L391.71 147.66Z" fill="#482576" stroke="#f5a623" stroke-width="0.6"/><circle cx="421.04" cy="78.22" r="1.78" fill="#460b5e" stroke="#1a1a1a" stroke-width="0.35"/><circle cx="427.99" cy="77.17" r="1.89" fill="#482576" stroke="#1a1a1a" stroke-width="0.35"/><circle cx="489.69" cy="191.62" r="1.24" fill="#a8db34" stroke="#1a1a1a" stroke-width="0.35"/><circle cx="571.06" cy="85.69" r="2" fill="#482576" stroke="#1a1a1a" stroke-width="0.35"/><circle cx="400.26" cy="195.14" r="0.84" fill="#1f9a8a" stroke="#1a1a1a" stroke-width="0.35"/><circle cx="548.36" cy="169.24" r="1.66" fill="#482576" stroke="#1a1a1a" stroke-width="0.35"/><path d="M384.97 201.17L386.01 202.92L383.93 202.92Z" fill="#482576" stroke="#f5a623" stroke-width="0.6"/><path d="M393.73 94.82L395.93 98.53L391.53 98.53Z" fill="#482576" stroke="#f5a623" stroke-width="0.6"/><path d="M385.43 190.83L386.73 193.03L384.12 193.03Z" fill="#482576" stroke="#f5a623" stroke-width="0.6"/><circle cx="567.52" cy="50.5" r="1.89" fill="#1f9a8a" stroke="#1a1a1a" stroke-width="0.35"/><circle cx="422.78" cy="178.52" r="1.39" fill="#460b5e" stroke="#1a1a1a" stroke-width="0.35"/><circle cx="379.72" cy="126.25" r="1.06" fill="#1f9a8a" stroke="#1a1a1a" stroke-width="0.35"/><circle cx="396.54" cy="180.24" r="1.06" fill="#33638d" stroke="#1a1a1a" stroke-width="0.35"/><circle cx="388.66" cy="152.69" r="1.39" fill="#33638d" stroke="#1a1a1a" stroke-width="0.35"/><circle cx="567.33" cy="65.47" r="1.89" fill="#1f9a8a" stroke="#1a1a1a" stroke-width="0.35"/><circle cx="422.91" cy="100.53" r="1.89" fill="#482576" stroke="#1a1a1a" stroke-width="0.35"/><circle cx="393.8" cy="54.36" r="1.89" fill="#1f9a8a" stroke="#1a1a1a" stroke-width="0.35"/><circle cx="422.58" cy="76.31" r="1.78" fill="#33638d" stroke="#1a1a1a" stroke-width="0.35"/><circle cx="548.17" cy="78.27" r="2" fill="#482576" stroke="#1a1a1a" stroke-width="0.35"/><circle cx="396.4" cy="124.98" r="1.24" fill="#33638d" stroke="#1a1a1a" stroke-width="0.35"/><circle cx="420.6" cy="95.96" r="1.78" fill="#482576" stroke="#1a1a1a" stroke-width="0.35"/><circle cx="388.16" cy="107.29" r="1.39" fill="#460b5e" stroke="#1a1a1a" stroke-width="0.35"/><circle cx="400.43" cy="111.66" r="1.66" fill="#460b5e" stroke="#1a1a1a" stroke-width="0.35"/><path d="M410.76 194.83L412.06 197.04L409.45 197.04Z" fill="#1f9a8a" stroke="#f5a623" stroke-width="0.6"/><circle cx="568.42" cy="191.07" r="0.84" fill="#482576" stroke="#1a1a1a" stroke-width="0.35"/><circle cx="570.98" cy="162.76" r="1.39" fill="#1f9a8a" stroke="#1a1a1a" stroke-width="0.35"/><path d="M385.61 36.23L388.08 40.39L383.14 40.39Z" fill="#1f9a8a" stroke="#f5a623" stroke-width="0.6"/><circle cx="546.27" cy="118.52" r="1.66" fill="#482576" stroke="#1a1a1a" stroke-width="0.35"/><circle cx="400.31" cy="197.04" r="0.84" fill="#75d054" stroke="#1a1a1a" stroke-width="0.35"/><circle cx="382.01" cy="204" r="0.55" fill="#482576" stroke="#1a1a1a" stroke-width="0.35"/><circle cx="420.66" cy="170.82" r="1.39" fill="#33638d" stroke="#1a1a1a" stroke-width="0.35"/><circle cx="420.32" cy="75.56" r="2" fill="#460b5e" stroke="#1a1a1a" stroke-width="0.35"/><circle cx="570.98" cy="137.65" r="1.53" fill="#1f9a8a" stroke="#1a1a1a" stroke-width="0.35"/><circle cx="400.39" cy="82.22" r="1.89" fill="#75d054" stroke="#1a1a1a" stroke-width="0.35"/><circle cx="391.23" cy="183.74" r="0.84" fill="#460b5e" stroke="#1a1a1a" stroke-width="0.35"/><circle cx="428.14" cy="149.95" r="1.39" fill="#460b5e" stroke="#1a1a1a" stroke-width="0.35"/><circle cx="423.34" cy="121.96" r="1.89" fill="#482576" stroke="#1a1a1a" stroke-width="0.35"/><circle cx="379.14" cy="136.64" r="1.39" fill="#1f9a8a" stroke="#1a1a1a" stroke-width="0.35"/><circle cx="380.15" cy="198.6" r="1.06" fill="#cde11d" stroke="#1a1a1a" stroke-width="0.35"/><circle cx="546.55" cy="145.96" r="1.53" fill="#482576" stroke="#1a1a1a" stroke-width="0.35"/><path d="M393.79 53.12L396.26 57.28L391.32 57.28Z" fill="#482576" stroke="#f5a623" stroke-width="0.6"/><path d="M410.71 185.68L412.02 187.89L409.41 187.89Z" fill="#33638d" stroke="#f5a623" stroke-width="0.6"/><circle cx="563.13" cy="120.78" r="1.24" fill="#1f9a8a" stroke="#1a1a1a" stroke-width="0.35"/><circle cx="379.91" cy="56.89" r="2" fill="#460b5e" stroke="#1a1a1a" stroke-width="0.35"/><circle cx="391.3" cy="180.48" r="1.06" fill="#460b5e" stroke="#1a1a1a" stroke-width="0.35"/><circle cx="379.9" cy="138.46" r="1.53" fill="#1f9a8a" stroke="#1a1a1a" stroke-width="0.35"/><circle cx="380.2" cy="207.73" r="0.84" fill="#482576" stroke="#1a1a1a" stroke-width="0.35"/><circle cx="568.53" cy="61.84" r="1.89" fill="#297a8e" stroke="#1a1a1a" stroke-width="0.35"/><circle cx="547.65" cy="196.46" r="0.55" fill="#33638d" stroke="#1a1a1a" stroke-width="0.35"/><circle cx="422.29" cy="64.38" r="1.89" fill="#460b5e" stroke="#1a1a1a" stroke-width="0.35"/><path d="M411.02 114.1L412.74 117L409.3 117Z" fill="#1f9a8a" stroke="#f5a623" stroke-width="0.6"/><path d="M410.53 131.21L412.42 134.41L408.63 134.41Z" fill="#1f9a8a" stroke="#f5a623" stroke-width="0.6"/><path d="M463.72 193.8L464.77 195.56L462.68 195.56Z" fill="#33638d" stroke="#f5a623" stroke-width="0.6"/><circle cx="546.84" cy="182.87" r="0.84" fill="#33638d" stroke="#1a1a1a" stroke-width="0.35"/><circle cx="421.95" cy="88.53" r="2" fill="#33638d" stroke="#1a1a1a" stroke-width="0.35"/><circle cx="391.39" cy="174.78" r="1.06" fill="#460b5e" stroke="#1a1a1a" stroke-width="0.35"/><circle cx="564.05" cy="105.03" r="1.66" fill="#1f9a8a" stroke="#1a1a1a" stroke-width="0.35"/><path d="M410.85 202.57L411.53 203.71L410.18 203.71Z" fill="#33638d" stroke="#f5a623" stroke-width="0.6"/><path d="M393.87 169.47L395.59 172.37L392.15 172.37Z" fill="#1f9a8a" stroke="#f5a623" stroke-width="0.6"/><circle cx="382.27" cy="201.71" r="0.84" fill="#33638d" stroke="#1a1a1a" stroke-width="0.35"/><path d="M385.54 145.73L387.43 148.92L383.64 148.92Z" fill="#33638d" stroke="#f5a623" stroke-width="0.6"/><path d="M463.68 132.82L465.21 135.4L462.15 135.4Z" fill="#482576" stroke="#f5a623" stroke-width="0.6"/><circle cx="379.24" cy="175.93" r="0.55" fill="#75d054" stroke="#1a1a1a" stroke-width="0.35"/><circle cx="563.72" cy="189.33" r="0.84" fill="#1f9a8a" stroke="#1a1a1a" stroke-width="0.35"/><circle cx="380.18" cy="97.92" r="1.66" fill="#1f9a8a" stroke="#1a1a1a" stroke-width="0.35"/><circle cx="390.93" cy="181.09" r="0.84" fill="#cde11d" stroke="#1a1a1a" stroke-width="0.35"/><circle cx="570.74" cy="108.69" r="1.66" fill="#482576" stroke="#1a1a1a" stroke-width="0.35"/><circle cx="405.85" cy="137.34" r="1.06" fill="#33638d" stroke="#1a1a1a" stroke-width="0.35"/><circle cx="382.11" cy="141.39" r="1.39" fill="#1f9a8a" stroke="#1a1a1a" stroke-width="0.35"/><circle cx="547.33" cy="164.77" r="1.39" fill="#33638d" stroke="#1a1a1a" stroke-width="0.35"/><circle cx="489.96" cy="150.36" r="1.66" fill="#75d054" stroke="#1a1a1a" stroke-width="0.35"/><circle cx="571.47" cy="89.92" r="1.89" fill="#482576" stroke="#1a1a1a" stroke-width="0.35"/><circle cx="391.03" cy="186.81" r="0.84" fill="#efe51c" stroke="#1a1a1a" stroke-width="0.35"/><circle cx="400.49" cy="161.28" r="1.39" fill="#1f9a8a" stroke="#1a1a1a" stroke-width="0.35"/><circle cx="388.18" cy="177.05" r="0.84" fill="#482576" stroke="#1a1a1a" stroke-width="0.35"/><circle cx="462.55" cy="186.44" r="0.55" fill="#1f9a8a" stroke="#1a1a1a" stroke-width="0.35"/><circle cx="567.62" cy="136.39" r="1.53" fill="#297a8e" stroke="#1a1a1a" stroke-width="0.35"/><circle cx="563.68" cy="55.13" r="2" fill="#33638d" stroke="#1a1a1a" stroke-width="0.35"/><path d="M384.92 121.73L386.97 125.19L382.87 125.19Z" fill="#482576" stroke="#f5a623" stroke-width="0.6"/><circle cx="563.53" cy="184.95" r="1.24" fill="#1f9a8a" stroke="#1a1a1a" stroke-width="0.35"/><circle cx="379.84" cy="44.84" r="2" fill="#482576" stroke="#1a1a1a" stroke-width="0.35"/><circle cx="489.95" cy="206.85" r="1.06" fill="#a8db34" stroke="#1a1a1a" stroke-width="0.35"/><circle cx="571.42" cy="210.65" r="0.84" fill="#1f9a8a" stroke="#1a1a1a" stroke-width="0.35"/><circle cx="393.55" cy="176.56" r="0.55" fill="#1f9a8a" stroke="#1a1a1a" stroke-width="0.35"/><circle cx="421.45" cy="166.23" r="1.78" fill="#460b5e" stroke="#1a1a1a" stroke-width="0.35"/><circle cx="490.29" cy="198.51" r="1.24" fill="#75d054" stroke="#1a1a1a" stroke-width="0.35"/><circle cx="379.66" cy="71.4" r="1.66" fill="#33638d" stroke="#1a1a1a" stroke-width="0.35"/><circle cx="422.94" cy="91.66" r="1.53" fill="#482576" stroke="#1a1a1a" stroke-width="0.35"/><circle cx="400.53" cy="123.87" r="1.66" fill="#482576" stroke="#1a1a1a" stroke-width="0.35"/><circle cx="571.42" cy="142.45" r="1.24" fill="#482576" stroke="#1a1a1a" stroke-width="0.35"/><circle cx="379.25" cy="165.11" r="1.06" fill="#33638d" stroke="#1a1a1a" stroke-width="0.35"/><circle cx="388.39" cy="183.61" r="1.06" fill="#1f9a8a" stroke="#1a1a1a" stroke-width="0.35"/><circle cx="546.94" cy="104.22" r="1.89" fill="#33638d" stroke="#1a1a1a" stroke-width="0.35"/><circle cx="380.29" cy="99.78" r="1.78" fill="#482576" stroke="#1a1a1a" stroke-width="0.35"/><path d="M410.63 172.71L412.16 175.28L409.1 175.28Z" fill="#1f9a8a" stroke="#f5a623" stroke-width="0.6"/><path d="M411.02 119.56L412.74 122.46L409.29 122.46Z" fill="#1f9a8a" stroke="#f5a623" stroke-width="0.6"/><circle cx="382.03" cy="82.31" r="1.78" fill="#1f9a8a" stroke="#1a1a1a" stroke-width="0.35"/><path d="M463.46 192.24L464.77 194.45L462.16 194.45Z" fill="#1f9a8a" stroke="#f5a623" stroke-width="0.6"/><path d="M393.25 176.21L394.98 179.11L391.53 179.11Z" fill="#482576" stroke="#f5a623" stroke-width="0.6"/><circle cx="400.38" cy="138.47" r="1.39" fill="#460b5e" stroke="#1a1a1a" stroke-width="0.35"/><circle cx="388.47" cy="190.24" r="0.84" fill="#1f9a8a" stroke="#1a1a1a" stroke-width="0.35"/><path d="M384.72 137.39L386.44 140.29L383 140.29Z" fill="#33638d" stroke="#f5a623" stroke-width="0.6"/><circle cx="380.18" cy="189.72" r="0.55" fill="#1f9a8a" stroke="#1a1a1a" stroke-width="0.35"/><circle cx="489.46" cy="169.32" r="1.24" fill="#a8db34" stroke="#1a1a1a" stroke-width="0.35"/><circle cx="400.1" cy="104.17" r="1.53" fill="#482576" stroke="#1a1a1a" stroke-width="0.35"/><circle cx="571.29" cy="72.99" r="1.89" fill="#482576" stroke="#1a1a1a" stroke-width="0.35"/><path d="M385.46 163.86L386.5 165.62L384.41 165.62Z" fill="#1f9a8a" stroke="#f5a623" stroke-width="0.6"/><path d="M380.07 200.38L380.75 201.52L379.4 201.52Z" fill="#482576" stroke="#f5a623" stroke-width="0.6"/><path d="M385.6 159.62L387.13 162.19L384.07 162.19Z" fill="#482576" stroke="#f5a623" stroke-width="0.6"/><path d="M385.62 177.28L387.15 179.85L384.09 179.85Z" fill="#1f9a8a" stroke="#f5a623" stroke-width="0.6"/><circle cx="423.78" cy="87.87" r="2" fill="#33638d" stroke="#1a1a1a" stroke-width="0.35"/><circle cx="422.31" cy="112.7" r="2" fill="#482576" stroke="#1a1a1a" stroke-width="0.35"/><path d="M410.51 199.55L411.19 200.69L409.84 200.69Z" fill="#1f9a8a" stroke="#f5a623" stroke-width="0.6"/><circle cx="546.71" cy="134.73" r="1.39" fill="#33638d" stroke="#1a1a1a" stroke-width="0.35"/><circle cx="571.68" cy="209.63" r="0.55" fill="#1f9a8a" stroke="#1a1a1a" stroke-width="0.35"/><path d="M464.47 105.33L466 107.91L462.94 107.91Z" fill="#33638d" stroke="#f5a623" stroke-width="0.6"/><circle cx="380.11" cy="204.72" r="0.55" fill="#482576" stroke="#1a1a1a" stroke-width="0.35"/><circle cx="432.8" cy="124.85" r="1.24" fill="#1f9a8a" stroke="#1a1a1a" stroke-width="0.35"/><circle cx="570.75" cy="114.24" r="1.66" fill="#482576" stroke="#1a1a1a" stroke-width="0.35"/><path d="M411.12 67.71L413.32 71.42L408.92 71.42Z" fill="#75d054" stroke="#f5a623" stroke-width="0.6"/><circle cx="548.02" cy="139.99" r="1.78" fill="#482576" stroke="#1a1a1a" stroke-width="0.35"/><circle cx="393.19" cy="93.78" r="1.53" fill="#1f9a8a" stroke="#1a1a1a" stroke-width="0.35"/><circle cx="382.26" cy="120.63" r="1.53" fill="#482576" stroke="#1a1a1a" stroke-width="0.35"/><path d="M410.72 62.41L412.92 66.11L408.52 66.11Z" fill="#1f9a8a" stroke="#f5a623" stroke-width="0.6"/><path d="M385.18 205.56L385.86 206.7L384.5 206.7Z" fill="#482576" stroke="#f5a623" stroke-width="0.6"/><circle cx="388.41" cy="119.32" r="1.53" fill="#482576" stroke="#1a1a1a" stroke-width="0.35"/><circle cx="490.58" cy="159.08" r="1.39" fill="#a8db34" stroke="#1a1a1a" stroke-width="0.35"/><circle cx="391.3" cy="193.76" r="0.84" fill="#482576" stroke="#1a1a1a" stroke-width="0.35"/><circle cx="400.53" cy="98.65" r="1.66" fill="#1f9a8a" stroke="#1a1a1a" stroke-width="0.35"/><circle cx="422.72" cy="77.09" r="2" fill="#33638d" stroke="#1a1a1a" stroke-width="0.35"/><circle cx="419.48" cy="193.26" r="1.53" fill="#482576" stroke="#1a1a1a" stroke-width="0.35"/><circle cx="422.65" cy="167.64" r="1.66" fill="#482576" stroke="#1a1a1a" stroke-width="0.35"/><circle cx="421.87" cy="108.74" r="1.53" fill="#33638d" stroke="#1a1a1a" stroke-width="0.35"/><path d="M462.9 66.33L464.96 69.79L460.85 69.79Z" fill="#33638d" stroke="#f5a623" stroke-width="0.6"/><circle cx="396.32" cy="172.61" r="1.06" fill="#297a8e" stroke="#1a1a1a" stroke-width="0.35"/><circle cx="400.52" cy="178.21" r="1.39" fill="#1f9a8a" stroke="#1a1a1a" stroke-width="0.35"/><circle cx="400.54" cy="199.88" r="1.06" fill="#1f9a8a" stroke="#1a1a1a" stroke-width="0.35"/><circle cx="391.38" cy="192.95" r="0.84" fill="#cde11d" stroke="#1a1a1a" stroke-width="0.35"/><circle cx="548.45" cy="191.95" r="1.06" fill="#33638d" stroke="#1a1a1a" stroke-width="0.35"/><circle cx="567.8" cy="148.65" r="1.24" fill="#297a8e" stroke="#1a1a1a" stroke-width="0.35"/><path d="M410.76 120.75L412.48 123.65L409.04 123.65Z" fill="#75d054" stroke="#f5a623" stroke-width="0.6"/><circle cx="384.98" cy="74.75" r="1.89" fill="#1f9a8a" stroke="#1a1a1a" stroke-width="0.35"/><circle cx="387.98" cy="208.92" r="0.84" fill="#460b5e" stroke="#1a1a1a" stroke-width="0.35"/><circle cx="384.99" cy="155.05" r="1.53" fill="#1f9a8a" stroke="#1a1a1a" stroke-width="0.35"/><circle cx="382.97" cy="191.17" r="0.84" fill="#1f9a8a" stroke="#1a1a1a" stroke-width="0.35"/><circle cx="391.58" cy="162.99" r="1.06" fill="#482576" stroke="#1a1a1a" stroke-width="0.35"/><circle cx="432.15" cy="79.55" r="1.53" fill="#1f9a8a" stroke="#1a1a1a" stroke-width="0.35"/><circle cx="391.44" cy="198.68" r="0.55" fill="#460b5e" stroke="#1a1a1a" stroke-width="0.35"/><circle cx="423.01" cy="178.87" r="1.53" fill="#460b5e" stroke="#1a1a1a" stroke-width="0.35"/><circle cx="547.2" cy="150" r="1.39" fill="#482576" stroke="#1a1a1a" stroke-width="0.35"/><circle cx="428.66" cy="96.12" r="1.78" fill="#482576" stroke="#1a1a1a" stroke-width="0.35"/><circle cx="490.13" cy="130.07" r="1.66" fill="#cde11d" stroke="#1a1a1a" stroke-width="0.35"/><circle cx="452.6" cy="107.02" r="1.78" fill="#33638d" stroke="#1a1a1a" stroke-width="0.35"/><path d="M379.67 59.71L382.01 63.65L377.33 63.65Z" fill="#1f9a8a" stroke="#f5a623" stroke-width="0.6"/><path d="M393.45 158.46L394.49 160.21L392.41 160.21Z" fill="#482576" stroke="#f5a623" stroke-width="0.6"/><path d="M379.41 195.85L380.72 198.05L378.11 198.05Z" fill="#1f9a8a" stroke="#f5a623" stroke-width="0.6"/><path d="M464.49 96.73L466.55 100.19L462.44 100.19Z" fill="#482576" stroke="#f5a623" stroke-width="0.6"/><circle cx="400.29" cy="164.29" r="1.39" fill="#460b5e" stroke="#1a1a1a" stroke-width="0.35"/><circle cx="420.25" cy="158" r="1.39" fill="#460b5e" stroke="#1a1a1a" stroke-width="0.35"/><circle cx="382.4" cy="54.27" r="1.89" fill="#1f9a8a" stroke="#1a1a1a" stroke-width="0.35"/><circle cx="571.2" cy="182.51" r="1.24" fill="#482576" stroke="#1a1a1a" stroke-width="0.35"/><path d="M410.7 207.11L411.37 208.25L410.02 208.25Z" fill="#1f9a8a" stroke="#f5a623" stroke-width="0.6"/><path d="M385 117.43L387.05 120.89L382.94 120.89Z" fill="#1f9a8a" stroke="#f5a623" stroke-width="0.6"/><path d="M393.56 126.58L395.28 129.48L391.84 129.48Z" fill="#482576" stroke="#f5a623" stroke-width="0.6"/><circle cx="490.16" cy="209.23" r="0.55" fill="#3dbc74" stroke="#1a1a1a" stroke-width="0.35"/><circle cx="394.02" cy="107.99" r="1.39" fill="#1f9a8a" stroke="#1a1a1a" stroke-width="0.35"/><circle cx="489.62" cy="183.45" r="1.24" fill="#3dbc74" stroke="#1a1a1a" stroke-width="0.35"/><circle cx="382.1" cy="159.99" r="1.06" fill="#33638d" stroke="#1a1a1a" stroke-width="0.35"/><circle cx="568.52" cy="146.61" r="1.06" fill="#482576" stroke="#1a1a1a" stroke-width="0.35"/><circle cx="564.04" cy="168.45" r="1.06" fill="#1f9a8a" stroke="#1a1a1a" stroke-width="0.35"/><path d="M410.98 128.52L412.88 131.71L409.09 131.71Z" fill="#1f9a8a" stroke="#f5a623" stroke-width="0.6"/><circle cx="567.23" cy="117.22" r="1.78" fill="#482576" stroke="#1a1a1a" stroke-width="0.35"/><circle cx="418.55" cy="95.3" r="2" fill="#33638d" stroke="#1a1a1a" stroke-width="0.35"/><circle cx="568.12" cy="208" r="0.84" fill="#75d054" stroke="#1a1a1a" stroke-width="0.35"/><circle cx="570.98" cy="56.43" r="1.66" fill="#1f9a8a" stroke="#1a1a1a" stroke-width="0.35"/><circle cx="571.72" cy="141.38" r="1.53" fill="#460b5e" stroke="#1a1a1a" stroke-width="0.35"/><circle cx="382.84" cy="203.13" r="0.55" fill="#33638d" stroke="#1a1a1a" stroke-width="0.35"/><circle cx="571.36" cy="91.74" r="1.89" fill="#1f9a8a" stroke="#1a1a1a" stroke-width="0.35"/><path d="M379.19 86.2L381.53 90.14L376.85 90.14Z" fill="#482576" stroke="#f5a623" stroke-width="0.6"/><circle cx="388.85" cy="154.5" r="1.06" fill="#482576" stroke="#1a1a1a" stroke-width="0.35"/><circle cx="570.59" cy="152.84" r="1.06" fill="#482576" stroke="#1a1a1a" stroke-width="0.35"/><path d="M393.3 71.07L395.5 74.78L391.1 74.78Z" fill="#1f9a8a" stroke="#f5a623" stroke-width="0.6"/><circle cx="379.67" cy="169.95" r="1.06" fill="#1f9a8a" stroke="#1a1a1a" stroke-width="0.35"/><path d="M384.94 191.29L386.25 193.5L383.63 193.5Z" fill="#1f9a8a" stroke="#f5a623" stroke-width="0.6"/><circle cx="421.41" cy="191.2" r="1.24" fill="#460b5e" stroke="#1a1a1a" stroke-width="0.35"/><path d="M380.02 198.67L381.06 200.42L378.97 200.42Z" fill="#482576" stroke="#f5a623" stroke-width="0.6"/><circle cx="380.28" cy="88.92" r="1.66" fill="#33638d" stroke="#1a1a1a" stroke-width="0.35"/><circle cx="380.17" cy="134.61" r="1.39" fill="#1f9a8a" stroke="#1a1a1a" stroke-width="0.35"/><path d="M411.14 59.7L413.47 63.64L408.8 63.64Z" fill="#75d054" stroke="#f5a623" stroke-width="0.6"/><path d="M411 116.88L412.9 120.08L409.11 120.08Z" fill="#33638d" stroke="#f5a623" stroke-width="0.6"/><circle cx="422.48" cy="82.19" r="1.66" fill="#482576" stroke="#1a1a1a" stroke-width="0.35"/><circle cx="563.99" cy="126.63" r="1.24" fill="#33638d" stroke="#1a1a1a" stroke-width="0.35"/><circle cx="563.25" cy="74.58" r="2" fill="#297a8e" stroke="#1a1a1a" stroke-width="0.35"/><circle cx="396.98" cy="104.61" r="1.06" fill="#33638d" stroke="#1a1a1a" stroke-width="0.35"/><path d="M463.13 190.78L464.66 193.35L461.6 193.35Z" fill="#1f9a8a" stroke="#f5a623" stroke-width="0.6"/><circle cx="391.64" cy="182.7" r="1.06" fill="#460b5e" stroke="#1a1a1a" stroke-width="0.35"/><circle cx="421.88" cy="81.73" r="2" fill="#482576" stroke="#1a1a1a" stroke-width="0.35"/><circle cx="418.59" cy="190.22" r="1.06" fill="#482576" stroke="#1a1a1a" stroke-width="0.35"/><circle cx="391.03" cy="164.57" r="0.55" fill="#a8db34" stroke="#1a1a1a" stroke-width="0.35"/><circle cx="421.76" cy="71.86" r="1.89" fill="#460b5e" stroke="#1a1a1a" stroke-width="0.35"/><path d="M393.39 201.64L394.07 202.78L392.72 202.78Z" fill="#482576" stroke="#f5a623" stroke-width="0.6"/><circle cx="420.04" cy="147.42" r="1.78" fill="#33638d" stroke="#1a1a1a" stroke-width="0.35"/><circle cx="400.21" cy="185.43" r="0.55" fill="#482576" stroke="#1a1a1a" stroke-width="0.35"/><circle cx="393.13" cy="195.25" r="0.55" fill="#33638d" stroke="#1a1a1a" stroke-width="0.35"/><path d="M463.85 88.65L466.06 92.35L461.65 92.35Z" fill="#482576" stroke="#f5a623" stroke-width="0.6"/><circle cx="490.29" cy="121.78" r="1.78" fill="#75d054" stroke="#1a1a1a" stroke-width="0.35"/><circle cx="570.71" cy="50.67" r="2" fill="#460b5e" stroke="#1a1a1a" stroke-width="0.35"/><circle cx="380.3" cy="187" r="0.84" fill="#1f9a8a" stroke="#1a1a1a" stroke-width="0.35"/><circle cx="381.91" cy="167.31" r="1.24" fill="#1f9a8a" stroke="#1a1a1a" stroke-width="0.35"/><circle cx="399.96" cy="176.95" r="0.84" fill="#75d054" stroke="#1a1a1a" stroke-width="0.35"/><circle cx="452.17" cy="56.22" r="2" fill="#297a8e" stroke="#1a1a1a" stroke-width="0.35"/><circle cx="489.59" cy="208.96" r="0.84" fill="#a8db34" stroke="#1a1a1a" stroke-width="0.35"/><circle cx="490.48" cy="190.67" r="0.84" fill="#a8db34" stroke="#1a1a1a" stroke-width="0.35"/><circle cx="390.92" cy="136.9" r="1.53" fill="#a8db34" stroke="#1a1a1a" stroke-width="0.35"/><path d="M393.68 193.99L394.72 195.75L392.63 195.75Z" fill="#1f9a8a" stroke="#f5a623" stroke-width="0.6"/><circle cx="379.94" cy="58.76" r="1.78" fill="#482576" stroke="#1a1a1a" stroke-width="0.35"/><circle cx="571.14" cy="58.39" r="2" fill="#482576" stroke="#1a1a1a" stroke-width="0.35"/><circle cx="490" cy="78.21" r="1.89" fill="#75d054" stroke="#1a1a1a" stroke-width="0.35"/><circle cx="562.93" cy="193.65" r="1.06" fill="#1f9a8a" stroke="#1a1a1a" stroke-width="0.35"/><circle cx="418.91" cy="163.68" r="1.78" fill="#33638d" stroke="#1a1a1a" stroke-width="0.35"/><circle cx="422.26" cy="86.18" r="2" fill="#33638d" stroke="#1a1a1a" stroke-width="0.35"/><circle cx="423.83" cy="195.32" r="1.53" fill="#460b5e" stroke="#1a1a1a" stroke-width="0.35"/><path d="M379.21 34.2L381.68 38.36L376.74 38.36Z" fill="#482576" stroke="#f5a623" stroke-width="0.6"/><circle cx="568.47" cy="94.04" r="1.78" fill="#1f9a8a" stroke="#1a1a1a" stroke-width="0.35"/><circle cx="490.47" cy="141.84" r="1.66" fill="#75d054" stroke="#1a1a1a" stroke-width="0.35"/><circle cx="391.13" cy="149" r="1.39" fill="#460b5e" stroke="#1a1a1a" stroke-width="0.35"/><circle cx="547.84" cy="165.5" r="1.06" fill="#33638d" stroke="#1a1a1a" stroke-width="0.35"/><circle cx="563.62" cy="124.8" r="1.24" fill="#297a8e" stroke="#1a1a1a" stroke-width="0.35"/><circle cx="563.29" cy="204.01" r="0.55" fill="#297a8e" stroke="#1a1a1a" stroke-width="0.35"/><path d="M385.35 176.56L386.39 178.32L384.31 178.32Z" fill="#33638d" stroke="#f5a623" stroke-width="0.6"/><circle cx="546.79" cy="101.3" r="1.66" fill="#482576" stroke="#1a1a1a" stroke-width="0.35"/><circle cx="432.52" cy="111.52" r="1.66" fill="#1f9a8a" stroke="#1a1a1a" stroke-width="0.35"/><circle cx="490.27" cy="61.81" r="2" fill="#cde11d" stroke="#1a1a1a" stroke-width="0.35"/><circle cx="452.41" cy="202.86" r="0.84" fill="#33638d" stroke="#1a1a1a" stroke-width="0.35"/><circle cx="546.34" cy="160.75" r="1.06" fill="#482576" stroke="#1a1a1a" stroke-width="0.35"/><circle cx="571.13" cy="125.16" r="1.53" fill="#460b5e" stroke="#1a1a1a" stroke-width="0.35"/><circle cx="489.82" cy="196.5" r="0.84" fill="#a8db34" stroke="#1a1a1a" stroke-width="0.35"/><circle cx="570.78" cy="66.44" r="1.89" fill="#1f9a8a" stroke="#1a1a1a" stroke-width="0.35"/><circle cx="567.85" cy="204.23" r="0.55" fill="#75d054" stroke="#1a1a1a" stroke-width="0.35"/><circle cx="382.33" cy="192.43" r="0.55" fill="#1f9a8a" stroke="#1a1a1a" stroke-width="0.35"/><circle cx="562.87" cy="149.29" r="1.53" fill="#1f9a8a" stroke="#1a1a1a" stroke-width="0.35"/><path d="M463.3 180.7L464.61 182.91L462 182.91Z" fill="#33638d" stroke="#f5a623" stroke-width="0.6"/><circle cx="563.9" cy="201.74" r="0.55" fill="#33638d" stroke="#1a1a1a" stroke-width="0.35"/><circle cx="396.9" cy="132.63" r="0.55" fill="#297a8e" stroke="#1a1a1a" stroke-width="0.35"/><path d="M385.2 205.66L385.87 206.8L384.52 206.8Z" fill="#482576" stroke="#f5a623" stroke-width="0.6"/><circle cx="571.23" cy="197.74" r="0.84" fill="#460b5e" stroke="#1a1a1a" stroke-width="0.35"/><circle cx="548.11" cy="159.61" r="1.66" fill="#482576" stroke="#1a1a1a" stroke-width="0.35"/><circle cx="422.14" cy="163.2" r="1.24" fill="#33638d" stroke="#1a1a1a" stroke-width="0.35"/><circle cx="379.82" cy="188.51" r="1.24" fill="#460b5e" stroke="#1a1a1a" stroke-width="0.35"/><circle cx="568.04" cy="130.81" r="1.06" fill="#1f9a8a" stroke="#1a1a1a" stroke-width="0.35"/><circle cx="391.37" cy="142.73" r="1.39" fill="#cde11d" stroke="#1a1a1a" stroke-width="0.35"/><circle cx="379.17" cy="183.19" r="1.06" fill="#a8db34" stroke="#1a1a1a" stroke-width="0.35"/><circle cx="391.12" cy="140.89" r="1.53" fill="#482576" stroke="#1a1a1a" stroke-width="0.35"/><circle cx="388.86" cy="171.29" r="0.84" fill="#482576" stroke="#1a1a1a" stroke-width="0.35"/><path d="M410.74 111L412.64 114.19L408.85 114.19Z" fill="#33638d" stroke="#f5a623" stroke-width="0.6"/><circle cx="563.5" cy="116.5" r="1.53" fill="#1f9a8a" stroke="#1a1a1a" stroke-width="0.35"/><circle cx="379.27" cy="195.76" r="0.55" fill="#1f9a8a" stroke="#1a1a1a" stroke-width="0.35"/><circle cx="419.1" cy="135.01" r="1.53" fill="#460b5e" stroke="#1a1a1a" stroke-width="0.35"/><circle cx="568.2" cy="187.99" r="1.06" fill="#1f9a8a" stroke="#1a1a1a" stroke-width="0.35"/><path d="M385.3 182.34L386.61 184.54L383.99 184.54Z" fill="#482576" stroke="#f5a623" stroke-width="0.6"/><circle cx="563.13" cy="181.48" r="1.24" fill="#33638d" stroke="#1a1a1a" stroke-width="0.35"/><circle cx="400.21" cy="159.02" r="1.53" fill="#482576" stroke="#1a1a1a" stroke-width="0.35"/><circle cx="387.99" cy="114.04" r="1.53" fill="#1f9a8a" stroke="#1a1a1a" stroke-width="0.35"/><circle cx="428.69" cy="180.51" r="1.24" fill="#482576" stroke="#1a1a1a" stroke-width="0.35"/><circle cx="388.73" cy="175.86" r="1.24" fill="#1f9a8a" stroke="#1a1a1a" stroke-width="0.35"/><path d="M463.29 126.87L465.01 129.77L461.56 129.77Z" fill="#1f9a8a" stroke="#f5a623" stroke-width="0.6"/><circle cx="385.63" cy="201.64" r="0.55" fill="#1f9a8a" stroke="#1a1a1a" stroke-width="0.35"/><circle cx="568.45" cy="48.7" r="1.78" fill="#1f9a8a" stroke="#1a1a1a" stroke-width="0.35"/><circle cx="396.99" cy="72.7" r="1.53" fill="#297a8e" stroke="#1a1a1a" stroke-width="0.35"/><circle cx="388.28" cy="131.42" r="1.24" fill="#482576" stroke="#1a1a1a" stroke-width="0.35"/><circle cx="490.34" cy="101.35" r="2" fill="#75d054" stroke="#1a1a1a" stroke-width="0.35"/><circle cx="571.28" cy="180.21" r="1.06" fill="#1f9a8a" stroke="#1a1a1a" stroke-width="0.35"/><circle cx="571.46" cy="205.35" r="1.06" fill="#482576" stroke="#1a1a1a" stroke-width="0.35"/><circle cx="428.55" cy="184.49" r="1.39" fill="#460b5e" stroke="#1a1a1a" stroke-width="0.35"/><circle cx="452.06" cy="151.99" r="1.24" fill="#33638d" stroke="#1a1a1a" stroke-width="0.35"/><circle cx="422.95" cy="197.03" r="1.06" fill="#482576" stroke="#1a1a1a" stroke-width="0.35"/><circle cx="421.84" cy="179.75" r="1.78" fill="#460b5e" stroke="#1a1a1a" stroke-width="0.35"/><circle cx="567.86" cy="138.18" r="1.53" fill="#1f9a8a" stroke="#1a1a1a" stroke-width="0.35"/><path d="M393.88 179.46L394.92 181.22L392.84 181.22Z" fill="#1f9a8a" stroke="#f5a623" stroke-width="0.6"/><circle cx="423.07" cy="70.72" r="2" fill="#482576" stroke="#1a1a1a" stroke-width="0.35"/><circle cx="380.02" cy="174.36" r="1.06" fill="#1f9a8a" stroke="#1a1a1a" stroke-width="0.35"/><circle cx="428.5" cy="108.81" r="1.78" fill="#482576" stroke="#1a1a1a" stroke-width="0.35"/><circle cx="490.17" cy="166.76" r="1.39" fill="#cde11d" stroke="#1a1a1a" stroke-width="0.35"/><circle cx="388.77" cy="112.15" r="1.53" fill="#482576" stroke="#1a1a1a" stroke-width="0.35"/><circle cx="462.77" cy="203.67" r="0.84" fill="#1f9a8a" stroke="#1a1a1a" stroke-width="0.35"/><circle cx="391.19" cy="58.69" r="1.53" fill="#cde11d" stroke="#1a1a1a" stroke-width="0.35"/><circle cx="567.57" cy="59.56" r="1.78" fill="#482576" stroke="#1a1a1a" stroke-width="0.35"/><circle cx="396.73" cy="201.58" r="0.84" fill="#33638d" stroke="#1a1a1a" stroke-width="0.35"/><circle cx="428.68" cy="143.95" r="1.66" fill="#482576" stroke="#1a1a1a" stroke-width="0.35"/><circle cx="400.28" cy="96.65" r="1.39" fill="#75d054" stroke="#1a1a1a" stroke-width="0.35"/><circle cx="567.5" cy="180.59" r="1.06" fill="#482576" stroke="#1a1a1a" stroke-width="0.35"/><circle cx="380.32" cy="189.14" r="0.55" fill="#1f9a8a" stroke="#1a1a1a" stroke-width="0.35"/><circle cx="563.48" cy="190.74" r="1.24" fill="#1f9a8a" stroke="#1a1a1a" stroke-width="0.35"/><circle cx="388.19" cy="197.8" r="0.55" fill="#482576" stroke="#1a1a1a" stroke-width="0.35"/><path d="M379.81 122.82L381.53 125.72L378.08 125.72Z" fill="#482576" stroke="#f5a623" stroke-width="0.6"/><circle cx="382.68" cy="36.36" r="2" fill="#482576" stroke="#1a1a1a" stroke-width="0.35"/><circle cx="452.18" cy="187.85" r="0.55" fill="#33638d" stroke="#1a1a1a" stroke-width="0.35"/><path d="M463.03 113.65L464.75 116.55L461.31 116.55Z" fill="#33638d" stroke="#f5a623" stroke-width="0.6"/><circle cx="563.23" cy="89" r="1.78" fill="#297a8e" stroke="#1a1a1a" stroke-width="0.35"/><circle cx="564.02" cy="53.04" r="2" fill="#297a8e" stroke="#1a1a1a" stroke-width="0.35"/><circle cx="571.34" cy="206.18" r="0.55" fill="#460b5e" stroke="#1a1a1a" stroke-width="0.35"/><circle cx="423.6" cy="172.95" r="1.24" fill="#33638d" stroke="#1a1a1a" stroke-width="0.35"/><circle cx="419.41" cy="61.93" r="2" fill="#460b5e" stroke="#1a1a1a" stroke-width="0.35"/><circle cx="380.33" cy="180.38" r="1.06" fill="#1f9a8a" stroke="#1a1a1a" stroke-width="0.35"/><path d="M384.8 40.47L387.27 44.63L382.33 44.63Z" fill="#1f9a8a" stroke="#f5a623" stroke-width="0.6"/><circle cx="567.69" cy="186.81" r="0.84" fill="#1f9a8a" stroke="#1a1a1a" stroke-width="0.35"/><path d="M385 195.93L386.31 198.14L383.7 198.14Z" fill="#33638d" stroke="#f5a623" stroke-width="0.6"/><circle cx="399.91" cy="174.81" r="1.39" fill="#75d054" stroke="#1a1a1a" stroke-width="0.35"/><circle cx="379.81" cy="84.22" r="1.66" fill="#75d054" stroke="#1a1a1a" stroke-width="0.35"/><path d="M464.56 153.47L466.09 156.04L463.03 156.04Z" fill="#33638d" stroke="#f5a623" stroke-width="0.6"/><circle cx="380.21" cy="197.26" r="1.24" fill="#482576" stroke="#1a1a1a" stroke-width="0.35"/><circle cx="547.64" cy="187.96" r="0.84" fill="#33638d" stroke="#1a1a1a" stroke-width="0.35"/><circle cx="380.25" cy="110.94" r="1.78" fill="#460b5e" stroke="#1a1a1a" stroke-width="0.35"/><circle cx="548.39" cy="161.05" r="1.66" fill="#33638d" stroke="#1a1a1a" stroke-width="0.35"/><circle cx="388.05" cy="203.3" r="0.55" fill="#1f9a8a" stroke="#1a1a1a" stroke-width="0.35"/><circle cx="396.72" cy="173.92" r="1.39" fill="#297a8e" stroke="#1a1a1a" stroke-width="0.35"/><circle cx="489.69" cy="130.89" r="1.66" fill="#a8db34" stroke="#1a1a1a" stroke-width="0.35"/><circle cx="570.76" cy="181.05" r="1.06" fill="#460b5e" stroke="#1a1a1a" stroke-width="0.35"/><circle cx="452.39" cy="145.33" r="1.39" fill="#33638d" stroke="#1a1a1a" stroke-width="0.35"/><circle cx="568.63" cy="195.62" r="0.84" fill="#482576" stroke="#1a1a1a" stroke-width="0.35"/><circle cx="462.39" cy="130.24" r="1.39" fill="#1f9a8a" stroke="#1a1a1a" stroke-width="0.35"/><circle cx="420.67" cy="160.81" r="1.78" fill="#460b5e" stroke="#1a1a1a" stroke-width="0.35"/><path d="M379.38 42.03L381.85 46.19L376.91 46.19Z" fill="#1f9a8a" stroke="#f5a623" stroke-width="0.6"/><circle cx="452.78" cy="132.86" r="1.06" fill="#297a8e" stroke="#1a1a1a" stroke-width="0.35"/><circle cx="422.9" cy="188.94" r="1.53" fill="#460b5e" stroke="#1a1a1a" stroke-width="0.35"/><circle cx="570.71" cy="73.32" r="1.89" fill="#482576" stroke="#1a1a1a" stroke-width="0.35"/><circle cx="379.88" cy="198.17" r="0.55" fill="#460b5e" stroke="#1a1a1a" stroke-width="0.35"/><circle cx="379.95" cy="66.34" r="1.89" fill="#33638d" stroke="#1a1a1a" stroke-width="0.35"/><path d="M393.87 192.04L394.55 193.18L393.19 193.18Z" fill="#1f9a8a" stroke="#f5a623" stroke-width="0.6"/><circle cx="400.69" cy="129.46" r="1.53" fill="#75d054" stroke="#1a1a1a" stroke-width="0.35"/><circle cx="490.39" cy="180.16" r="1.06" fill="#a8db34" stroke="#1a1a1a" stroke-width="0.35"/><circle cx="571.32" cy="190.41" r="0.84" fill="#482576" stroke="#1a1a1a" stroke-width="0.35"/><circle cx="391" cy="130.74" r="1.39" fill="#a8db34" stroke="#1a1a1a" stroke-width="0.35"/><circle cx="564.08" cy="145.86" r="1.66" fill="#33638d" stroke="#1a1a1a" stroke-width="0.35"/><circle cx="490.49" cy="125.95" r="1.78" fill="#75d054" stroke="#1a1a1a" stroke-width="0.35"/><circle cx="421.65" cy="89.35" r="1.78" fill="#460b5e" stroke="#1a1a1a" stroke-width="0.35"/><circle cx="388.53" cy="94.43" r="1.89" fill="#1f9a8a" stroke="#1a1a1a" stroke-width="0.35"/><circle cx="546.46" cy="133.32" r="1.24" fill="#482576" stroke="#1a1a1a" stroke-width="0.35"/><circle cx="423.73" cy="122.83" r="1.53" fill="#482576" stroke="#1a1a1a" stroke-width="0.35"/><circle cx="385.21" cy="120.82" r="1.24" fill="#297a8e" stroke="#1a1a1a" stroke-width="0.35"/><path d="M463.43 134.21L464.96 136.79L461.9 136.79Z" fill="#33638d" stroke="#f5a623" stroke-width="0.6"/><circle cx="391.2" cy="177.22" r="0.84" fill="#cde11d" stroke="#1a1a1a" stroke-width="0.35"/><circle cx="567.52" cy="205.63" r="0.55" fill="#297a8e" stroke="#1a1a1a" stroke-width="0.35"/><circle cx="571.8" cy="151.71" r="1.39" fill="#460b5e" stroke="#1a1a1a" stroke-width="0.35"/><circle cx="563.75" cy="197.8" r="0.84" fill="#33638d" stroke="#1a1a1a" stroke-width="0.35"/><circle cx="490.16" cy="191.48" r="0.84" fill="#75d054" stroke="#1a1a1a" stroke-width="0.35"/><path d="M410.31 135.4L412.03 138.3L408.59 138.3Z" fill="#33638d" stroke="#f5a623" stroke-width="0.6"/><path d="M463.81 110.89L465.53 113.79L462.09 113.79Z" fill="#33638d" stroke="#f5a623" stroke-width="0.6"/><circle cx="567.2" cy="152.43" r="1.06" fill="#297a8e" stroke="#1a1a1a" stroke-width="0.35"/><circle cx="405.41" cy="60.6" r="1.89" fill="#33638d" stroke="#1a1a1a" stroke-width="0.35"/><path d="M463.81 60.2L466.15 64.14L461.47 64.14Z" fill="#1f9a8a" stroke="#f5a623" stroke-width="0.6"/><circle cx="568.66" cy="52.52" r="1.78" fill="#1f9a8a" stroke="#1a1a1a" stroke-width="0.35"/><circle cx="400.25" cy="143.56" r="1.66" fill="#482576" stroke="#1a1a1a" stroke-width="0.35"/><circle cx="419.34" cy="115.38" r="1.66" fill="#482576" stroke="#1a1a1a" stroke-width="0.35"/><circle cx="379.76" cy="172.34" r="1.06" fill="#460b5e" stroke="#1a1a1a" stroke-width="0.35"/><circle cx="423.23" cy="149.54" r="1.66" fill="#460b5e" stroke="#1a1a1a" stroke-width="0.35"/><circle cx="391.62" cy="176.27" r="0.84" fill="#460b5e" stroke="#1a1a1a" stroke-width="0.35"/><circle cx="405.96" cy="119.65" r="1.89" fill="#33638d" stroke="#1a1a1a" stroke-width="0.35"/><circle cx="490.19" cy="210.26" r="0.55" fill="#3dbc74" stroke="#1a1a1a" stroke-width="0.35"/><path d="M462.86 78.62L464.91 82.08L460.8 82.08Z" fill="#482576" stroke="#f5a623" stroke-width="0.6"/><circle cx="490.39" cy="163.56" r="1.24" fill="#a8db34" stroke="#1a1a1a" stroke-width="0.35"/><circle cx="379.14" cy="143.32" r="1.39" fill="#33638d" stroke="#1a1a1a" stroke-width="0.35"/><circle cx="396.6" cy="101.96" r="1.06" fill="#33638d" stroke="#1a1a1a" stroke-width="0.35"/><circle cx="489.88" cy="196.55" r="1.06" fill="#75d054" stroke="#1a1a1a" stroke-width="0.35"/><circle cx="380.23" cy="117.33" r="1.24" fill="#1f9a8a" stroke="#1a1a1a" stroke-width="0.35"/><circle cx="382.54" cy="55.44" r="2" fill="#1f9a8a" stroke="#1a1a1a" stroke-width="0.35"/><circle cx="571.42" cy="183.24" r="0.84" fill="#1f9a8a" stroke="#1a1a1a" stroke-width="0.35"/><circle cx="547.52" cy="79.77" r="2" fill="#482576" stroke="#1a1a1a" stroke-width="0.35"/><path d="M410.45 91.54L412.5 95L408.39 95Z" fill="#33638d" stroke="#f5a623" stroke-width="0.6"/><circle cx="568.01" cy="184.61" r="0.84" fill="#1f9a8a" stroke="#1a1a1a" stroke-width="0.35"/><circle cx="420.89" cy="160.44" r="1.24" fill="#460b5e" stroke="#1a1a1a" stroke-width="0.35"/><circle cx="570.73" cy="144.01" r="1.39" fill="#482576" stroke="#1a1a1a" stroke-width="0.35"/><circle cx="388.23" cy="193.21" r="0.55" fill="#1f9a8a" stroke="#1a1a1a" stroke-width="0.35"/><circle cx="564" cy="98.83" r="2" fill="#297a8e" stroke="#1a1a1a" stroke-width="0.35"/><circle cx="567.96" cy="187.9" r="0.55" fill="#1f9a8a" stroke="#1a1a1a" stroke-width="0.35"/><circle cx="382.73" cy="155.69" r="1.06" fill="#460b5e" stroke="#1a1a1a" stroke-width="0.35"/><circle cx="390.94" cy="67.26" r="1.66" fill="#cde11d" stroke="#1a1a1a" stroke-width="0.35"/><circle cx="423.24" cy="192.88" r="1.53" fill="#482576" stroke="#1a1a1a" stroke-width="0.35"/><circle cx="405.54" cy="157.31" r="1.39" fill="#33638d" stroke="#1a1a1a" stroke-width="0.35"/><circle cx="563.79" cy="64.34" r="2" fill="#1f9a8a" stroke="#1a1a1a" stroke-width="0.35"/><path d="M411.18 48.79L413.65 52.95L408.71 52.95Z" fill="#75d054" stroke="#f5a623" stroke-width="0.6"/><circle cx="393.3" cy="84.17" r="1.66" fill="#1f9a8a" stroke="#1a1a1a" stroke-width="0.35"/><circle cx="400.53" cy="193.21" r="1.24" fill="#75d054" stroke="#1a1a1a" stroke-width="0.35"/><circle cx="489.54" cy="193.13" r="1.39" fill="#a8db34" stroke="#1a1a1a" stroke-width="0.35"/><circle cx="462.98" cy="117.76" r="1.53" fill="#1f9a8a" stroke="#1a1a1a" stroke-width="0.35"/><circle cx="420.3" cy="126.28" r="2" fill="#33638d" stroke="#1a1a1a" stroke-width="0.35"/><circle cx="432.61" cy="119.16" r="1.53" fill="#1f9a8a" stroke="#1a1a1a" stroke-width="0.35"/><circle cx="396.78" cy="45.46" r="2" fill="#297a8e" stroke="#1a1a1a" stroke-width="0.35"/><path d="M463.21 187.02L464.26 188.77L462.17 188.77Z" fill="#33638d" stroke="#f5a623" stroke-width="0.6"/><path d="M410.37 143.42L411.9 145.99L408.84 145.99Z" fill="#75d054" stroke="#f5a623" stroke-width="0.6"/><circle cx="391.11" cy="176.71" r="0.84" fill="#efe51c" stroke="#1a1a1a" stroke-width="0.35"/><circle cx="382.2" cy="197.85" r="1.06" fill="#33638d" stroke="#1a1a1a" stroke-width="0.35"/><circle cx="489.55" cy="201.89" r="1.24" fill="#a8db34" stroke="#1a1a1a" stroke-width="0.35"/><circle cx="568.07" cy="190.13" r="0.55" fill="#1f9a8a" stroke="#1a1a1a" stroke-width="0.35"/><circle cx="400.21" cy="142.1" r="1.66" fill="#460b5e" stroke="#1a1a1a" stroke-width="0.35"/><circle cx="382.55" cy="98.08" r="1.24" fill="#482576" stroke="#1a1a1a" stroke-width="0.35"/><circle cx="571.15" cy="99.77" r="1.66" fill="#1f9a8a" stroke="#1a1a1a" stroke-width="0.35"/><path d="M379.17 206.32L380.21 208.08L378.13 208.08Z" fill="#1f9a8a" stroke="#f5a623" stroke-width="0.6"/><circle cx="396.32" cy="189.9" r="1.06" fill="#33638d" stroke="#1a1a1a" stroke-width="0.35"/><path d="M393.72 138.9L395.25 141.47L392.19 141.47Z" fill="#482576" stroke="#f5a623" stroke-width="0.6"/><circle cx="546.03" cy="89.83" r="1.89" fill="#482576" stroke="#1a1a1a" stroke-width="0.35"/><circle cx="400.44" cy="169.83" r="1.06" fill="#1f9a8a" stroke="#1a1a1a" stroke-width="0.35"/><circle cx="390.94" cy="117" r="1.06" fill="#efe51c" stroke="#1a1a1a" stroke-width="0.35"/><circle cx="563.67" cy="114.36" r="1.78" fill="#297a8e" stroke="#1a1a1a" stroke-width="0.35"/><circle cx="489.55" cy="171.32" r="1.39" fill="#a8db34" stroke="#1a1a1a" stroke-width="0.35"/><circle cx="452.27" cy="202.98" r="0.84" fill="#33638d" stroke="#1a1a1a" stroke-width="0.35"/><path d="M379.6 182.47L381.13 185.04L378.07 185.04Z" fill="#1f9a8a" stroke="#f5a623" stroke-width="0.6"/><circle cx="546.77" cy="92.87" r="1.89" fill="#482576" stroke="#1a1a1a" stroke-width="0.35"/><circle cx="388.69" cy="200.76" r="0.55" fill="#1f9a8a" stroke="#1a1a1a" stroke-width="0.35"/><circle cx="567.91" cy="206.13" r="0.55" fill="#75d054" stroke="#1a1a1a" stroke-width="0.35"/><circle cx="400.68" cy="67.08" r="1.78" fill="#460b5e" stroke="#1a1a1a" stroke-width="0.35"/><circle cx="547.64" cy="115.71" r="2" fill="#482576" stroke="#1a1a1a" stroke-width="0.35"/><path d="M464.38 84.66L466.72 88.6L462.04 88.6Z" fill="#482576" stroke="#f5a623" stroke-width="0.6"/><circle cx="420.05" cy="60.89" r="1.78" fill="#482576" stroke="#1a1a1a" stroke-width="0.35"/><circle cx="391.11" cy="143.43" r="1.24" fill="#482576" stroke="#1a1a1a" stroke-width="0.35"/><circle cx="546.88" cy="135.53" r="1.39" fill="#482576" stroke="#1a1a1a" stroke-width="0.35"/><path d="M379.46 183.17L380.5 184.92L378.42 184.92Z" fill="#1f9a8a" stroke="#f5a623" stroke-width="0.6"/><path d="M410.6 83.74L412.65 87.2L408.54 87.2Z" fill="#1f9a8a" stroke="#f5a623" stroke-width="0.6"/><path d="M385.33 89.12L387.79 93.28L382.86 93.28Z" fill="#482576" stroke="#f5a623" stroke-width="0.6"/><circle cx="563.06" cy="202.89" r="0.55" fill="#1f9a8a" stroke="#1a1a1a" stroke-width="0.35"/><circle cx="489.53" cy="105.28" r="1.89" fill="#a8db34" stroke="#1a1a1a" stroke-width="0.35"/><circle cx="400.47" cy="116.12" r="1.53" fill="#460b5e" stroke="#1a1a1a" stroke-width="0.35"/><circle cx="396.98" cy="193.27" r="1.06" fill="#297a8e" stroke="#1a1a1a" stroke-width="0.35"/><circle cx="567.25" cy="120.76" r="1.53" fill="#482576" stroke="#1a1a1a" stroke-width="0.35"/><circle cx="568.56" cy="113.73" r="1.53" fill="#1f9a8a" stroke="#1a1a1a" stroke-width="0.35"/><path d="M384.71 205.03L385.39 206.17L384.04 206.17Z" fill="#33638d" stroke="#f5a623" stroke-width="0.6"/><circle cx="546.61" cy="122.16" r="1.66" fill="#482576" stroke="#1a1a1a" stroke-width="0.35"/><path d="M385.6 43.8L388.07 47.96L383.13 47.96Z" fill="#482576" stroke="#f5a623" stroke-width="0.6"/><circle cx="489.67" cy="63" r="1.89" fill="#a8db34" stroke="#1a1a1a" stroke-width="0.35"/><circle cx="490.17" cy="88.55" r="1.78" fill="#75d054" stroke="#1a1a1a" stroke-width="0.35"/><path d="M384.84 183.55L385.89 185.3L383.8 185.3Z" fill="#482576" stroke="#f5a623" stroke-width="0.6"/><circle cx="391.28" cy="146.91" r="0.84" fill="#a8db34" stroke="#1a1a1a" stroke-width="0.35"/><circle cx="400.06" cy="210.04" r="0.55" fill="#1f9a8a" stroke="#1a1a1a" stroke-width="0.35"/><circle cx="385.1" cy="176.65" r="1.06" fill="#1f9a8a" stroke="#1a1a1a" stroke-width="0.35"/><circle cx="568.25" cy="184.07" r="1.24" fill="#1f9a8a" stroke="#1a1a1a" stroke-width="0.35"/><circle cx="547.61" cy="131.64" r="1.24" fill="#482576" stroke="#1a1a1a" stroke-width="0.35"/><circle cx="379.25" cy="181.23" r="0.84" fill="#a8db34" stroke="#1a1a1a" stroke-width="0.35"/><circle cx="379.21" cy="101.98" r="1.53" fill="#460b5e" stroke="#1a1a1a" stroke-width="0.35"/><circle cx="462.68" cy="165.27" r="1.24" fill="#1f9a8a" stroke="#1a1a1a" stroke-width="0.35"/><circle cx="420.31" cy="181.52" r="1.24" fill="#460b5e" stroke="#1a1a1a" stroke-width="0.35"/><circle cx="452.23" cy="203.03" r="0.84" fill="#297a8e" stroke="#1a1a1a" stroke-width="0.35"/><circle cx="563.34" cy="151.73" r="1.06" fill="#1f9a8a" stroke="#1a1a1a" stroke-width="0.35"/><circle cx="420.02" cy="137.45" r="1.89" fill="#482576" stroke="#1a1a1a" stroke-width="0.35"/><circle cx="405.45" cy="187.58" r="0.55" fill="#33638d" stroke="#1a1a1a" stroke-width="0.35"/><circle cx="400.39" cy="40.43" r="2" fill="#75d054" stroke="#1a1a1a" stroke-width="0.35"/><circle cx="423.66" cy="118.58" r="2" fill="#460b5e" stroke="#1a1a1a" stroke-width="0.35"/><circle cx="452.88" cy="195.18" r="0.84" fill="#297a8e" stroke="#1a1a1a" stroke-width="0.35"/><circle cx="452.54" cy="114.72" r="1.24" fill="#33638d" stroke="#1a1a1a" stroke-width="0.35"/><circle cx="567.2" cy="126.92" r="1.39" fill="#1f9a8a" stroke="#1a1a1a" stroke-width="0.35"/><circle cx="570.65" cy="193.75" r="1.39" fill="#482576" stroke="#1a1a1a" stroke-width="0.35"/><circle cx="418.83" cy="152.31" r="1.39" fill="#482576" stroke="#1a1a1a" stroke-width="0.35"/><circle cx="563.36" cy="123.28" r="1.24" fill="#1f9a8a" stroke="#1a1a1a" stroke-width="0.35"/><circle cx="382.89" cy="174.6" r="1.24" fill="#1f9a8a" stroke="#1a1a1a" stroke-width="0.35"/><circle cx="400.45" cy="203.31" r="0.55" fill="#1f9a8a" stroke="#1a1a1a" stroke-width="0.35"/><circle cx="379.34" cy="52.7" r="2" fill="#1f9a8a" stroke="#1a1a1a" stroke-width="0.35"/><circle cx="571.74" cy="199.36" r="0.55" fill="#1f9a8a" stroke="#1a1a1a" stroke-width="0.35"/><path d="M379.47 174.79L381.36 177.98L377.57 177.98Z" fill="#482576" stroke="#f5a623" stroke-width="0.6"/><circle cx="423.65" cy="159.27" r="1.53" fill="#482576" stroke="#1a1a1a" stroke-width="0.35"/><circle cx="391.04" cy="89.85" r="1.53" fill="#efe51c" stroke="#1a1a1a" stroke-width="0.35"/><circle cx="418.65" cy="78.96" r="1.89" fill="#460b5e" stroke="#1a1a1a" stroke-width="0.35"/><circle cx="388.74" cy="90.16" r="1.78" fill="#482576" stroke="#1a1a1a" stroke-width="0.35"/><circle cx="571.07" cy="188.9" r="1.06" fill="#482576" stroke="#1a1a1a" stroke-width="0.35"/><circle cx="570.71" cy="55.23" r="2" fill="#460b5e" stroke="#1a1a1a" stroke-width="0.35"/><circle cx="391.19" cy="176.23" r="1.06" fill="#cde11d" stroke="#1a1a1a" stroke-width="0.35"/><circle cx="421.94" cy="92.99" r="1.89" fill="#460b5e" stroke="#1a1a1a" stroke-width="0.35"/><circle cx="418.99" cy="151.28" r="1.24" fill="#33638d" stroke="#1a1a1a" stroke-width="0.35"/><circle cx="546.74" cy="84.69" r="1.78" fill="#482576" stroke="#1a1a1a" stroke-width="0.35"/><circle cx="399.99" cy="205.39" r="1.06" fill="#482576" stroke="#1a1a1a" stroke-width="0.35"/><circle cx="489.49" cy="134.53" r="1.78" fill="#75d054" stroke="#1a1a1a" stroke-width="0.35"/><circle cx="567.27" cy="194.09" r="1.24" fill="#1f9a8a" stroke="#1a1a1a" stroke-width="0.35"/><circle cx="568.06" cy="136.95" r="1.24" fill="#1f9a8a" stroke="#1a1a1a" stroke-width="0.35"/><circle cx="567.53" cy="90.12" r="1.78" fill="#297a8e" stroke="#1a1a1a" stroke-width="0.35"/><circle cx="380.2" cy="181.9" r="0.84" fill="#482576" stroke="#1a1a1a" stroke-width="0.35"/><circle cx="382.13" cy="198.09" r="0.84" fill="#482576" stroke="#1a1a1a" stroke-width="0.35"/><path d="M394.02 185.2L395.33 187.4L392.71 187.4Z" fill="#482576" stroke="#f5a623" stroke-width="0.6"/><circle cx="382.1" cy="146.55" r="1.24" fill="#482576" stroke="#1a1a1a" stroke-width="0.35"/><circle cx="391.25" cy="197.01" r="0.84" fill="#a8db34" stroke="#1a1a1a" stroke-width="0.35"/><circle cx="489.63" cy="76.11" r="2" fill="#a8db34" stroke="#1a1a1a" stroke-width="0.35"/><circle cx="489.97" cy="115.75" r="1.78" fill="#a8db34" stroke="#1a1a1a" stroke-width="0.35"/><circle cx="400.44" cy="184.98" r="1.06" fill="#460b5e" stroke="#1a1a1a" stroke-width="0.35"/><circle cx="400" cy="172.49" r="1.39" fill="#460b5e" stroke="#1a1a1a" stroke-width="0.35"/><path d="M411.27 41.85L413.74 46.01L408.8 46.01Z" fill="#1f9a8a" stroke="#f5a623" stroke-width="0.6"/><circle cx="563.59" cy="175.6" r="0.84" fill="#1f9a8a" stroke="#1a1a1a" stroke-width="0.35"/><circle cx="489.94" cy="118.37" r="1.78" fill="#cde11d" stroke="#1a1a1a" stroke-width="0.35"/><circle cx="547.38" cy="196.89" r="0.84" fill="#33638d" stroke="#1a1a1a" stroke-width="0.35"/><path d="M379.34 175.04L381.06 177.94L377.62 177.94Z" fill="#482576" stroke="#f5a623" stroke-width="0.6"/><circle cx="546.06" cy="151.3" r="1.24" fill="#482576" stroke="#1a1a1a" stroke-width="0.35"/><path d="M393.45 185.97L394.12 187.11L392.77 187.11Z" fill="#482576" stroke="#f5a623" stroke-width="0.6"/><circle cx="400.4" cy="155.46" r="1.53" fill="#460b5e" stroke="#1a1a1a" stroke-width="0.35"/><circle cx="548.39" cy="83.57" r="2" fill="#33638d" stroke="#1a1a1a" stroke-width="0.35"/><circle cx="379.72" cy="189.86" r="0.84" fill="#460b5e" stroke="#1a1a1a" stroke-width="0.35"/><circle cx="391.09" cy="61.92" r="1.89" fill="#efe51c" stroke="#1a1a1a" stroke-width="0.35"/><circle cx="396.63" cy="78.96" r="1.66" fill="#33638d" stroke="#1a1a1a" stroke-width="0.35"/><circle cx="388.38" cy="199.02" r="0.55" fill="#460b5e" stroke="#1a1a1a" stroke-width="0.35"/><circle cx="568.03" cy="199.95" r="0.55" fill="#75d054" stroke="#1a1a1a" stroke-width="0.35"/><circle cx="396.47" cy="91.27" r="1.53" fill="#297a8e" stroke="#1a1a1a" stroke-width="0.35"/><circle cx="382.03" cy="137.87" r="1.39" fill="#460b5e" stroke="#1a1a1a" stroke-width="0.35"/><circle cx="400.48" cy="163.31" r="1.53" fill="#460b5e" stroke="#1a1a1a" stroke-width="0.35"/><circle cx="570.96" cy="187.02" r="0.84" fill="#482576" stroke="#1a1a1a" stroke-width="0.35"/><circle cx="388.25" cy="70.85" r="1.78" fill="#482576" stroke="#1a1a1a" stroke-width="0.35"/><path d="M464.8 128.36L466.11 130.56L463.49 130.56Z" fill="#482576" stroke="#f5a623" stroke-width="0.6"/><circle cx="400.62" cy="204.94" r="0.84" fill="#460b5e" stroke="#1a1a1a" stroke-width="0.35"/><path d="M410.87 198.57L412.18 200.78L409.56 200.78Z" fill="#1f9a8a" stroke="#f5a623" stroke-width="0.6"/><circle cx="571.4" cy="92.49" r="1.66" fill="#460b5e" stroke="#1a1a1a" stroke-width="0.35"/><circle cx="489.85" cy="198.69" r="0.84" fill="#a8db34" stroke="#1a1a1a" stroke-width="0.35"/><path d="M385.13 186.19L386.44 188.39L383.82 188.39Z" fill="#1f9a8a" stroke="#f5a623" stroke-width="0.6"/><path d="M464.42 144.1L466.14 147L462.7 147Z" fill="#1f9a8a" stroke="#f5a623" stroke-width="0.6"/><path d="M393.57 111.04L395.63 114.5L391.52 114.5Z" fill="#482576" stroke="#f5a623" stroke-width="0.6"/><circle cx="490" cy="152.83" r="1.53" fill="#a8db34" stroke="#1a1a1a" stroke-width="0.35"/><circle cx="391.19" cy="182.96" r="1.06" fill="#cde11d" stroke="#1a1a1a" stroke-width="0.35"/><path d="M379.9 97.65L381.79 100.85L378 100.85Z" fill="#482576" stroke="#f5a623" stroke-width="0.6"/><circle cx="564.12" cy="133.31" r="1.66" fill="#297a8e" stroke="#1a1a1a" stroke-width="0.35"/><circle cx="400.38" cy="155.23" r="1.39" fill="#75d054" stroke="#1a1a1a" stroke-width="0.35"/><circle cx="405.92" cy="130.85" r="0.55" fill="#33638d" stroke="#1a1a1a" stroke-width="0.35"/><path d="M411.1 147.01L412.82 149.91L409.37 149.91Z" fill="#1f9a8a" stroke="#f5a623" stroke-width="0.6"/><circle cx="379.62" cy="201.79" r="0.84" fill="#1f9a8a" stroke="#1a1a1a" stroke-width="0.35"/><circle cx="452.77" cy="200.29" r="0.55" fill="#297a8e" stroke="#1a1a1a" stroke-width="0.35"/><circle cx="391.05" cy="50.68" r="1.78" fill="#a8db34" stroke="#1a1a1a" stroke-width="0.35"/><circle cx="400.29" cy="48.23" r="1.78" fill="#482576" stroke="#1a1a1a" stroke-width="0.35"/><path d="M464.76 199.23L465.8 200.98L463.72 200.98Z" fill="#1f9a8a" stroke="#f5a623" stroke-width="0.6"/><circle cx="490.35" cy="204.94" r="1.06" fill="#75d054" stroke="#1a1a1a" stroke-width="0.35"/><circle cx="391.28" cy="107.84" r="1.39" fill="#cde11d" stroke="#1a1a1a" stroke-width="0.35"/><circle cx="388.82" cy="171.59" r="1.06" fill="#460b5e" stroke="#1a1a1a" stroke-width="0.35"/><circle cx="546.95" cy="194.53" r="0.55" fill="#482576" stroke="#1a1a1a" stroke-width="0.35"/><circle cx="382.32" cy="70.84" r="1.78" fill="#460b5e" stroke="#1a1a1a" stroke-width="0.35"/><path d="M410.34 35.3L412.81 39.46L407.87 39.46Z" fill="#1f9a8a" stroke="#f5a623" stroke-width="0.6"/><circle cx="379.58" cy="203.98" r="0.55" fill="#1f9a8a" stroke="#1a1a1a" stroke-width="0.35"/><circle cx="564.01" cy="59.02" r="2" fill="#297a8e" stroke="#1a1a1a" stroke-width="0.35"/><circle cx="379.95" cy="61.25" r="2" fill="#1f9a8a" stroke="#1a1a1a" stroke-width="0.35"/><circle cx="563.06" cy="77.53" r="1.66" fill="#1f9a8a" stroke="#1a1a1a" stroke-width="0.35"/><circle cx="452.44" cy="194.97" r="1.24" fill="#33638d" stroke="#1a1a1a" stroke-width="0.35"/><circle cx="382.89" cy="64.25" r="2" fill="#482576" stroke="#1a1a1a" stroke-width="0.35"/><circle cx="421.88" cy="84.82" r="2" fill="#460b5e" stroke="#1a1a1a" stroke-width="0.35"/><circle cx="571.16" cy="87.85" r="1.78" fill="#1f9a8a" stroke="#1a1a1a" stroke-width="0.35"/><circle cx="393.74" cy="146.65" r="1.53" fill="#33638d" stroke="#1a1a1a" stroke-width="0.35"/><circle cx="379.58" cy="183.24" r="0.84" fill="#460b5e" stroke="#1a1a1a" stroke-width="0.35"/><circle cx="379.66" cy="178.91" r="0.84" fill="#460b5e" stroke="#1a1a1a" stroke-width="0.35"/><circle cx="393.11" cy="157.62" r="1.24" fill="#1f9a8a" stroke="#1a1a1a" stroke-width="0.35"/><circle cx="564.17" cy="183.13" r="0.84" fill="#1f9a8a" stroke="#1a1a1a" stroke-width="0.35"/><path d="M393.75 186.19L395.06 188.39L392.44 188.39Z" fill="#482576" stroke="#f5a623" stroke-width="0.6"/><circle cx="380.25" cy="195.53" r="0.84" fill="#cde11d" stroke="#1a1a1a" stroke-width="0.35"/><circle cx="490.26" cy="183.9" r="1.06" fill="#3dbc74" stroke="#1a1a1a" stroke-width="0.35"/><circle cx="432.86" cy="138.05" r="1.24" fill="#1f9a8a" stroke="#1a1a1a" stroke-width="0.35"/><circle cx="546.6" cy="158.35" r="1.39" fill="#482576" stroke="#1a1a1a" stroke-width="0.35"/><circle cx="418.6" cy="176.79" r="1.24" fill="#460b5e" stroke="#1a1a1a" stroke-width="0.35"/><circle cx="568.44" cy="99.15" r="1.78" fill="#482576" stroke="#1a1a1a" stroke-width="0.35"/><circle cx="432.43" cy="201.03" r="0.84" fill="#1f9a8a" stroke="#1a1a1a" stroke-width="0.35"/><circle cx="400.12" cy="176.1" r="1.06" fill="#1f9a8a" stroke="#1a1a1a" stroke-width="0.35"/><path d="M464.63 189.64L465.94 191.84L463.32 191.84Z" fill="#482576" stroke="#f5a623" stroke-width="0.6"/><circle cx="396.39" cy="109.44" r="1.06" fill="#33638d" stroke="#1a1a1a" stroke-width="0.35"/><path d="M393.96 123.03L396.01 126.48L391.9 126.48Z" fill="#482576" stroke="#f5a623" stroke-width="0.6"/><circle cx="452.82" cy="84.42" r="1.89" fill="#297a8e" stroke="#1a1a1a" stroke-width="0.35"/><circle cx="490.56" cy="184.97" r="1.39" fill="#a8db34" stroke="#1a1a1a" stroke-width="0.35"/><circle cx="379.72" cy="74.85" r="1.53" fill="#460b5e" stroke="#1a1a1a" stroke-width="0.35"/><circle cx="400.62" cy="194.11" r="0.84" fill="#460b5e" stroke="#1a1a1a" stroke-width="0.35"/><circle cx="423.67" cy="142.84" r="1.78" fill="#460b5e" stroke="#1a1a1a" stroke-width="0.35"/><circle cx="546.72" cy="143.55" r="1.39" fill="#482576" stroke="#1a1a1a" stroke-width="0.35"/><circle cx="571.48" cy="61.28" r="1.89" fill="#482576" stroke="#1a1a1a" stroke-width="0.35"/><circle cx="400.34" cy="49.12" r="1.66" fill="#1f9a8a" stroke="#1a1a1a" stroke-width="0.35"/><circle cx="547.78" cy="114.1" r="1.89" fill="#482576" stroke="#1a1a1a" stroke-width="0.35"/><circle cx="571.76" cy="133.89" r="1.39" fill="#482576" stroke="#1a1a1a" stroke-width="0.35"/><path d="M380.57 181.61L381.88 183.82L379.26 183.82Z" fill="#482576" stroke="#f5a623" stroke-width="0.6"/><circle cx="379.2" cy="207.51" r="0.55" fill="#cde11d" stroke="#1a1a1a" stroke-width="0.35"/><circle cx="571.58" cy="206.53" r="0.84" fill="#1f9a8a" stroke="#1a1a1a" stroke-width="0.35"/><circle cx="388.22" cy="63.26" r="1.78" fill="#1f9a8a" stroke="#1a1a1a" stroke-width="0.35"/><circle cx="421.41" cy="134.53" r="1.39" fill="#482576" stroke="#1a1a1a" stroke-width="0.35"/><path d="M393.44 43.43L395.91 47.59L390.97 47.59Z" fill="#482576" stroke="#f5a623" stroke-width="0.6"/><circle cx="388.36" cy="189.63" r="1.06" fill="#1f9a8a" stroke="#1a1a1a" stroke-width="0.35"/><circle cx="422.48" cy="177.72" r="1.89" fill="#482576" stroke="#1a1a1a" stroke-width="0.35"/><circle cx="567.89" cy="200.87" r="0.84" fill="#482576" stroke="#1a1a1a" stroke-width="0.35"/><circle cx="382.31" cy="190.47" r="1.24" fill="#1f9a8a" stroke="#1a1a1a" stroke-width="0.35"/><circle cx="547.82" cy="83.1" r="1.66" fill="#482576" stroke="#1a1a1a" stroke-width="0.35"/><circle cx="420.33" cy="83.59" r="1.89" fill="#482576" stroke="#1a1a1a" stroke-width="0.35"/><circle cx="421.18" cy="146.01" r="1.89" fill="#460b5e" stroke="#1a1a1a" stroke-width="0.35"/><circle cx="400.44" cy="185.1" r="1.39" fill="#1f9a8a" stroke="#1a1a1a" stroke-width="0.35"/><circle cx="563.15" cy="155.24" r="1.39" fill="#1f9a8a" stroke="#1a1a1a" stroke-width="0.35"/><circle cx="388.01" cy="123.34" r="1.53" fill="#33638d" stroke="#1a1a1a" stroke-width="0.35"/><circle cx="388.11" cy="173.32" r="1.06" fill="#1f9a8a" stroke="#1a1a1a" stroke-width="0.35"/><circle cx="490.51" cy="147.68" r="1.24" fill="#a8db34" stroke="#1a1a1a" stroke-width="0.35"/><path d="M379.34 68.6L381.54 72.3L377.13 72.3Z" fill="#482576" stroke="#f5a623" stroke-width="0.6"/><circle cx="421.15" cy="63.99" r="1.66" fill="#482576" stroke="#1a1a1a" stroke-width="0.35"/><circle cx="419.51" cy="69.27" r="2" fill="#482576" stroke="#1a1a1a" stroke-width="0.35"/><circle cx="418.96" cy="196.71" r="1.24" fill="#460b5e" stroke="#1a1a1a" stroke-width="0.35"/><circle cx="568.7" cy="109.73" r="1.66" fill="#482576" stroke="#1a1a1a" stroke-width="0.35"/><path d="M393.83 203.79L394.51 204.93L393.16 204.93Z" fill="#1f9a8a" stroke="#f5a623" stroke-width="0.6"/><circle cx="391.13" cy="43.51" r="2" fill="#a8db34" stroke="#1a1a1a" stroke-width="0.35"/><circle cx="388.27" cy="194.58" r="0.55" fill="#460b5e" stroke="#1a1a1a" stroke-width="0.35"/><circle cx="489.8" cy="196.87" r="1.06" fill="#75d054" stroke="#1a1a1a" stroke-width="0.35"/><circle cx="564.01" cy="150.38" r="1.24" fill="#33638d" stroke="#1a1a1a" stroke-width="0.35"/><circle cx="388.65" cy="59.41" r="1.89" fill="#482576" stroke="#1a1a1a" stroke-width="0.35"/><circle cx="421.93" cy="67.82" r="1.78" fill="#33638d" stroke="#1a1a1a" stroke-width="0.35"/><circle cx="489.59" cy="188.94" r="0.84" fill="#cde11d" stroke="#1a1a1a" stroke-width="0.35"/><circle cx="396.93" cy="88.49" r="1.66" fill="#33638d" stroke="#1a1a1a" stroke-width="0.35"/><circle cx="489.6" cy="94.01" r="1.89" fill="#a8db34" stroke="#1a1a1a" stroke-width="0.35"/><path d="M393.58 205.91L394.26 207.05L392.91 207.05Z" fill="#1f9a8a" stroke="#f5a623" stroke-width="0.6"/><circle cx="380.12" cy="94.36" r="0.84" fill="#33638d" stroke="#1a1a1a" stroke-width="0.35"/><path d="M380.45 191.66L381.76 193.87L379.14 193.87Z" fill="#482576" stroke="#f5a623" stroke-width="0.6"/><path d="M411.17 194.92L411.85 196.06L410.49 196.06Z" fill="#33638d" stroke="#f5a623" stroke-width="0.6"/><circle cx="400.63" cy="109.16" r="1.39" fill="#1f9a8a" stroke="#1a1a1a" stroke-width="0.35"/><circle cx="547.06" cy="186.63" r="0.55" fill="#482576" stroke="#1a1a1a" stroke-width="0.35"/><circle cx="567.5" cy="83.88" r="1.78" fill="#1f9a8a" stroke="#1a1a1a" stroke-width="0.35"/><circle cx="564.06" cy="173.32" r="1.06" fill="#1f9a8a" stroke="#1a1a1a" stroke-width="0.35"/><circle cx="419.2" cy="73.96" r="1.89" fill="#33638d" stroke="#1a1a1a" stroke-width="0.35"/><circle cx="423.96" cy="132.72" r="1.39" fill="#482576" stroke="#1a1a1a" stroke-width="0.35"/><circle cx="396.59" cy="68.53" r="1.78" fill="#33638d" stroke="#1a1a1a" stroke-width="0.35"/><circle cx="391.47" cy="191.49" r="0.84" fill="#460b5e" stroke="#1a1a1a" stroke-width="0.35"/><circle cx="382.62" cy="192.4" r="0.55" fill="#1f9a8a" stroke="#1a1a1a" stroke-width="0.35"/><circle cx="379.47" cy="106.22" r="1.24" fill="#33638d" stroke="#1a1a1a" stroke-width="0.35"/><circle cx="379.93" cy="105.04" r="1.66" fill="#482576" stroke="#1a1a1a" stroke-width="0.35"/><circle cx="422.67" cy="86.39" r="1.89" fill="#460b5e" stroke="#1a1a1a" stroke-width="0.35"/><circle cx="547.05" cy="195.49" r="0.55" fill="#33638d" stroke="#1a1a1a" stroke-width="0.35"/><path d="M379.72 65.56L382.19 69.72L377.25 69.72Z" fill="#482576" stroke="#f5a623" stroke-width="0.6"/><circle cx="391.38" cy="192.33" r="0.55" fill="#482576" stroke="#1a1a1a" stroke-width="0.35"/><path d="M410.51 58.06L412.85 62L408.17 62Z" fill="#75d054" stroke="#f5a623" stroke-width="0.6"/><path d="M393.79 101.69L395.85 105.15L391.74 105.15Z" fill="#1f9a8a" stroke="#f5a623" stroke-width="0.6"/><circle cx="423.67" cy="103.35" r="1.78" fill="#460b5e" stroke="#1a1a1a" stroke-width="0.35"/><circle cx="419.41" cy="114.91" r="1.39" fill="#482576" stroke="#1a1a1a" stroke-width="0.35"/><circle cx="547" cy="91.74" r="1.53" fill="#33638d" stroke="#1a1a1a" stroke-width="0.35"/><circle cx="567.51" cy="101.57" r="1.66" fill="#482576" stroke="#1a1a1a" stroke-width="0.35"/><path d="M410.44 157.94L411.12 159.08L409.76 159.08Z" fill="#482576" stroke="#f5a623" stroke-width="0.6"/><circle cx="379.44" cy="176.78" r="0.55" fill="#482576" stroke="#1a1a1a" stroke-width="0.35"/><circle cx="490.5" cy="57.43" r="1.78" fill="#75d054" stroke="#1a1a1a" stroke-width="0.35"/><circle cx="452.7" cy="71.02" r="1.66" fill="#33638d" stroke="#1a1a1a" stroke-width="0.35"/><circle cx="400.14" cy="197.77" r="0.84" fill="#75d054" stroke="#1a1a1a" stroke-width="0.35"/><circle cx="567.33" cy="170.51" r="1.39" fill="#297a8e" stroke="#1a1a1a" stroke-width="0.35"/><circle cx="419.03" cy="172.63" r="1.89" fill="#460b5e" stroke="#1a1a1a" stroke-width="0.35"/><circle cx="567.93" cy="150.73" r="1.24" fill="#1f9a8a" stroke="#1a1a1a" stroke-width="0.35"/><path d="M393.33 97.26L395.39 100.72L391.28 100.72Z" fill="#482576" stroke="#f5a623" stroke-width="0.6"/><circle cx="547.94" cy="125.94" r="1.66" fill="#482576" stroke="#1a1a1a" stroke-width="0.35"/><circle cx="563.72" cy="68.08" r="1.78" fill="#33638d" stroke="#1a1a1a" stroke-width="0.35"/><circle cx="379.78" cy="150.81" r="1.39" fill="#482576" stroke="#1a1a1a" stroke-width="0.35"/><circle cx="391.16" cy="82.13" r="1.39" fill="#cde11d" stroke="#1a1a1a" stroke-width="0.35"/><circle cx="391.64" cy="177.87" r="1.24" fill="#460b5e" stroke="#1a1a1a" stroke-width="0.35"/><circle cx="380.12" cy="123.73" r="1.53" fill="#460b5e" stroke="#1a1a1a" stroke-width="0.35"/><circle cx="452.53" cy="110.39" r="1.24" fill="#297a8e" stroke="#1a1a1a" stroke-width="0.35"/><circle cx="396.42" cy="126.57" r="1.06" fill="#33638d" stroke="#1a1a1a" stroke-width="0.35"/><circle cx="388.01" cy="96.8" r="1.78" fill="#482576" stroke="#1a1a1a" stroke-width="0.35"/><path d="M463.3 168.9L463.98 170.04L462.62 170.04Z" fill="#482576" stroke="#f5a623" stroke-width="0.6"/><circle cx="563.77" cy="166.1" r="1.06" fill="#297a8e" stroke="#1a1a1a" stroke-width="0.35"/><circle cx="388.07" cy="205.36" r="0.84" fill="#1f9a8a" stroke="#1a1a1a" stroke-width="0.35"/><circle cx="547.85" cy="106.74" r="1.89" fill="#482576" stroke="#1a1a1a" stroke-width="0.35"/><path d="M410.55 39.82L413.02 43.98L408.08 43.98Z" fill="#33638d" stroke="#f5a623" stroke-width="0.6"/><circle cx="563.45" cy="202.15" r="0.55" fill="#33638d" stroke="#1a1a1a" stroke-width="0.35"/><circle cx="489.72" cy="205.03" r="1.06" fill="#cde11d" stroke="#1a1a1a" stroke-width="0.35"/><circle cx="452.88" cy="175.32" r="0.55" fill="#297a8e" stroke="#1a1a1a" stroke-width="0.35"/><circle cx="548.16" cy="110.65" r="2" fill="#33638d" stroke="#1a1a1a" stroke-width="0.35"/><circle cx="548.19" cy="153.85" r="1.24" fill="#482576" stroke="#1a1a1a" stroke-width="0.35"/><circle cx="490.11" cy="173.96" r="1.66" fill="#75d054" stroke="#1a1a1a" stroke-width="0.35"/><circle cx="570.59" cy="99.24" r="1.66" fill="#1f9a8a" stroke="#1a1a1a" stroke-width="0.35"/><circle cx="419.22" cy="141.45" r="1.78" fill="#460b5e" stroke="#1a1a1a" stroke-width="0.35"/><circle cx="428.35" cy="186.7" r="1.06" fill="#482576" stroke="#1a1a1a" stroke-width="0.35"/><circle cx="379.14" cy="204.36" r="1.06" fill="#460b5e" stroke="#1a1a1a" stroke-width="0.35"/><circle cx="562.95" cy="71.8" r="1.89" fill="#1f9a8a" stroke="#1a1a1a" stroke-width="0.35"/><circle cx="563.71" cy="190.05" r="0.84" fill="#33638d" stroke="#1a1a1a" stroke-width="0.35"/><circle cx="381.93" cy="186.63" r="0.55" fill="#33638d" stroke="#1a1a1a" stroke-width="0.35"/><circle cx="400" cy="188.17" r="1.06" fill="#482576" stroke="#1a1a1a" stroke-width="0.35"/><circle cx="423.17" cy="171.51" r="0.84" fill="#460b5e" stroke="#1a1a1a" stroke-width="0.35"/><path d="M385.51 91.77L387.41 94.96L383.62 94.96Z" fill="#482576" stroke="#f5a623" stroke-width="0.6"/><circle cx="388.43" cy="206.28" r="0.84" fill="#460b5e" stroke="#1a1a1a" stroke-width="0.35"/><circle cx="570.8" cy="84.45" r="1.66" fill="#482576" stroke="#1a1a1a" stroke-width="0.35"/><path d="M385.53 185.62L386.58 187.37L384.49 187.37Z" fill="#482576" stroke="#f5a623" stroke-width="0.6"/><circle cx="490.04" cy="195.55" r="1.06" fill="#a8db34" stroke="#1a1a1a" stroke-width="0.35"/><circle cx="422.16" cy="192.14" r="1.24" fill="#33638d" stroke="#1a1a1a" stroke-width="0.35"/><circle cx="422.38" cy="145.5" r="1.78" fill="#460b5e" stroke="#1a1a1a" stroke-width="0.35"/><circle cx="428.05" cy="73.13" r="1.78" fill="#460b5e" stroke="#1a1a1a" stroke-width="0.35"/><circle cx="419.61" cy="128.71" r="1.66" fill="#482576" stroke="#1a1a1a" stroke-width="0.35"/><circle cx="391.11" cy="190.71" r="0.84" fill="#efe51c" stroke="#1a1a1a" stroke-width="0.35"/><circle cx="428.06" cy="130.29" r="1.66" fill="#482576" stroke="#1a1a1a" stroke-width="0.35"/><circle cx="382.07" cy="131.99" r="1.39" fill="#1f9a8a" stroke="#1a1a1a" stroke-width="0.35"/><circle cx="387.92" cy="80.7" r="1.89" fill="#460b5e" stroke="#1a1a1a" stroke-width="0.35"/><circle cx="422.35" cy="63.19" r="1.66" fill="#460b5e" stroke="#1a1a1a" stroke-width="0.35"/><circle cx="452.17" cy="206.11" r="0.55" fill="#33638d" stroke="#1a1a1a" stroke-width="0.35"/><circle cx="571.52" cy="149.31" r="1.53" fill="#482576" stroke="#1a1a1a" stroke-width="0.35"/><circle cx="387.99" cy="50.74" r="2" fill="#482576" stroke="#1a1a1a" stroke-width="0.35"/><circle cx="380.09" cy="205.8" r="0.55" fill="#1f9a8a" stroke="#1a1a1a" stroke-width="0.35"/><circle cx="382.69" cy="148.98" r="0.84" fill="#33638d" stroke="#1a1a1a" stroke-width="0.35"/><circle cx="400.23" cy="196.42" r="1.06" fill="#75d054" stroke="#1a1a1a" stroke-width="0.35"/><circle cx="547.43" cy="189.5" r="0.55" fill="#482576" stroke="#1a1a1a" stroke-width="0.35"/><circle cx="563.03" cy="181.43" r="1.06" fill="#1f9a8a" stroke="#1a1a1a" stroke-width="0.35"/><circle cx="563.71" cy="91.53" r="1.89" fill="#1f9a8a" stroke="#1a1a1a" stroke-width="0.35"/><path d="M464.32 138.1L466.22 141.29L462.43 141.29Z" fill="#1f9a8a" stroke="#f5a623" stroke-width="0.6"/><path d="M411.04 192.96L411.72 194.1L410.37 194.1Z" fill="#33638d" stroke="#f5a623" stroke-width="0.6"/><circle cx="382.1" cy="184.42" r="1.06" fill="#1f9a8a" stroke="#1a1a1a" stroke-width="0.35"/><circle cx="428.31" cy="176.46" r="1.24" fill="#460b5e" stroke="#1a1a1a" stroke-width="0.35"/><path d="M410.77 133.24L412.29 135.81L409.24 135.81Z" fill="#482576" stroke="#f5a623" stroke-width="0.6"/><circle cx="388.01" cy="130.48" r="1.53" fill="#33638d" stroke="#1a1a1a" stroke-width="0.35"/><circle cx="570.7" cy="185.44" r="1.24" fill="#482576" stroke="#1a1a1a" stroke-width="0.35"/><path d="M410.92 85.17L413.12 88.88L408.72 88.88Z" fill="#75d054" stroke="#f5a623" stroke-width="0.6"/><circle cx="380.39" cy="179.25" r="1.39" fill="#cde11d" stroke="#1a1a1a" stroke-width="0.35"/><circle cx="489.45" cy="137.87" r="1.78" fill="#a8db34" stroke="#1a1a1a" stroke-width="0.35"/><circle cx="423.74" cy="143.95" r="1.78" fill="#482576" stroke="#1a1a1a" stroke-width="0.35"/><path d="M393.99 59.05L396.46 63.21L391.52 63.21Z" fill="#482576" stroke="#f5a623" stroke-width="0.6"/><circle cx="546.77" cy="178.97" r="0.84" fill="#482576" stroke="#1a1a1a" stroke-width="0.35"/><circle cx="462.77" cy="77.53" r="1.53" fill="#1f9a8a" stroke="#1a1a1a" stroke-width="0.35"/><circle cx="418.63" cy="96.49" r="1.66" fill="#482576" stroke="#1a1a1a" stroke-width="0.35"/><circle cx="400.29" cy="152.21" r="1.39" fill="#1f9a8a" stroke="#1a1a1a" stroke-width="0.35"/><circle cx="400.04" cy="72.8" r="2" fill="#460b5e" stroke="#1a1a1a" stroke-width="0.35"/><circle cx="432.14" cy="196.75" r="0.84" fill="#1f9a8a" stroke="#1a1a1a" stroke-width="0.35"/><circle cx="563.07" cy="120.46" r="1.66" fill="#297a8e" stroke="#1a1a1a" stroke-width="0.35"/><circle cx="396.39" cy="110.2" r="0.55" fill="#297a8e" stroke="#1a1a1a" stroke-width="0.35"/><path d="M379.23 46.13L381.7 50.29L376.76 50.29Z" fill="#482576" stroke="#f5a623" stroke-width="0.6"/><circle cx="567.24" cy="123.79" r="1.39" fill="#297a8e" stroke="#1a1a1a" stroke-width="0.35"/><circle cx="391.33" cy="201.73" r="0.55" fill="#460b5e" stroke="#1a1a1a" stroke-width="0.35"/><circle cx="571.72" cy="206.82" r="0.55" fill="#460b5e" stroke="#1a1a1a" stroke-width="0.35"/><circle cx="420.8" cy="81.43" r="1.89" fill="#33638d" stroke="#1a1a1a" stroke-width="0.35"/><circle cx="571.37" cy="108.01" r="1.66" fill="#1f9a8a" stroke="#1a1a1a" stroke-width="0.35"/><circle cx="489.63" cy="85.11" r="2" fill="#a8db34" stroke="#1a1a1a" stroke-width="0.35"/><circle cx="396.48" cy="121.83" r="0.84" fill="#33638d" stroke="#1a1a1a" stroke-width="0.35"/><circle cx="452.45" cy="59.18" r="2" fill="#297a8e" stroke="#1a1a1a" stroke-width="0.35"/><circle cx="388.67" cy="183.79" r="1.06" fill="#482576" stroke="#1a1a1a" stroke-width="0.35"/><path d="M464.13 87.36L466.47 91.3L461.79 91.3Z" fill="#1f9a8a" stroke="#f5a623" stroke-width="0.6"/><circle cx="490.32" cy="145.23" r="1.89" fill="#a8db34" stroke="#1a1a1a" stroke-width="0.35"/><circle cx="400.04" cy="90.22" r="1.89" fill="#482576" stroke="#1a1a1a" stroke-width="0.35"/><circle cx="380.25" cy="159.63" r="1.24" fill="#482576" stroke="#1a1a1a" stroke-width="0.35"/><circle cx="571.63" cy="136.31" r="1.06" fill="#482576" stroke="#1a1a1a" stroke-width="0.35"/><circle cx="563.11" cy="138.83" r="1.24" fill="#1f9a8a" stroke="#1a1a1a" stroke-width="0.35"/><path d="M384.7 80.08L387.17 84.24L382.23 84.24Z" fill="#482576" stroke="#f5a623" stroke-width="0.6"/><circle cx="490.07" cy="194.89" r="0.84" fill="#3dbc74" stroke="#1a1a1a" stroke-width="0.35"/><circle cx="571.71" cy="130.12" r="1.39" fill="#482576" stroke="#1a1a1a" stroke-width="0.35"/><circle cx="388.47" cy="37.71" r="1.89" fill="#1f9a8a" stroke="#1a1a1a" stroke-width="0.35"/><circle cx="567.82" cy="175.7" r="1.39" fill="#1f9a8a" stroke="#1a1a1a" stroke-width="0.35"/><circle cx="380.23" cy="172.4" r="1.24" fill="#a8db34" stroke="#1a1a1a" stroke-width="0.35"/><circle cx="388.37" cy="171.28" r="0.84" fill="#482576" stroke="#1a1a1a" stroke-width="0.35"/><path d="M385.47 132.82L387.19 135.72L383.74 135.72Z" fill="#1f9a8a" stroke="#f5a623" stroke-width="0.6"/><circle cx="490.49" cy="70.3" r="2" fill="#a8db34" stroke="#1a1a1a" stroke-width="0.35"/><path d="M463.78 122.63L465.5 125.53L462.05 125.53Z" fill="#33638d" stroke="#f5a623" stroke-width="0.6"/><circle cx="490.42" cy="67.38" r="2" fill="#a8db34" stroke="#1a1a1a" stroke-width="0.35"/><circle cx="546.37" cy="115.09" r="1.89" fill="#482576" stroke="#1a1a1a" stroke-width="0.35"/><circle cx="546.52" cy="81.96" r="1.89" fill="#482576" stroke="#1a1a1a" stroke-width="0.35"/><circle cx="400.18" cy="55.28" r="1.89" fill="#1f9a8a" stroke="#1a1a1a" stroke-width="0.35"/><circle cx="489.57" cy="72.02" r="2" fill="#75d054" stroke="#1a1a1a" stroke-width="0.35"/><circle cx="452.34" cy="94.06" r="1.53" fill="#297a8e" stroke="#1a1a1a" stroke-width="0.35"/><circle cx="388.07" cy="87.76" r="1.78" fill="#33638d" stroke="#1a1a1a" stroke-width="0.35"/><circle cx="400" cy="175.5" r="0.84" fill="#1f9a8a" stroke="#1a1a1a" stroke-width="0.35"/><circle cx="382.57" cy="195.63" r="0.84" fill="#482576" stroke="#1a1a1a" stroke-width="0.35"/><circle cx="568.26" cy="96.7" r="1.53" fill="#1f9a8a" stroke="#1a1a1a" stroke-width="0.35"/><circle cx="396.29" cy="35.94" r="2" fill="#33638d" stroke="#1a1a1a" stroke-width="0.35"/><circle cx="396.69" cy="82.58" r="1.66" fill="#33638d" stroke="#1a1a1a" stroke-width="0.35"/><circle cx="385.14" cy="103.47" r="1.78" fill="#1f9a8a" stroke="#1a1a1a" stroke-width="0.35"/><path d="M385.52 86.18L387.86 90.12L383.18 90.12Z" fill="#482576" stroke="#f5a623" stroke-width="0.6"/><circle cx="388.6" cy="163.34" r="1.24" fill="#482576" stroke="#1a1a1a" stroke-width="0.35"/><circle cx="379.96" cy="124.98" r="1.66" fill="#482576" stroke="#1a1a1a" stroke-width="0.35"/><circle cx="563.03" cy="165.54" r="1.39" fill="#33638d" stroke="#1a1a1a" stroke-width="0.35"/><circle cx="490.23" cy="66.58" r="2" fill="#a8db34" stroke="#1a1a1a" stroke-width="0.35"/><path d="M463.43 185.2L464.47 186.95L462.39 186.95Z" fill="#1f9a8a" stroke="#f5a623" stroke-width="0.6"/><circle cx="382.22" cy="106.23" r="1.53" fill="#33638d" stroke="#1a1a1a" stroke-width="0.35"/><circle cx="568.18" cy="197.03" r="0.55" fill="#1f9a8a" stroke="#1a1a1a" stroke-width="0.35"/><circle cx="563.45" cy="93.46" r="1.66" fill="#1f9a8a" stroke="#1a1a1a" stroke-width="0.35"/><circle cx="568.58" cy="182.76" r="1.24" fill="#482576" stroke="#1a1a1a" stroke-width="0.35"/><circle cx="423.22" cy="194.03" r="1.53" fill="#460b5e" stroke="#1a1a1a" stroke-width="0.35"/><circle cx="428.42" cy="134.7" r="1.66" fill="#460b5e" stroke="#1a1a1a" stroke-width="0.35"/><circle cx="568.59" cy="111.89" r="1.53" fill="#1f9a8a" stroke="#1a1a1a" stroke-width="0.35"/><circle cx="391.38" cy="176.43" r="1.06" fill="#482576" stroke="#1a1a1a" stroke-width="0.35"/><path d="M379.4 125.03L381.12 127.93L377.67 127.93Z" fill="#1f9a8a" stroke="#f5a623" stroke-width="0.6"/><circle cx="432.52" cy="186.68" r="1.06" fill="#1f9a8a" stroke="#1a1a1a" stroke-width="0.35"/><circle cx="399.92" cy="203.6" r="0.84" fill="#460b5e" stroke="#1a1a1a" stroke-width="0.35"/><path d="M379.29 157.81L380.6 160.01L377.98 160.01Z" fill="#1f9a8a" stroke="#f5a623" stroke-width="0.6"/><circle cx="396.44" cy="130" r="0.84" fill="#33638d" stroke="#1a1a1a" stroke-width="0.35"/><circle cx="564.12" cy="85.94" r="1.89" fill="#1f9a8a" stroke="#1a1a1a" stroke-width="0.35"/><circle cx="571.69" cy="184.47" r="0.84" fill="#1f9a8a" stroke="#1a1a1a" stroke-width="0.35"/><path d="M411.25 123.71L412.78 126.29L409.72 126.29Z" fill="#1f9a8a" stroke="#f5a623" stroke-width="0.6"/><circle cx="380.15" cy="48.45" r="2" fill="#460b5e" stroke="#1a1a1a" stroke-width="0.35"/><circle cx="382.66" cy="74.21" r="1.78" fill="#460b5e" stroke="#1a1a1a" stroke-width="0.35"/><circle cx="391.24" cy="113.5" r="1.53" fill="#a8db34" stroke="#1a1a1a" stroke-width="0.35"/><circle cx="490.19" cy="114.3" r="1.78" fill="#a8db34" stroke="#1a1a1a" stroke-width="0.35"/><circle cx="419.15" cy="156.37" r="1.78" fill="#460b5e" stroke="#1a1a1a" stroke-width="0.35"/><circle cx="396.25" cy="49.82" r="2" fill="#297a8e" stroke="#1a1a1a" stroke-width="0.35"/><circle cx="393.71" cy="170.03" r="1.39" fill="#33638d" stroke="#1a1a1a" stroke-width="0.35"/><path d="M464.02 100.63L465.91 103.82L462.12 103.82Z" fill="#1f9a8a" stroke="#f5a623" stroke-width="0.6"/><circle cx="548.14" cy="88.09" r="2" fill="#33638d" stroke="#1a1a1a" stroke-width="0.35"/><path d="M464.22 56.35L466.42 60.06L462.02 60.06Z" fill="#33638d" stroke="#f5a623" stroke-width="0.6"/><circle cx="379.78" cy="149.12" r="1.06" fill="#33638d" stroke="#1a1a1a" stroke-width="0.35"/><circle cx="567.81" cy="194.64" r="1.24" fill="#75d054" stroke="#1a1a1a" stroke-width="0.35"/><circle cx="382.15" cy="152.02" r="1.24" fill="#1f9a8a" stroke="#1a1a1a" stroke-width="0.35"/><circle cx="567.46" cy="156.42" r="1.39" fill="#297a8e" stroke="#1a1a1a" stroke-width="0.35"/><circle cx="382.64" cy="111.97" r="1.78" fill="#1f9a8a" stroke="#1a1a1a" stroke-width="0.35"/><circle cx="423.43" cy="138.18" r="1.89" fill="#482576" stroke="#1a1a1a" stroke-width="0.35"/><circle cx="563.19" cy="128.57" r="1.53" fill="#33638d" stroke="#1a1a1a" stroke-width="0.35"/><path d="M384.75 149.22L386.28 151.8L383.22 151.8Z" fill="#33638d" stroke="#f5a623" stroke-width="0.6"/><path d="M379.47 158.54L381.2 161.45L377.75 161.45Z" fill="#482576" stroke="#f5a623" stroke-width="0.6"/><circle cx="391.22" cy="155.33" r="1.06" fill="#460b5e" stroke="#1a1a1a" stroke-width="0.35"/><circle cx="490.4" cy="187.09" r="1.24" fill="#a8db34" stroke="#1a1a1a" stroke-width="0.35"/><circle cx="388.75" cy="186.83" r="0.84" fill="#1f9a8a" stroke="#1a1a1a" stroke-width="0.35"/><circle cx="571.8" cy="45.68" r="2" fill="#460b5e" stroke="#1a1a1a" stroke-width="0.35"/><circle cx="400.5" cy="102.21" r="1.53" fill="#482576" stroke="#1a1a1a" stroke-width="0.35"/><circle cx="419.18" cy="93.8" r="1.66" fill="#482576" stroke="#1a1a1a" stroke-width="0.35"/><circle cx="571.68" cy="199.97" r="1.24" fill="#460b5e" stroke="#1a1a1a" stroke-width="0.35"/><circle cx="400.24" cy="75.01" r="1.66" fill="#460b5e" stroke="#1a1a1a" stroke-width="0.35"/><circle cx="396.44" cy="191.6" r="0.84" fill="#33638d" stroke="#1a1a1a" stroke-width="0.35"/><path d="M380.69 200.1L381.37 201.24L380.01 201.24Z" fill="#1f9a8a" stroke="#f5a623" stroke-width="0.6"/><circle cx="563.01" cy="186.89" r="1.06" fill="#33638d" stroke="#1a1a1a" stroke-width="0.35"/><circle cx="490.2" cy="200.32" r="0.84" fill="#a8db34" stroke="#1a1a1a" stroke-width="0.35"/><circle cx="396.3" cy="76.13" r="1.66" fill="#297a8e" stroke="#1a1a1a" stroke-width="0.35"/><circle cx="381.96" cy="40.82" r="1.89" fill="#460b5e" stroke="#1a1a1a" stroke-width="0.35"/><circle cx="405.71" cy="171.71" r="0.55" fill="#33638d" stroke="#1a1a1a" stroke-width="0.35"/><path d="M385.64 97.37L387.84 101.07L383.44 101.07Z" fill="#33638d" stroke="#f5a623" stroke-width="0.6"/><circle cx="490.32" cy="112.35" r="1.89" fill="#a8db34" stroke="#1a1a1a" stroke-width="0.35"/><circle cx="568.6" cy="133.06" r="1.78" fill="#482576" stroke="#1a1a1a" stroke-width="0.35"/><circle cx="388.84" cy="120.95" r="1.66" fill="#33638d" stroke="#1a1a1a" stroke-width="0.35"/><circle cx="391.64" cy="176" r="0.84" fill="#482576" stroke="#1a1a1a" stroke-width="0.35"/><circle cx="400" cy="136.43" r="1.24" fill="#1f9a8a" stroke="#1a1a1a" stroke-width="0.35"/><circle cx="567.86" cy="81.46" r="1.78" fill="#482576" stroke="#1a1a1a" stroke-width="0.35"/><circle cx="380.39" cy="197.19" r="0.84" fill="#a8db34" stroke="#1a1a1a" stroke-width="0.35"/><circle cx="391.39" cy="176.24" r="1.06" fill="#460b5e" stroke="#1a1a1a" stroke-width="0.35"/><circle cx="385.47" cy="91.49" r="1.53" fill="#297a8e" stroke="#1a1a1a" stroke-width="0.35"/><circle cx="421.05" cy="99.52" r="1.89" fill="#482576" stroke="#1a1a1a" stroke-width="0.35"/><circle cx="567.69" cy="195.71" r="1.24" fill="#482576" stroke="#1a1a1a" stroke-width="0.35"/><circle cx="489.78" cy="189.79" r="1.06" fill="#75d054" stroke="#1a1a1a" stroke-width="0.35"/><path d="M410.9 72.71L413.37 76.87L408.43 76.87Z" fill="#1f9a8a" stroke="#f5a623" stroke-width="0.6"/><circle cx="423.08" cy="109.52" r="1.53" fill="#482576" stroke="#1a1a1a" stroke-width="0.35"/><circle cx="380.32" cy="181.21" r="1.06" fill="#482576" stroke="#1a1a1a" stroke-width="0.35"/><circle cx="391.22" cy="72.71" r="1.53" fill="#a8db34" stroke="#1a1a1a" stroke-width="0.35"/><circle cx="546.73" cy="188.62" r="0.84" fill="#482576" stroke="#1a1a1a" stroke-width="0.35"/><circle cx="563.54" cy="181.25" r="1.24" fill="#33638d" stroke="#1a1a1a" stroke-width="0.35"/><circle cx="571.79" cy="52.81" r="1.89" fill="#482576" stroke="#1a1a1a" stroke-width="0.35"/><circle cx="489.8" cy="100.1" r="1.66" fill="#a8db34" stroke="#1a1a1a" stroke-width="0.35"/><circle cx="421.12" cy="174.84" r="1.39" fill="#33638d" stroke="#1a1a1a" stroke-width="0.35"/><circle cx="570.69" cy="97.71" r="1.66" fill="#482576" stroke="#1a1a1a" stroke-width="0.35"/><circle cx="547.87" cy="140.71" r="1.39" fill="#33638d" stroke="#1a1a1a" stroke-width="0.35"/><circle cx="391.06" cy="106.74" r="1.39" fill="#cde11d" stroke="#1a1a1a" stroke-width="0.35"/><path d="M385.14 144.4L386.67 146.98L383.61 146.98Z" fill="#33638d" stroke="#f5a623" stroke-width="0.6"/><circle cx="396.68" cy="199" r="0.84" fill="#297a8e" stroke="#1a1a1a" stroke-width="0.35"/><circle cx="564.05" cy="181.45" r="1.24" fill="#1f9a8a" stroke="#1a1a1a" stroke-width="0.35"/><circle cx="419.46" cy="154.58" r="1.66" fill="#482576" stroke="#1a1a1a" stroke-width="0.35"/><path d="M410.82 179.5L412.35 182.07L409.29 182.07Z" fill="#1f9a8a" stroke="#f5a623" stroke-width="0.6"/><circle cx="418.99" cy="130.21" r="1.66" fill="#482576" stroke="#1a1a1a" stroke-width="0.35"/><circle cx="400.28" cy="202.07" r="0.55" fill="#482576" stroke="#1a1a1a" stroke-width="0.35"/><circle cx="423.65" cy="184.34" r="1.24" fill="#460b5e" stroke="#1a1a1a" stroke-width="0.35"/><circle cx="420.56" cy="125.79" r="1.78" fill="#482576" stroke="#1a1a1a" stroke-width="0.35"/><circle cx="570.8" cy="177.28" r="1.06" fill="#460b5e" stroke="#1a1a1a" stroke-width="0.35"/><circle cx="568.48" cy="108.23" r="1.53" fill="#297a8e" stroke="#1a1a1a" stroke-width="0.35"/><circle cx="422.67" cy="60.53" r="2" fill="#33638d" stroke="#1a1a1a" stroke-width="0.35"/><circle cx="379.75" cy="77.86" r="1.53" fill="#460b5e" stroke="#1a1a1a" stroke-width="0.35"/><circle cx="490.3" cy="197.62" r="0.84" fill="#a8db34" stroke="#1a1a1a" stroke-width="0.35"/><circle cx="548.33" cy="163.45" r="1.53" fill="#482576" stroke="#1a1a1a" stroke-width="0.35"/><circle cx="388.52" cy="160.47" r="1.39" fill="#1f9a8a" stroke="#1a1a1a" stroke-width="0.35"/><path d="M393.28 196.44L394.59 198.64L391.97 198.64Z" fill="#1f9a8a" stroke="#f5a623" stroke-width="0.6"/><circle cx="428.51" cy="179.96" r="1.24" fill="#482576" stroke="#1a1a1a" stroke-width="0.35"/><path d="M410.54 81.66L412.59 85.12L408.48 85.12Z" fill="#1f9a8a" stroke="#f5a623" stroke-width="0.6"/><circle cx="405.49" cy="68.67" r="1.89" fill="#33638d" stroke="#1a1a1a" stroke-width="0.35"/><circle cx="388.67" cy="181.43" r="1.06" fill="#1f9a8a" stroke="#1a1a1a" stroke-width="0.35"/><circle cx="405.75" cy="196.65" r="1.06" fill="#33638d" stroke="#1a1a1a" stroke-width="0.35"/><circle cx="382.2" cy="194.61" r="1.39" fill="#33638d" stroke="#1a1a1a" stroke-width="0.35"/><circle cx="400.12" cy="89.06" r="1.66" fill="#1f9a8a" stroke="#1a1a1a" stroke-width="0.35"/><circle cx="420.16" cy="142.08" r="1.53" fill="#460b5e" stroke="#1a1a1a" stroke-width="0.35"/><path d="M393.21 86.76L395.41 90.47L391.01 90.47Z" fill="#1f9a8a" stroke="#f5a623" stroke-width="0.6"/><circle cx="564.12" cy="63.15" r="2" fill="#1f9a8a" stroke="#1a1a1a" stroke-width="0.35"/><circle cx="391.26" cy="92.21" r="1.66" fill="#efe51c" stroke="#1a1a1a" stroke-width="0.35"/><circle cx="382.34" cy="100.47" r="1.53" fill="#1f9a8a" stroke="#1a1a1a" stroke-width="0.35"/><circle cx="490.2" cy="207.23" r="0.55" fill="#a8db34" stroke="#1a1a1a" stroke-width="0.35"/><circle cx="432.62" cy="141.94" r="1.39" fill="#1f9a8a" stroke="#1a1a1a" stroke-width="0.35"/><circle cx="388.54" cy="58.76" r="1.89" fill="#482576" stroke="#1a1a1a" stroke-width="0.35"/><circle cx="379.74" cy="36.91" r="1.78" fill="#75d054" stroke="#1a1a1a" stroke-width="0.35"/><path d="M385.42 122.93L387.32 126.12L383.52 126.12Z" fill="#482576" stroke="#f5a623" stroke-width="0.6"/><circle cx="568.79" cy="181.92" r="1.24" fill="#75d054" stroke="#1a1a1a" stroke-width="0.35"/><circle cx="570.74" cy="126.94" r="1.66" fill="#460b5e" stroke="#1a1a1a" stroke-width="0.35"/><circle cx="546.68" cy="117.38" r="1.66" fill="#482576" stroke="#1a1a1a" stroke-width="0.35"/><circle cx="489.99" cy="147.02" r="1.66" fill="#cde11d" stroke="#1a1a1a" stroke-width="0.35"/><circle cx="382.37" cy="50.19" r="2" fill="#482576" stroke="#1a1a1a" stroke-width="0.35"/><circle cx="391.05" cy="157.92" r="1.39" fill="#efe51c" stroke="#1a1a1a" stroke-width="0.35"/><circle cx="452.78" cy="198.83" r="0.84" fill="#297a8e" stroke="#1a1a1a" stroke-width="0.35"/><path d="M411.28 107.93L412.59 110.13L409.97 110.13Z" fill="#75d054" stroke="#f5a623" stroke-width="0.6"/><circle cx="391.19" cy="79.62" r="1.66" fill="#a8db34" stroke="#1a1a1a" stroke-width="0.35"/><circle cx="489.57" cy="167.68" r="1.78" fill="#a8db34" stroke="#1a1a1a" stroke-width="0.35"/><circle cx="400.24" cy="54.83" r="1.89" fill="#482576" stroke="#1a1a1a" stroke-width="0.35"/><circle cx="379.47" cy="79.21" r="2" fill="#75d054" stroke="#1a1a1a" stroke-width="0.35"/><circle cx="563.7" cy="169.29" r="1.24" fill="#1f9a8a" stroke="#1a1a1a" stroke-width="0.35"/><circle cx="393.76" cy="163.34" r="1.24" fill="#33638d" stroke="#1a1a1a" stroke-width="0.35"/><path d="M385.33 170.32L386.64 172.52L384.03 172.52Z" fill="#482576" stroke="#f5a623" stroke-width="0.6"/><circle cx="428.65" cy="127.4" r="1.66" fill="#482576" stroke="#1a1a1a" stroke-width="0.35"/><circle cx="400.1" cy="202.43" r="0.84" fill="#1f9a8a" stroke="#1a1a1a" stroke-width="0.35"/><circle cx="548.21" cy="74.29" r="2" fill="#482576" stroke="#1a1a1a" stroke-width="0.35"/><circle cx="379.49" cy="155.13" r="1.06" fill="#33638d" stroke="#1a1a1a" stroke-width="0.35"/><circle cx="563.17" cy="163.04" r="0.84" fill="#1f9a8a" stroke="#1a1a1a" stroke-width="0.35"/><circle cx="452.81" cy="165.34" r="1.06" fill="#297a8e" stroke="#1a1a1a" stroke-width="0.35"/><circle cx="428.75" cy="102.78" r="1.53" fill="#482576" stroke="#1a1a1a" stroke-width="0.35"/><circle cx="379.88" cy="192.41" r="0.84" fill="#1f9a8a" stroke="#1a1a1a" stroke-width="0.35"/><circle cx="382.2" cy="191.75" r="0.84" fill="#33638d" stroke="#1a1a1a" stroke-width="0.35"/><path d="M384.96 206.37L385.64 207.51L384.28 207.51Z" fill="#1f9a8a" stroke="#f5a623" stroke-width="0.6"/><path d="M385.66 194.73L386.71 196.49L384.62 196.49Z" fill="#482576" stroke="#f5a623" stroke-width="0.6"/><circle cx="421.24" cy="158.7" r="1.53" fill="#460b5e" stroke="#1a1a1a" stroke-width="0.35"/><circle cx="382.67" cy="78.84" r="1.78" fill="#460b5e" stroke="#1a1a1a" stroke-width="0.35"/><circle cx="400.5" cy="77.61" r="1.89" fill="#482576" stroke="#1a1a1a" stroke-width="0.35"/><circle cx="571.77" cy="78.26" r="1.78" fill="#482576" stroke="#1a1a1a" stroke-width="0.35"/><circle cx="432.37" cy="194.35" r="0.55" fill="#1f9a8a" stroke="#1a1a1a" stroke-width="0.35"/><circle cx="432.7" cy="90.8" r="1.66" fill="#1f9a8a" stroke="#1a1a1a" stroke-width="0.35"/><circle cx="400.27" cy="160.59" r="1.53" fill="#75d054" stroke="#1a1a1a" stroke-width="0.35"/><path d="M464.77 73.36L467.24 77.52L462.3 77.52Z" fill="#482576" stroke="#f5a623" stroke-width="0.6"/><circle cx="423.81" cy="92.78" r="2" fill="#460b5e" stroke="#1a1a1a" stroke-width="0.35"/><circle cx="428.31" cy="157.83" r="1.89" fill="#460b5e" stroke="#1a1a1a" stroke-width="0.35"/><circle cx="418.78" cy="182.58" r="1.66" fill="#460b5e" stroke="#1a1a1a" stroke-width="0.35"/><circle cx="423.27" cy="74.57" r="1.78" fill="#482576" stroke="#1a1a1a" stroke-width="0.35"/><circle cx="489.62" cy="198.52" r="0.84" fill="#3dbc74" stroke="#1a1a1a" stroke-width="0.35"/><circle cx="382.26" cy="113.38" r="1.66" fill="#33638d" stroke="#1a1a1a" stroke-width="0.35"/><path d="M411.15 174.03L412.46 176.23L409.84 176.23Z" fill="#33638d" stroke="#f5a623" stroke-width="0.6"/><circle cx="382.08" cy="207.24" r="0.84" fill="#1f9a8a" stroke="#1a1a1a" stroke-width="0.35"/><circle cx="490.34" cy="181.58" r="0.84" fill="#a8db34" stroke="#1a1a1a" stroke-width="0.35"/><circle cx="400.15" cy="190.09" r="1.06" fill="#1f9a8a" stroke="#1a1a1a" stroke-width="0.35"/><circle cx="567.48" cy="131.31" r="1.78" fill="#297a8e" stroke="#1a1a1a" stroke-width="0.35"/><path d="M385.06 202.26L386.1 204.01L384.02 204.01Z" fill="#1f9a8a" stroke="#f5a623" stroke-width="0.6"/><circle cx="420.26" cy="98.08" r="2" fill="#460b5e" stroke="#1a1a1a" stroke-width="0.35"/><circle cx="452.6" cy="181.25" r="1.24" fill="#297a8e" stroke="#1a1a1a" stroke-width="0.35"/><circle cx="547.17" cy="138.42" r="1.53" fill="#482576" stroke="#1a1a1a" stroke-width="0.35"/><path d="M410.97 185.25L411.64 186.39L410.29 186.39Z" fill="#33638d" stroke="#f5a623" stroke-width="0.6"/><circle cx="547.78" cy="167.05" r="1.39" fill="#482576" stroke="#1a1a1a" stroke-width="0.35"/><circle cx="396.42" cy="160.38" r="1.66" fill="#297a8e" stroke="#1a1a1a" stroke-width="0.35"/><circle cx="380.14" cy="43.12" r="2" fill="#1f9a8a" stroke="#1a1a1a" stroke-width="0.35"/><circle cx="546.7" cy="99.92" r="1.78" fill="#482576" stroke="#1a1a1a" stroke-width="0.35"/><circle cx="396.72" cy="134.98" r="0.84" fill="#297a8e" stroke="#1a1a1a" stroke-width="0.35"/><circle cx="546.99" cy="137.25" r="1.39" fill="#482576" stroke="#1a1a1a" stroke-width="0.35"/><circle cx="490.39" cy="142.12" r="1.53" fill="#a8db34" stroke="#1a1a1a" stroke-width="0.35"/><path d="M462.82 178.4L464.35 180.98L461.29 180.98Z" fill="#33638d" stroke="#f5a623" stroke-width="0.6"/><path d="M385.67 194.19L386.35 195.33L385 195.33Z" fill="#482576" stroke="#f5a623" stroke-width="0.6"/><circle cx="379.17" cy="92.74" r="1.53" fill="#1f9a8a" stroke="#1a1a1a" stroke-width="0.35"/><circle cx="419.84" cy="174.72" r="1.24" fill="#482576" stroke="#1a1a1a" stroke-width="0.35"/><circle cx="422.62" cy="124.23" r="2" fill="#460b5e" stroke="#1a1a1a" stroke-width="0.35"/><circle cx="571.13" cy="110.22" r="1.66" fill="#460b5e" stroke="#1a1a1a" stroke-width="0.35"/><circle cx="380.3" cy="79.9" r="1.89" fill="#482576" stroke="#1a1a1a" stroke-width="0.35"/><circle cx="420.11" cy="68.25" r="2" fill="#482576" stroke="#1a1a1a" stroke-width="0.35"/><circle cx="548.31" cy="73.21" r="1.89" fill="#482576" stroke="#1a1a1a" stroke-width="0.35"/><circle cx="391.41" cy="204.29" r="0.84" fill="#482576" stroke="#1a1a1a" stroke-width="0.35"/><path d="M411.06 170.58L412.59 173.15L409.53 173.15Z" fill="#1f9a8a" stroke="#f5a623" stroke-width="0.6"/><circle cx="419.79" cy="73.13" r="2" fill="#482576" stroke="#1a1a1a" stroke-width="0.35"/><circle cx="563.26" cy="183.14" r="1.06" fill="#1f9a8a" stroke="#1a1a1a" stroke-width="0.35"/><circle cx="547.64" cy="119.79" r="1.78" fill="#482576" stroke="#1a1a1a" stroke-width="0.35"/><circle cx="489.66" cy="74.13" r="1.89" fill="#a8db34" stroke="#1a1a1a" stroke-width="0.35"/><circle cx="546.31" cy="101.98" r="1.53" fill="#482576" stroke="#1a1a1a" stroke-width="0.35"/><circle cx="546.69" cy="193.52" r="0.84" fill="#482576" stroke="#1a1a1a" stroke-width="0.35"/><circle cx="547.8" cy="161.96" r="1.24" fill="#482576" stroke="#1a1a1a" stroke-width="0.35"/><circle cx="391.58" cy="153.36" r="1.39" fill="#460b5e" stroke="#1a1a1a" stroke-width="0.35"/><circle cx="546.67" cy="147.64" r="1.39" fill="#33638d" stroke="#1a1a1a" stroke-width="0.35"/><circle cx="547.73" cy="76.69" r="2" fill="#33638d" stroke="#1a1a1a" stroke-width="0.35"/><path d="M410.73 36.35L413.2 40.51L408.26 40.51Z" fill="#482576" stroke="#f5a623" stroke-width="0.6"/><circle cx="393.56" cy="39.25" r="2" fill="#1f9a8a" stroke="#1a1a1a" stroke-width="0.35"/><circle cx="568.17" cy="160.72" r="1.24" fill="#1f9a8a" stroke="#1a1a1a" stroke-width="0.35"/><circle cx="380.27" cy="46.55" r="1.89" fill="#1f9a8a" stroke="#1a1a1a" stroke-width="0.35"/><circle cx="379.76" cy="112.58" r="1.53" fill="#460b5e" stroke="#1a1a1a" stroke-width="0.35"/><circle cx="452.8" cy="128.41" r="1.24" fill="#33638d" stroke="#1a1a1a" stroke-width="0.35"/><circle cx="490.43" cy="151.73" r="1.66" fill="#a8db34" stroke="#1a1a1a" stroke-width="0.35"/><circle cx="563.89" cy="72.36" r="1.89" fill="#297a8e" stroke="#1a1a1a" stroke-width="0.35"/><circle cx="379.6" cy="199.93" r="0.55" fill="#482576" stroke="#1a1a1a" stroke-width="0.35"/><circle cx="388.37" cy="67.43" r="2" fill="#1f9a8a" stroke="#1a1a1a" stroke-width="0.35"/><circle cx="563.98" cy="146.69" r="1.39" fill="#33638d" stroke="#1a1a1a" stroke-width="0.35"/><circle cx="399.92" cy="168.01" r="1.24" fill="#482576" stroke="#1a1a1a" stroke-width="0.35"/><circle cx="568.74" cy="204.3" r="0.84" fill="#482576" stroke="#1a1a1a" stroke-width="0.35"/><circle cx="568.27" cy="158.16" r="1.06" fill="#482576" stroke="#1a1a1a" stroke-width="0.35"/><circle cx="379.69" cy="86.9" r="1.78" fill="#75d054" stroke="#1a1a1a" stroke-width="0.35"/><path d="M463.98 186.94L464.66 188.08L463.31 188.08Z" fill="#482576" stroke="#f5a623" stroke-width="0.6"/><circle cx="419" cy="110.19" r="2" fill="#33638d" stroke="#1a1a1a" stroke-width="0.35"/><circle cx="400.67" cy="165.73" r="0.55" fill="#482576" stroke="#1a1a1a" stroke-width="0.35"/><path d="M385.5 184.82L386.54 186.57L384.46 186.57Z" fill="#482576" stroke="#f5a623" stroke-width="0.6"/><circle cx="422.95" cy="140.01" r="1.78" fill="#33638d" stroke="#1a1a1a" stroke-width="0.35"/><circle cx="571.75" cy="205.89" r="0.84" fill="#460b5e" stroke="#1a1a1a" stroke-width="0.35"/><path d="M393.8 180.73L395.52 183.63L392.08 183.63Z" fill="#1f9a8a" stroke="#f5a623" stroke-width="0.6"/><circle cx="420.83" cy="74.93" r="1.89" fill="#482576" stroke="#1a1a1a" stroke-width="0.35"/><circle cx="399.9" cy="160.61" r="1.53" fill="#460b5e" stroke="#1a1a1a" stroke-width="0.35"/><circle cx="382.83" cy="62.96" r="1.89" fill="#1f9a8a" stroke="#1a1a1a" stroke-width="0.35"/><path d="M393.93 48.92L396.4 53.08L391.46 53.08Z" fill="#482576" stroke="#f5a623" stroke-width="0.6"/><circle cx="490.55" cy="86.29" r="1.89" fill="#a8db34" stroke="#1a1a1a" stroke-width="0.35"/><circle cx="571.58" cy="169.14" r="1.24" fill="#482576" stroke="#1a1a1a" stroke-width="0.35"/><circle cx="380.11" cy="173.05" r="1.39" fill="#1f9a8a" stroke="#1a1a1a" stroke-width="0.35"/><path d="M411.17 197.51L411.85 198.65L410.49 198.65Z" fill="#33638d" stroke="#f5a623" stroke-width="0.6"/><circle cx="563.86" cy="70.49" r="1.53" fill="#297a8e" stroke="#1a1a1a" stroke-width="0.35"/><circle cx="563.15" cy="113.51" r="1.39" fill="#1f9a8a" stroke="#1a1a1a" stroke-width="0.35"/><circle cx="400.11" cy="119.78" r="1.53" fill="#1f9a8a" stroke="#1a1a1a" stroke-width="0.35"/><circle cx="489.46" cy="172.04" r="1.24" fill="#75d054" stroke="#1a1a1a" stroke-width="0.35"/><circle cx="562.93" cy="192.32" r="0.55" fill="#297a8e" stroke="#1a1a1a" stroke-width="0.35"/><circle cx="548.11" cy="109.29" r="1.89" fill="#482576" stroke="#1a1a1a" stroke-width="0.35"/><circle cx="546.23" cy="155.27" r="1.66" fill="#482576" stroke="#1a1a1a" stroke-width="0.35"/><path d="M393.21 179.7L394.52 181.9L391.9 181.9Z" fill="#1f9a8a" stroke="#f5a623" stroke-width="0.6"/><path d="M385.68 125.91L387.74 129.37L383.63 129.37Z" fill="#33638d" stroke="#f5a623" stroke-width="0.6"/><circle cx="391.58" cy="206.88" r="0.55" fill="#482576" stroke="#1a1a1a" stroke-width="0.35"/><circle cx="547.12" cy="103.58" r="1.78" fill="#482576" stroke="#1a1a1a" stroke-width="0.35"/><circle cx="546.05" cy="94.19" r="1.89" fill="#33638d" stroke="#1a1a1a" stroke-width="0.35"/><circle cx="388.34" cy="192.41" r="1.24" fill="#460b5e" stroke="#1a1a1a" stroke-width="0.35"/><circle cx="391.16" cy="124.14" r="1.39" fill="#a8db34" stroke="#1a1a1a" stroke-width="0.35"/><circle cx="418.82" cy="97.57" r="2" fill="#460b5e" stroke="#1a1a1a" stroke-width="0.35"/><path d="M411.09 100.04L413.14 103.5L409.03 103.5Z" fill="#75d054" stroke="#f5a623" stroke-width="0.6"/><circle cx="382.1" cy="26.8" r="2" fill="#297a8e" stroke="#1a1a1a" stroke-width="0.35"/><circle cx="396.2" cy="23.4" r="2" fill="#297a8e" stroke="#1a1a1a" stroke-width="0.35"/><path d="M410.7 9.83L413.05 13.78L408.35 13.78Z" fill="#1f9a8a" stroke="#f5a623" stroke-width="0.6"/><circle cx="379.7" cy="212.8" r="1.6" fill="#460b5e" stroke="#1a1a1a" stroke-width="0.35"/><path d="M453.3 33.93L455.65 37.88L450.95 37.88Z" fill="#75d054" stroke="#f5a623" stroke-width="0.6"/><circle cx="490" cy="23.9" r="1.9" fill="#75d054" stroke="#1a1a1a" stroke-width="0.35"/><circle cx="490" cy="31.9" r="1.9" fill="#75d054" stroke="#1a1a1a" stroke-width="0.35"/><circle cx="490" cy="36.3" r="1.9" fill="#75d054" stroke="#1a1a1a" stroke-width="0.35"/><circle cx="490" cy="44.8" r="1.9" fill="#75d054" stroke="#1a1a1a" stroke-width="0.35"/><circle cx="490" cy="48.5" r="1.9" fill="#a8db34" stroke="#1a1a1a" stroke-width="0.35"/><circle cx="490" cy="54.1" r="1.9" fill="#75d054" stroke="#1a1a1a" stroke-width="0.35"/><circle cx="548.1" cy="45.3" r="1.9" fill="#482576" stroke="#1a1a1a" stroke-width="0.35"/><circle cx="546.5" cy="49.6" r="1.9" fill="#33638d" stroke="#1a1a1a" stroke-width="0.35"/><circle cx="547" cy="53.6" r="1.8" fill="#33638d" stroke="#1a1a1a" stroke-width="0.35"/><circle cx="547.5" cy="57" r="1.8" fill="#33638d" stroke="#1a1a1a" stroke-width="0.35"/><circle cx="548" cy="60" r="1.8" fill="#33638d" stroke="#1a1a1a" stroke-width="0.35"/><circle cx="570.6" cy="39.2" r="1.9" fill="#1f9a8a" stroke="#1a1a1a" stroke-width="0.35"/><circle cx="568.2" cy="45.3" r="1.9" fill="#1f9a8a" stroke="#1a1a1a" stroke-width="0.35"/><circle cx="570.6" cy="45.3" r="1.9" fill="#482576" stroke="#1a1a1a" stroke-width="0.35"/><circle cx="432.3" cy="44.8" r="1.9" fill="#1f9a8a" stroke="#1a1a1a" stroke-width="0.35"/><circle cx="421.5" cy="37.2" r="1.9" fill="#33638d" stroke="#1a1a1a" stroke-width="0.35"/><circle cx="421.5" cy="41.2" r="1.9" fill="#33638d" stroke="#1a1a1a" stroke-width="0.35"/><circle cx="421.5" cy="44.3" r="1.9" fill="#33638d" stroke="#1a1a1a" stroke-width="0.35"/><circle cx="421.5" cy="52" r="1.9" fill="#33638d" stroke="#1a1a1a" stroke-width="0.35"/></g><path d="M19.4 0.45V224.45" stroke="#777" stroke-width="0.9"/><path d="M234.4 0.45V224.45" stroke="#777" stroke-width="0.9"/><path d="M19.4 0.45H234.4" stroke="#777" stroke-width="0.9"/><path d="M19.4 224.45H234.4" stroke="#777" stroke-width="0.9"/><path d="M29.3 224.45v-2.8M29.3 0.45v2.8M71.78 224.45v-2.8M71.78 0.45v2.8M114.26 224.45v-2.8M114.26 0.45v2.8M156.74 224.45v-2.8M156.74 0.45v2.8M199.22 224.45v-2.8M199.22 0.45v2.8M39.92 224.45v-1.6M39.92 0.45v1.6M50.54 224.45v-1.6M50.54 0.45v1.6M61.16 224.45v-1.6M61.16 0.45v1.6M82.4 224.45v-1.6M82.4 0.45v1.6M93.02 224.45v-1.6M93.02 0.45v1.6M103.64 224.45v-1.6M103.64 0.45v1.6M124.88 224.45v-1.6M124.88 0.45v1.6M135.5 224.45v-1.6M135.5 0.45v1.6M146.12 224.45v-1.6M146.12 0.45v1.6M167.36 224.45v-1.6M167.36 0.45v1.6M177.98 224.45v-1.6M177.98 0.45v1.6M188.6 224.45v-1.6M188.6 0.45v1.6M209.84 224.45v-1.6M209.84 0.45v1.6M220.46 224.45v-1.6M220.46 0.45v1.6M231.08 224.45v-1.6M231.08 0.45v1.6M19.4 208.5h2.8M234.4 208.5h-2.8M19.4 159.95h2.8M234.4 159.95h-2.8M19.4 111.4h2.8M234.4 111.4h-2.8M19.4 62.85h2.8M234.4 62.85h-2.8M19.4 14.3h2.8M234.4 14.3h-2.8M19.4 218.21h1.6M234.4 218.21h-1.6M19.4 198.79h1.6M234.4 198.79h-1.6M19.4 189.08h1.6M234.4 189.08h-1.6M19.4 179.37h1.6M234.4 179.37h-1.6M19.4 169.66h1.6M234.4 169.66h-1.6M19.4 150.24h1.6M234.4 150.24h-1.6M19.4 140.53h1.6M234.4 140.53h-1.6M19.4 130.82h1.6M234.4 130.82h-1.6M19.4 121.11h1.6M234.4 121.11h-1.6M19.4 101.69h1.6M234.4 101.69h-1.6M19.4 91.98h1.6M234.4 91.98h-1.6M19.4 82.27h1.6M234.4 82.27h-1.6M19.4 72.56h1.6M234.4 72.56h-1.6M19.4 53.14h1.6M234.4 53.14h-1.6M19.4 43.43h1.6M234.4 43.43h-1.6M19.4 33.72h1.6M234.4 33.72h-1.6M19.4 24.01h1.6M234.4 24.01h-1.6M19.4 4.59h1.6M234.4 4.59h-1.6" stroke="#3a3a3a" stroke-width="0.7" fill="none"/><text x="29.3" y="233.4" text-anchor="middle" font-size="7.2" font-family="Liberation Serif, serif" fill="#222">0</text><text x="71.78" y="233.4" text-anchor="middle" font-size="7.2" font-family="Liberation Serif, serif" fill="#222">2</text><text x="114.26" y="233.4" text-anchor="middle" font-size="7.2" font-family="Liberation Serif, serif" fill="#222">4</text><text x="156.74" y="233.4" text-anchor="middle" font-size="7.2" font-family="Liberation Serif, serif" fill="#222">6</text><text x="199.22" y="233.4" text-anchor="middle" font-size="7.2" font-family="Liberation Serif, serif" fill="#222">8</text><text x="16.2" y="211.4" text-anchor="end" font-size="7.2" font-family="Liberation Serif, serif" fill="#222">10</text><text x="16.2" y="162.85" text-anchor="end" font-size="7.2" font-family="Liberation Serif, serif" fill="#222">15</text><text x="16.2" y="114.3" text-anchor="end" font-size="7.2" font-family="Liberation Serif, serif" fill="#222">20</text><text x="16.2" y="65.75" text-anchor="end" font-size="7.2" font-family="Liberation Serif, serif" fill="#222">25</text><text x="16.2" y="17.2" text-anchor="end" font-size="7.2" font-family="Liberation Serif, serif" fill="#222">30</text><text x="126.7" y="240.6" text-anchor="middle" font-size="7.0" font-family="Liberation Serif, serif" font-style="italic" fill="#222" style="letter-spacing:0">EC/PC [gr/gr]</text><text transform="translate(4.2,112.6) rotate(-90)" text-anchor="middle" font-size="7.0" font-family="Liberation Serif, serif" font-style="italic" fill="#222" style="letter-spacing:0">E [mJ/mol]</text><path d="M370.2 2.3V222.8" stroke="#a8a8a8" stroke-width="1.4"/><path d="M581.4 2.3V222.8" stroke="#5a5a5a" stroke-width="0.9"/><path d="M370.2 2.3H581.4" stroke="#a0a0a0" stroke-width="1.3"/><path d="M370.2 222.8H581.4" stroke="#a8a8a8" stroke-width="1.4"/><path d="M379.3 222.8v-2.8M379.3 2.3v2.8M421.3 222.8v-2.8M421.3 2.3v2.8M463.3 222.8v-2.8M463.3 2.3v2.8M505.3 222.8v-2.8M505.3 2.3v2.8M547.3 222.8v-2.8M547.3 2.3v2.8M389.8 222.8v-1.6M389.8 2.3v1.6M400.3 222.8v-1.6M400.3 2.3v1.6M410.8 222.8v-1.6M410.8 2.3v1.6M431.8 222.8v-1.6M431.8 2.3v1.6M442.3 222.8v-1.6M442.3 2.3v1.6M452.8 222.8v-1.6M452.8 2.3v1.6M473.8 222.8v-1.6M473.8 2.3v1.6M484.3 222.8v-1.6M484.3 2.3v1.6M494.8 222.8v-1.6M494.8 2.3v1.6M515.8 222.8v-1.6M515.8 2.3v1.6M526.3 222.8v-1.6M526.3 2.3v1.6M536.8 222.8v-1.6M536.8 2.3v1.6M557.8 222.8v-1.6M557.8 2.3v1.6M568.3 222.8v-1.6M568.3 2.3v1.6M578.8 222.8v-1.6M578.8 2.3v1.6M370.2 215h2.8M581.4 215h-2.8M370.2 187.75h2.8M581.4 187.75h-2.8M370.2 160.5h2.8M581.4 160.5h-2.8M370.2 133.25h2.8M581.4 133.25h-2.8M370.2 106h2.8M581.4 106h-2.8M370.2 78.75h2.8M581.4 78.75h-2.8M370.2 51.5h2.8M581.4 51.5h-2.8M370.2 24.25h2.8M581.4 24.25h-2.8M370.2 220.45h1.6M581.4 220.45h-1.6M370.2 209.55h1.6M581.4 209.55h-1.6M370.2 204.1h1.6M581.4 204.1h-1.6M370.2 198.65h1.6M581.4 198.65h-1.6M370.2 193.2h1.6M581.4 193.2h-1.6M370.2 182.3h1.6M581.4 182.3h-1.6M370.2 176.85h1.6M581.4 176.85h-1.6M370.2 171.4h1.6M581.4 171.4h-1.6M370.2 165.95h1.6M581.4 165.95h-1.6M370.2 155.05h1.6M581.4 155.05h-1.6M370.2 149.6h1.6M581.4 149.6h-1.6M370.2 144.15h1.6M581.4 144.15h-1.6M370.2 138.7h1.6M581.4 138.7h-1.6M370.2 127.8h1.6M581.4 127.8h-1.6M370.2 122.35h1.6M581.4 122.35h-1.6M370.2 116.9h1.6M581.4 116.9h-1.6M370.2 111.45h1.6M581.4 111.45h-1.6M370.2 100.55h1.6M581.4 100.55h-1.6M370.2 95.1h1.6M581.4 95.1h-1.6M370.2 89.65h1.6M581.4 89.65h-1.6M370.2 84.2h1.6M581.4 84.2h-1.6M370.2 73.3h1.6M581.4 73.3h-1.6M370.2 67.85h1.6M581.4 67.85h-1.6M370.2 62.4h1.6M581.4 62.4h-1.6M370.2 56.95h1.6M581.4 56.95h-1.6M370.2 46.05h1.6M581.4 46.05h-1.6M370.2 40.6h1.6M581.4 40.6h-1.6M370.2 35.15h1.6M581.4 35.15h-1.6M370.2 29.7h1.6M581.4 29.7h-1.6M370.2 18.8h1.6M581.4 18.8h-1.6M370.2 13.35h1.6M581.4 13.35h-1.6M370.2 7.9h1.6M581.4 7.9h-1.6" stroke="#3a3a3a" stroke-width="0.7" fill="none"/><text x="379.3" y="231.1" text-anchor="middle" font-size="7.2" font-family="Liberation Serif, serif" fill="#222">0</text><text x="421.3" y="231.1" text-anchor="middle" font-size="7.2" font-family="Liberation Serif, serif" fill="#222">2</text><text x="463.3" y="231.1" text-anchor="middle" font-size="7.2" font-family="Liberation Serif, serif" fill="#222">4</text><text x="505.3" y="231.1" text-anchor="middle" font-size="7.2" font-family="Liberation Serif, serif" fill="#222">6</text><text x="547.3" y="231.1" text-anchor="middle" font-size="7.2" font-family="Liberation Serif, serif" fill="#222">8</text><text x="367.3" y="217.9" text-anchor="end" font-size="7.2" font-family="Liberation Serif, serif" fill="#222">0.0</text><text x="367.3" y="190.65" text-anchor="end" font-size="7.2" font-family="Liberation Serif, serif" fill="#222">2.5</text><text x="367.3" y="163.4" text-anchor="end" font-size="7.2" font-family="Liberation Serif, serif" fill="#222">5.0</text><text x="367.3" y="136.15" text-anchor="end" font-size="7.2" font-family="Liberation Serif, serif" fill="#222">7.5</text><text x="367.3" y="108.9" text-anchor="end" font-size="7.2" font-family="Liberation Serif, serif" fill="#222">10.0</text><text x="367.3" y="81.65" text-anchor="end" font-size="7.2" font-family="Liberation Serif, serif" fill="#222">12.5</text><text x="367.3" y="54.4" text-anchor="end" font-size="7.2" font-family="Liberation Serif, serif" fill="#222">15.0</text><text x="367.3" y="27.15" text-anchor="end" font-size="7.2" font-family="Liberation Serif, serif" fill="#222">17.5</text><text x="475.6" y="238.6" text-anchor="middle" font-size="7.0" font-family="Liberation Serif, serif" font-style="italic" fill="#222" style="letter-spacing:0">EC/PC [gr/gr]</text><text transform="translate(351.6,112.4) rotate(-90)" text-anchor="middle" font-size="7.3" font-family="Liberation Serif, serif" font-style="italic" fill="#222" style="letter-spacing:0">σ [mS/cm]</text><defs><linearGradient id="g1" x1="0" y1="1" x2="0" y2="0"><stop offset="0.00" stop-color="#440154"/><stop offset="0.05" stop-color="#471365"/><stop offset="0.10" stop-color="#482475"/><stop offset="0.15" stop-color="#463480"/><stop offset="0.20" stop-color="#414487"/><stop offset="0.25" stop-color="#3b528b"/><stop offset="0.30" stop-color="#355f8d"/><stop offset="0.35" stop-color="#2f6c8e"/><stop offset="0.40" stop-color="#2a788e"/><stop offset="0.45" stop-color="#25848e"/><stop offset="0.50" stop-color="#21918c"/><stop offset="0.55" stop-color="#1e9c89"/><stop offset="0.60" stop-color="#22a884"/><stop offset="0.65" stop-color="#2fb47c"/><stop offset="0.70" stop-color="#44bf70"/><stop offset="0.75" stop-color="#5ec962"/><stop offset="0.80" stop-color="#7cd250"/><stop offset="0.85" stop-color="#9bd93c"/><stop offset="0.90" stop-color="#bddf26"/><stop offset="0.95" stop-color="#dfe318"/><stop offset="1.00" stop-color="#fde725"/></linearGradient></defs><rect x="247.3" y="0" width="11.7" height="224.4" fill="url(#g1)" stroke="#555" stroke-width="0.6"/><path d="M259 219.12h-1.5M259 213.19h-2.8M259 207.26h-1.5M259 201.33h-1.5M259 195.39h-1.5M259 189.46h-1.5M259 183.53h-2.8M259 177.6h-1.5M259 171.67h-1.5M259 165.73h-1.5M259 159.8h-1.5M259 153.87h-2.8M259 147.94h-1.5M259 142.01h-1.5M259 136.08h-1.5M259 130.14h-1.5M259 124.21h-2.8M259 118.28h-1.5M259 112.35h-1.5M259 106.42h-1.5M259 100.48h-1.5M259 94.55h-2.8M259 88.62h-1.5M259 82.69h-1.5M259 76.76h-1.5M259 70.83h-1.5M259 64.89h-2.8M259 58.96h-1.5M259 53.03h-1.5M259 47.1h-1.5M259 41.17h-1.5M259 35.23h-2.8M259 29.3h-1.5M259 23.37h-1.5M259 17.44h-1.5M259 11.51h-1.5M259 5.58h-2.8" stroke="#3a3a3a" stroke-width="0.6"/><text x="261.6" y="215.99" font-size="7.2" font-family="Liberation Serif, serif" fill="#222">0.5</text><text x="261.6" y="186.33" font-size="7.2" font-family="Liberation Serif, serif" fill="#222">1.0</text><text x="261.6" y="156.67" font-size="7.2" font-family="Liberation Serif, serif" fill="#222">1.5</text><text x="261.6" y="127.01" font-size="7.2" font-family="Liberation Serif, serif" fill="#222">2.0</text><text x="261.6" y="97.35" font-size="7.2" font-family="Liberation Serif, serif" fill="#222">2.5</text><text x="261.6" y="67.69" font-size="7.2" font-family="Liberation Serif, serif" fill="#222">3.0</text><text x="261.6" y="38.03" font-size="7.2" font-family="Liberation Serif, serif" fill="#222">3.5</text><text x="261.6" y="8.38" font-size="7.2" font-family="Liberation Serif, serif" fill="#222">4.0</text><text transform="translate(279.3,111.7) rotate(-90)" text-anchor="middle" font-size="7.0" font-family="Liberation Serif, serif" font-style="italic" fill="#222" style="letter-spacing:0.15px">LiPF<tspan font-size="5.0" dy="1.2">6</tspan><tspan dy="-1.2"> [g]</tspan></text><defs><linearGradient id="g2" x1="0" y1="1" x2="0" y2="0"><stop offset="0.00" stop-color="#440154"/><stop offset="0.05" stop-color="#471365"/><stop offset="0.10" stop-color="#482475"/><stop offset="0.15" stop-color="#46337f"/><stop offset="0.20" stop-color="#414287"/><stop offset="0.25" stop-color="#3b518b"/><stop offset="0.30" stop-color="#355f8d"/><stop offset="0.35" stop-color="#2f6c8e"/><stop offset="0.40" stop-color="#2a788e"/><stop offset="0.45" stop-color="#25848e"/><stop offset="0.50" stop-color="#21908d"/><stop offset="0.55" stop-color="#1e9c89"/><stop offset="0.60" stop-color="#22a884"/><stop offset="0.65" stop-color="#2fb47c"/><stop offset="0.70" stop-color="#44bf70"/><stop offset="0.75" stop-color="#5ec962"/><stop offset="0.80" stop-color="#7cd250"/><stop offset="0.85" stop-color="#9bd93c"/><stop offset="0.90" stop-color="#bddf26"/><stop offset="0.95" stop-color="#dfe318"/><stop offset="1.00" stop-color="#fde725"/></linearGradient></defs><rect x="594.7" y="1.5" width="11.1" height="221.8" fill="url(#g2)" stroke="#555" stroke-width="0.6"/><path d="M605.8 217.46h-1.5M605.8 211.62h-2.8M605.8 205.78h-1.5M605.8 199.94h-1.5M605.8 194.1h-1.5M605.8 188.26h-1.5M605.8 182.42h-2.8M605.8 176.58h-1.5M605.8 170.74h-1.5M605.8 164.9h-1.5M605.8 159.06h-1.5M605.8 153.22h-2.8M605.8 147.38h-1.5M605.8 141.54h-1.5M605.8 135.7h-1.5M605.8 129.86h-1.5M605.8 124.02h-2.8M605.8 118.18h-1.5M605.8 112.34h-1.5M605.8 106.5h-1.5M605.8 100.66h-1.5M605.8 94.82h-2.8M605.8 88.98h-1.5M605.8 83.14h-1.5M605.8 77.3h-1.5M605.8 71.46h-1.5M605.8 65.62h-2.8M605.8 59.78h-1.5M605.8 53.94h-1.5M605.8 48.1h-1.5M605.8 42.26h-1.5M605.8 36.42h-2.8M605.8 30.58h-1.5M605.8 24.74h-1.5M605.8 18.9h-1.5M605.8 13.06h-1.5M605.8 7.22h-2.8" stroke="#3a3a3a" stroke-width="0.6"/><text x="608.4" y="214.42" font-size="7.2" font-family="Liberation Serif, serif" fill="#222">0.5</text><text x="608.4" y="185.22" font-size="7.2" font-family="Liberation Serif, serif" fill="#222">1.0</text><text x="608.4" y="156.02" font-size="7.2" font-family="Liberation Serif, serif" fill="#222">1.5</text><text x="608.4" y="126.82" font-size="7.2" font-family="Liberation Serif, serif" fill="#222">2.0</text><text x="608.4" y="97.62" font-size="7.2" font-family="Liberation Serif, serif" fill="#222">2.5</text><text x="608.4" y="68.42" font-size="7.2" font-family="Liberation Serif, serif" fill="#222">3.0</text><text x="608.4" y="39.22" font-size="7.2" font-family="Liberation Serif, serif" fill="#222">3.5</text><text x="608.4" y="10.02" font-size="7.2" font-family="Liberation Serif, serif" fill="#222">4.0</text><text transform="translate(624.5,112.5) rotate(-90)" text-anchor="middle" font-size="7.0" font-family="Liberation Serif, serif" font-style="italic" fill="#222" style="letter-spacing:0.15px">LiPF<tspan font-size="5.0" dy="1.2">6</tspan><tspan dy="-1.2"> [g]</tspan></text><rect x="285.5" y="7.5" width="53.7" height="23.8" rx="1" fill="#fff" fill-opacity="0.85" stroke="#d6d6d6" stroke-width="0.6"/><text x="312.35" y="13.7" text-anchor="middle" font-size="7.1" font-family="Liberation Serif, serif" fill="#222">(EC + PC): EMC</text><circle cx="306.5" cy="19.3" r="1.2" fill="#000"/><text x="315.5" y="21.5" font-size="6.4" font-family="Liberation Serif, serif" fill="#222">0.4</text><path d="M306.5 25.8L307.9 28.2L305.1 28.2Z" fill="#3a2a10" stroke="#f5a623" stroke-width="0.6"/><text x="315.5" y="29.5" font-size="6.4" font-family="Liberation Serif, serif" fill="#222">1.0</text><rect x="631.7" y="9.3" width="52.9" height="23.6" rx="1" fill="#fff" fill-opacity="0.85" stroke="#d6d6d6" stroke-width="0.6"/><text x="658.15" y="15.5" text-anchor="middle" font-size="7.1" font-family="Liberation Serif, serif" fill="#222">(EC + PC): EMC</text><circle cx="652.4" cy="21.1" r="1.2" fill="#000"/><text x="661" y="23.3" font-size="6.4" font-family="Liberation Serif, serif" fill="#222">0.4</text><path d="M652.4 27.6L653.8 30L651 30Z" fill="#3a2a10" stroke="#f5a623" stroke-width="0.6"/><text x="661" y="31.3" font-size="6.4" font-family="Liberation Serif, serif" fill="#222">1.0</text><rect x="640.6" y="70.3" width="33.5" height="83.0" rx="1.2" fill="#fff" stroke="#d6d6d6" stroke-width="0.6"/><text x="657.3" y="77.6" text-anchor="middle" font-size="6.4" font-family="Liberation Sans, sans-serif" fill="#222">T [°C]</text><circle cx="647.5" cy="82.9" r="0.67" fill="#000"/><text x="656.9" y="85.1" font-size="6.2" font-family="Liberation Serif, serif" fill="#222">−30.0</text><circle cx="647.5" cy="90.21" r="0.93" fill="#000"/><text x="656.9" y="92.41" font-size="6.2" font-family="Liberation Serif, serif" fill="#222">−20.0</text><circle cx="647.5" cy="97.52" r="1.14" fill="#000"/><text x="656.9" y="99.72" font-size="6.2" font-family="Liberation Serif, serif" fill="#222">−10.0</text><circle cx="647.5" cy="104.83" r="1.31" fill="#000"/><text x="656.9" y="107.03" font-size="6.2" font-family="Liberation Serif, serif" fill="#222">0.0</text><circle cx="647.5" cy="112.14" r="1.46" fill="#000"/><text x="656.9" y="114.34" font-size="6.2" font-family="Liberation Serif, serif" fill="#222">10.0</text><circle cx="647.5" cy="119.45" r="1.6" fill="#000"/><text x="656.9" y="121.65" font-size="6.2" font-family="Liberation Serif, serif" fill="#222">20.0</text><circle cx="647.5" cy="126.76" r="1.72" fill="#000"/><text x="656.9" y="128.96" font-size="6.2" font-family="Liberation Serif, serif" fill="#222">30.0</text><circle cx="647.5" cy="134.07" r="1.84" fill="#000"/><text x="656.9" y="136.27" font-size="6.2" font-family="Liberation Serif, serif" fill="#222">40.0</text><circle cx="647.5" cy="141.38" r="1.95" fill="#000"/><text x="656.9" y="143.58" font-size="6.2" font-family="Liberation Serif, serif" fill="#222">50.0</text><circle cx="647.5" cy="148.69" r="2.06" fill="#000"/><text x="656.9" y="150.89" font-size="6.2" font-family="Liberation Serif, serif" fill="#222">60.0</text><text x="169.5" y="264.6" text-anchor="middle" font-size="12.8" font-weight="bold" font-family="Liberation Sans, sans-serif" style="fill:#000;letter-spacing:0;stroke:#000;stroke-width:0.35">(a)</text><text x="514.5" y="262.0" text-anchor="middle" font-size="12.8" font-weight="bold" font-family="Liberation Sans, sans-serif" style="fill:#000;letter-spacing:0;stroke:#000;stroke-width:0.35">(b)</text></svg></body></html>
